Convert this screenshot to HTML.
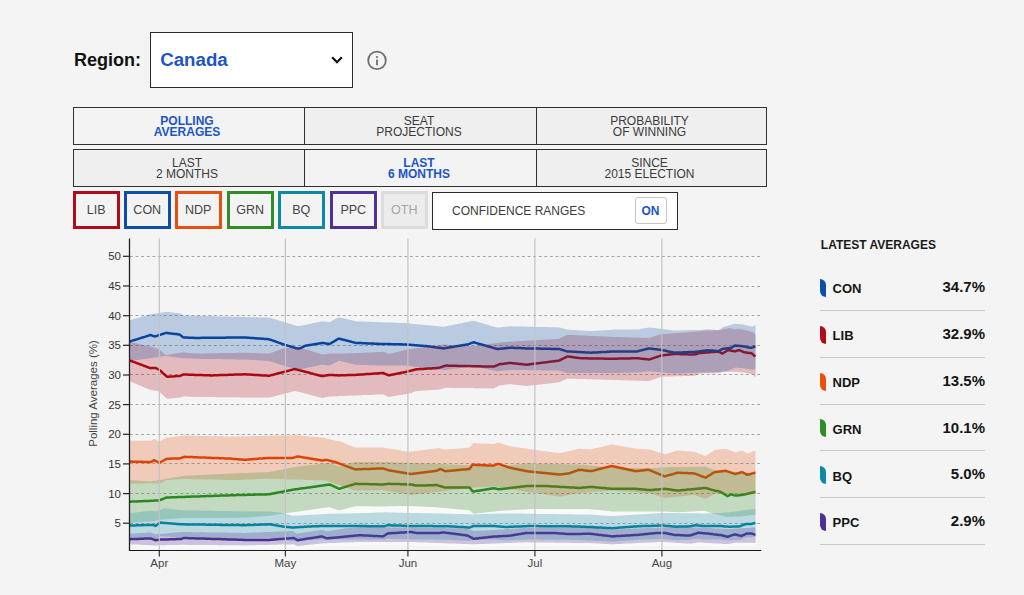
<!DOCTYPE html>
<html><head><meta charset="utf-8"><style>
html,body{margin:0;padding:0;}
body{width:1024px;height:595px;background:#f4f4f4;position:relative;overflow:hidden;font-family:"Liberation Sans",sans-serif;}
.a{position:absolute;white-space:nowrap;}
.row{position:absolute;left:73px;width:692px;height:36px;border:1px solid #303030;background:#efefef;}
.cell{position:absolute;top:0;height:36px;box-sizing:border-box;padding-right:5px;padding-top:2px;display:flex;align-items:center;justify-content:center;text-align:center;font-size:12px;line-height:11.3px;color:#3a3a3a;}
.cell.on{color:#1d55c8;font-weight:bold;background:#f3f3f3;}
.sep{position:absolute;top:0;width:1px;height:36px;background:#303030;}
.pb{position:absolute;top:191px;width:40.5px;height:31.5px;border:3px solid;box-sizing:content-box;display:flex;align-items:center;justify-content:center;font-size:12.5px;color:#444;background:#f3f3f3;}
.mk{position:absolute;left:820.3px;width:6px;height:18px;border-radius:0 6px 0 6px / 0 6px 0 6px;}
.ln{position:absolute;left:832.6px;font-size:13px;font-weight:bold;color:#151515;line-height:15px;}
.vl{position:absolute;right:39px;font-size:15px;font-weight:bold;color:#151515;line-height:17px;text-align:right;}
.dv{position:absolute;left:820px;width:165px;height:1px;background:#c9c9c9;}
</style></head><body>
<div class="a" style="left:74px;top:48px;font-size:18px;font-weight:bold;color:#111;line-height:24px">Region:</div>
<div class="a" style="left:150px;top:32px;width:201px;height:54px;border:1px solid #2a2a2a;background:#fff"></div>
<div class="a" style="left:160.2px;top:48px;font-size:18.7px;font-weight:bold;color:#1d55c4;line-height:24px">Canada</div>
<div class="row" style="top:107px">
 <div class="cell on" style="left:0;width:231px">POLLING<br>AVERAGES</div>
 <div class="sep" style="left:230px"></div>
 <div class="cell" style="left:232px;width:231px">SEAT<br>PROJECTIONS</div>
 <div class="sep" style="left:462px"></div>
 <div class="cell" style="left:464px;width:228px">PROBABILITY<br>OF WINNING</div>
</div>
<div class="row" style="top:149px">
 <div class="cell" style="left:0;width:231px">LAST<br>2 MONTHS</div>
 <div class="sep" style="left:230px"></div>
 <div class="cell on" style="left:232px;width:231px">LAST<br>6 MONTHS</div>
 <div class="sep" style="left:462px"></div>
 <div class="cell" style="left:464px;width:228px">SINCE<br>2015 ELECTION</div>
</div>
<div class="pb" style="left:73px;border-color:rgb(175,12,25)">LIB</div><div class="pb" style="left:124px;border-color:rgb(13,78,168)">CON</div><div class="pb" style="left:175px;border-color:rgb(232,78,12)">NDP</div><div class="pb" style="left:227px;border-color:rgb(48,140,38)">GRN</div><div class="pb" style="left:278px;border-color:rgb(14,137,164)">BQ</div><div class="pb" style="left:330px;border-color:rgb(78,48,150)">PPC</div><div class="pb" style="left:381px;border-color:#dcdcdc;color:#a5a5a5;background:#ececec">OTH</div>
<div class="a" style="left:432px;top:191.6px;width:244px;height:36px;border:1px solid #2a2a2a;background:#fff"></div>
<div class="a" style="left:452px;top:204px;font-size:12px;color:#3a3a3a;line-height:14px">CONFIDENCE RANGES</div>
<div class="a" style="left:634.5px;top:196.5px;width:30px;height:25px;border:1px solid #c4c4c4;border-radius:3px;background:#fff;display:flex;align-items:center;justify-content:center;box-sizing:border-box;padding-top:2px;width:32px;height:27px;font-size:12px;font-weight:bold;color:#1d55c8">ON</div>
<div class="a" style="left:820.8px;top:238px;font-size:12px;font-weight:bold;color:#1a1a1a;line-height:14px">LATEST AVERAGES</div>
<div class="mk" style="top:279.0px;background:rgb(13,78,168)"></div><div class="ln" style="top:281.3px">CON</div><div class="vl" style="top:278.2px">34.7%</div><div class="dv" style="top:310.0px"></div><div class="mk" style="top:325.8px;background:rgb(175,12,25)"></div><div class="ln" style="top:328.1px">LIB</div><div class="vl" style="top:325.0px">32.9%</div><div class="dv" style="top:356.8px"></div><div class="mk" style="top:372.6px;background:rgb(232,78,12)"></div><div class="ln" style="top:374.9px">NDP</div><div class="vl" style="top:371.8px">13.5%</div><div class="dv" style="top:403.6px"></div><div class="mk" style="top:419.4px;background:rgb(48,140,38)"></div><div class="ln" style="top:421.7px">GRN</div><div class="vl" style="top:418.6px">10.1%</div><div class="dv" style="top:450.4px"></div><div class="mk" style="top:466.2px;background:rgb(14,137,164)"></div><div class="ln" style="top:468.5px">BQ</div><div class="vl" style="top:465.4px">5.0%</div><div class="dv" style="top:497.2px"></div><div class="mk" style="top:513.0px;background:rgb(78,48,150)"></div><div class="ln" style="top:515.3px">PPC</div><div class="vl" style="top:512.2px">2.9%</div><div class="dv" style="top:544.0px"></div>
<svg width="1024" height="595" viewBox="0 0 1024 595" style="position:absolute;left:0;top:0">
<line x1="130.0" y1="523.5" x2="760.5" y2="523.5" stroke="#a3a3a3" stroke-width="1" stroke-dasharray="2.8 2.8"/>
<line x1="130.0" y1="493.5" x2="760.5" y2="493.5" stroke="#a3a3a3" stroke-width="1" stroke-dasharray="2.8 2.8"/>
<line x1="130.0" y1="463.5" x2="760.5" y2="463.5" stroke="#a3a3a3" stroke-width="1" stroke-dasharray="2.8 2.8"/>
<line x1="130.0" y1="434.5" x2="760.5" y2="434.5" stroke="#a3a3a3" stroke-width="1" stroke-dasharray="2.8 2.8"/>
<line x1="130.0" y1="404.5" x2="760.5" y2="404.5" stroke="#a3a3a3" stroke-width="1" stroke-dasharray="2.8 2.8"/>
<line x1="130.0" y1="374.5" x2="760.5" y2="374.5" stroke="#a3a3a3" stroke-width="1" stroke-dasharray="2.8 2.8"/>
<line x1="130.0" y1="345.5" x2="760.5" y2="345.5" stroke="#a3a3a3" stroke-width="1" stroke-dasharray="2.8 2.8"/>
<line x1="130.0" y1="315.5" x2="760.5" y2="315.5" stroke="#a3a3a3" stroke-width="1" stroke-dasharray="2.8 2.8"/>
<line x1="130.0" y1="286.5" x2="760.5" y2="286.5" stroke="#a3a3a3" stroke-width="1" stroke-dasharray="2.8 2.8"/>
<line x1="130.0" y1="256.5" x2="760.5" y2="256.5" stroke="#a3a3a3" stroke-width="1" stroke-dasharray="2.8 2.8"/>
<path d="M129.5,522.6 L130.5,522.6 L131.5,522.5 L132.5,522.5 L133.5,522.4 L134.5,522.4 L135.5,522.3 L136.5,522.3 L137.5,522.2 L138.5,522.1 L139.5,522.1 L140.5,522 L141.5,522 L142.5,521.9 L143.5,521.9 L144.5,521.8 L145.5,521.8 L146.5,521.7 L147.5,521.7 L148.5,521.6 L149.5,521.6 L150.5,521.5 L151.5,521.5 L152.5,521.4 L153.5,521.3 L154.5,521 L155.5,520.8 L156.5,520.5 L157.5,520.3 L158.5,520 L159.5,519.8 L160.5,519.6 L161.5,519.5 L162.5,519.4 L163.5,519.4 L164.5,519.3 L165.5,519.2 L166.5,519.2 L167.5,519.1 L168.5,519 L169.5,518.9 L170.5,518.9 L171.5,518.8 L172.5,518.7 L173.5,518.7 L174.5,518.6 L175.5,518.5 L176.5,518.4 L177.5,518.4 L178.5,518.3 L179.5,518.2 L180.5,518.2 L181.5,518.1 L182.5,518.1 L183.5,518.1 L184.5,518.1 L185.5,518.1 L186.5,518.1 L187.5,518.1 L188.5,518.1 L189.5,518 L190.5,518 L191.5,518 L192.5,518 L193.5,518 L194.5,518 L195.5,518 L196.5,518 L197.5,518 L198.5,518 L199.5,518 L200.5,518 L201.5,518 L202.5,518 L203.5,518 L204.5,518 L205.5,517.9 L206.5,517.9 L207.5,517.9 L208.5,517.9 L209.5,517.9 L210.5,517.9 L211.5,517.9 L212.5,517.9 L213.5,517.9 L214.5,517.9 L215.5,517.9 L216.5,517.9 L217.5,517.9 L218.5,517.9 L219.5,517.9 L220.5,517.9 L221.5,517.8 L222.5,517.8 L223.5,517.8 L224.5,517.8 L225.5,517.8 L226.5,517.8 L227.5,517.8 L228.5,517.8 L229.5,517.8 L230.5,517.8 L231.5,517.8 L232.5,517.8 L233.5,517.8 L234.5,517.8 L235.5,517.8 L236.5,517.8 L237.5,517.7 L238.5,517.7 L239.5,517.7 L240.5,517.7 L241.5,517.7 L242.5,517.7 L243.5,517.7 L244.5,517.7 L245.5,517.7 L246.5,517.6 L247.5,517.5 L248.5,517.4 L249.5,517.3 L250.5,517.3 L251.5,517.2 L252.5,517.1 L253.5,517 L254.5,517 L255.5,516.9 L256.5,516.8 L257.5,516.7 L258.5,516.6 L259.5,516.6 L260.5,516.5 L261.5,516.4 L262.5,516.3 L263.5,516.3 L264.5,516.2 L265.5,516.1 L266.5,516 L267.5,515.9 L268.5,515.9 L269.5,515.8 L270.5,515.6 L271.5,515.4 L272.5,515.3 L273.5,515.1 L274.5,514.9 L275.5,514.7 L276.5,514.6 L277.5,514.4 L278.5,514.2 L279.5,514.1 L280.5,513.9 L281.5,513.7 L282.5,513.5 L283.5,513.4 L284.5,513.2 L285.5,513.1 L286.5,513 L287.5,512.9 L288.5,512.8 L289.5,512.7 L290.5,512.5 L291.5,512.4 L292.5,512.3 L293.5,512.2 L294.5,512 L295.5,511.9 L296.5,511.8 L297.5,511.6 L298.5,511.5 L299.5,511.3 L300.5,511.2 L301.5,511 L302.5,510.9 L303.5,510.8 L304.5,510.6 L305.5,510.5 L306.5,510.3 L307.5,510.2 L308.5,510 L309.5,509.9 L310.5,509.8 L311.5,509.6 L312.5,509.5 L313.5,509.3 L314.5,509.2 L315.5,509 L316.5,508.9 L317.5,508.8 L318.5,508.6 L319.5,508.5 L320.5,508.3 L321.5,508.2 L322.5,508 L323.5,507.9 L324.5,507.8 L325.5,507.6 L326.5,507.5 L327.5,507.3 L328.5,507.2 L329.5,507.2 L330.5,507.6 L331.5,507.9 L332.5,508.3 L333.5,508.6 L334.5,509 L335.5,509.3 L336.5,509.6 L337.5,510 L338.5,510.3 L339.5,510.2 L340.5,510 L341.5,509.7 L342.5,509.5 L343.5,509.2 L344.5,509 L345.5,508.7 L346.5,508.5 L347.5,508.2 L348.5,508 L349.5,507.7 L350.5,507.5 L351.5,507.2 L352.5,507 L353.5,506.7 L354.5,506.5 L355.5,506.3 L356.5,506.3 L357.5,506.3 L358.5,506.3 L359.5,506.3 L360.5,506.3 L361.5,506.3 L362.5,506.3 L363.5,506.3 L364.5,506.3 L365.5,506.3 L366.5,506.3 L367.5,506.3 L368.5,506.3 L369.5,506.3 L370.5,506.4 L371.5,506.4 L372.5,506.4 L373.5,506.4 L374.5,506.4 L375.5,506.4 L376.5,506.4 L377.5,506.4 L378.5,506.4 L379.5,506.4 L380.5,506.4 L381.5,506.4 L382.5,506.4 L383.5,506.4 L384.5,506.4 L385.5,506.4 L386.5,506.4 L387.5,506.3 L388.5,506.3 L389.5,506.3 L390.5,506.3 L391.5,506.2 L392.5,506.2 L393.5,506.2 L394.5,506.2 L395.5,506.2 L396.5,506.1 L397.5,506.1 L398.5,506.1 L399.5,506.1 L400.5,506.1 L401.5,506 L402.5,506 L403.5,506 L404.5,506 L405.5,505.9 L406.5,505.9 L407.5,505.9 L408.5,505.9 L409.5,506 L410.5,506 L411.5,506.1 L412.5,506.1 L413.5,506.2 L414.5,506.2 L415.5,506.3 L416.5,506.3 L417.5,506.4 L418.5,506.4 L419.5,506.5 L420.5,506.5 L421.5,506.6 L422.5,506.6 L423.5,506.7 L424.5,506.7 L425.5,506.8 L426.5,506.8 L427.5,506.8 L428.5,506.9 L429.5,506.9 L430.5,507 L431.5,507 L432.5,507.1 L433.5,507.1 L434.5,507.2 L435.5,507.2 L436.5,507.3 L437.5,507.3 L438.5,507.4 L439.5,507.5 L440.5,507.6 L441.5,507.7 L442.5,507.8 L443.5,507.9 L444.5,508 L445.5,508.1 L446.5,508.2 L447.5,508.3 L448.5,508.4 L449.5,508.4 L450.5,508.5 L451.5,508.6 L452.5,508.7 L453.5,508.8 L454.5,508.9 L455.5,509 L456.5,509.1 L457.5,509.2 L458.5,509.3 L459.5,509.4 L460.5,509.4 L461.5,509.5 L462.5,509.6 L463.5,509.7 L464.5,509.8 L465.5,509.9 L466.5,510 L467.5,510.1 L468.5,510.2 L469.5,510.3 L470.5,511 L471.5,512 L472.5,512.9 L473.5,513.8 L474.5,513.7 L475.5,513.6 L476.5,513.5 L477.5,513.3 L478.5,513.2 L479.5,513.1 L480.5,513 L481.5,512.9 L482.5,512.8 L483.5,512.7 L484.5,512.6 L485.5,512.4 L486.5,512.3 L487.5,512.2 L488.5,512.1 L489.5,512 L490.5,511.9 L491.5,511.8 L492.5,511.7 L493.5,511.5 L494.5,511.4 L495.5,511.3 L496.5,511.2 L497.5,511.1 L498.5,511 L499.5,510.9 L500.5,510.8 L501.5,510.8 L502.5,510.7 L503.5,510.6 L504.5,510.6 L505.5,510.5 L506.5,510.5 L507.5,510.4 L508.5,510.3 L509.5,510.3 L510.5,510.2 L511.5,510.2 L512.5,510.1 L513.5,510 L514.5,510 L515.5,509.9 L516.5,509.8 L517.5,509.8 L518.5,509.7 L519.5,509.7 L520.5,509.6 L521.5,509.5 L522.5,509.5 L523.5,509.4 L524.5,509.4 L525.5,509.3 L526.5,509.2 L527.5,509.2 L528.5,509.1 L529.5,509.1 L530.5,509.1 L531.5,509.1 L532.5,509.1 L533.5,509.1 L534.5,509.1 L535.5,509.1 L536.5,509.1 L537.5,509.1 L538.5,509.1 L539.5,509.1 L540.5,509.1 L541.5,509.1 L542.5,509.1 L543.5,509.1 L544.5,509.1 L545.5,509.1 L546.5,509.1 L547.5,509.1 L548.5,509.1 L549.5,509.1 L550.5,509.1 L551.5,509.1 L552.5,509.1 L553.5,509.1 L554.5,509.1 L555.5,509.1 L556.5,509.1 L557.5,509.1 L558.5,509.1 L559.5,509.1 L560.5,509.1 L561.5,509.1 L562.5,509.1 L563.5,509.1 L564.5,509.1 L565.5,509.1 L566.5,509.1 L567.5,509.1 L568.5,509.1 L569.5,509.1 L570.5,509.1 L571.5,509.1 L572.5,509.1 L573.5,509.1 L574.5,509.1 L575.5,509.1 L576.5,509.1 L577.5,509.1 L578.5,509.1 L579.5,509.1 L580.5,509.1 L581.5,509.1 L582.5,509.1 L583.5,509.1 L584.5,509.1 L585.5,509.1 L586.5,509.1 L587.5,509.1 L588.5,509.1 L589.5,509.1 L590.5,509.2 L591.5,509.3 L592.5,509.4 L593.5,509.5 L594.5,509.6 L595.5,509.7 L596.5,509.8 L597.5,509.9 L598.5,510 L599.5,510.1 L600.5,510.2 L601.5,510.3 L602.5,510.4 L603.5,510.5 L604.5,510.6 L605.5,510.7 L606.5,510.8 L607.5,510.9 L608.5,511 L609.5,511.1 L610.5,511.2 L611.5,511.3 L612.5,511.4 L613.5,511.4 L614.5,511.4 L615.5,511.4 L616.5,511.4 L617.5,511.4 L618.5,511.4 L619.5,511.4 L620.5,511.4 L621.5,511.4 L622.5,511.4 L623.5,511.4 L624.5,511.4 L625.5,511.4 L626.5,511.4 L627.5,511.4 L628.5,511.4 L629.5,511.4 L630.5,511.4 L631.5,511.4 L632.5,511.4 L633.5,511.4 L634.5,511.4 L635.5,511.4 L636.5,511.4 L637.5,511.4 L638.5,511.4 L639.5,511.4 L640.5,511.4 L641.5,511.4 L642.5,511.4 L643.5,511.4 L644.5,511.4 L645.5,511.4 L646.5,511.4 L647.5,511.4 L648.5,511.4 L649.5,511.4 L650.5,511.4 L651.5,511.4 L652.5,511.4 L653.5,511.4 L654.5,511.4 L655.5,511.4 L656.5,511.4 L657.5,511.4 L658.5,511.4 L659.5,511.4 L660.5,511.4 L661.5,511.4 L662.5,511.4 L663.5,511.5 L664.5,511.5 L665.5,511.6 L666.5,511.6 L667.5,511.7 L668.5,511.7 L669.5,511.8 L670.5,511.8 L671.5,511.9 L672.5,512 L673.5,512 L674.5,512.1 L675.5,512.1 L676.5,512.2 L677.5,512.2 L678.5,512.3 L679.5,512.3 L680.5,512.2 L681.5,512.1 L682.5,512.1 L683.5,512 L684.5,511.9 L685.5,511.9 L686.5,511.8 L687.5,511.8 L688.5,511.7 L689.5,511.6 L690.5,511.6 L691.5,511.5 L692.5,511.5 L693.5,511.4 L694.5,511.3 L695.5,511.3 L696.5,511.2 L697.5,511.1 L698.5,511.1 L699.5,511 L700.5,511 L701.5,510.9 L702.5,510.8 L703.5,510.8 L704.5,510.7 L705.5,511 L706.5,511.4 L707.5,511.7 L708.5,512.1 L709.5,512.4 L710.5,512.8 L711.5,513.1 L712.5,513.3 L713.5,513.5 L714.5,513.8 L715.5,514 L716.5,514.3 L717.5,514.5 L718.5,514.7 L719.5,515 L720.5,515.2 L721.5,515.5 L722.5,515.7 L723.5,515.9 L724.5,516.2 L725.5,516.4 L726.5,516.7 L727.5,516.9 L728.5,516.9 L729.5,516.8 L730.5,516.8 L731.5,516.8 L732.5,516.7 L733.5,516.7 L734.5,516.6 L735.5,516.6 L736.5,516.6 L737.5,516.5 L738.5,516.5 L739.5,516.5 L740.5,516.4 L741.5,516.4 L742.5,516.3 L743.5,516.1 L744.5,516 L745.5,515.9 L746.5,515.8 L747.5,515.6 L748.5,515.5 L749.5,515.4 L750.5,515.3 L751.5,515.1 L752.5,515 L753.5,514.9 L754.5,514.8 L755.5,514.7 L755.5,514.7 L754.5,514.8 L753.5,514.9 L752.5,515 L751.5,515.1 L750.5,515.3 L749.5,515.4 L748.5,515.5 L747.5,515.6 L746.5,515.8 L745.5,515.9 L744.5,516 L743.5,516.1 L742.5,516.3 L741.5,516.4 L740.5,516.4 L739.5,516.5 L738.5,516.5 L737.5,516.5 L736.5,516.6 L735.5,516.6 L734.5,516.6 L733.5,516.7 L732.5,516.7 L731.5,516.8 L730.5,516.8 L729.5,516.8 L728.5,516.9 L727.5,516.9 L726.5,516.7 L725.5,516.4 L724.5,516.2 L723.5,515.9 L722.5,515.7 L721.5,515.5 L720.5,515.2 L719.5,515 L718.5,514.7 L717.5,514.5 L716.5,514.3 L715.5,514 L714.5,513.8 L713.5,513.5 L712.5,513.3 L711.5,513.2 L710.5,513.2 L709.5,513.2 L708.5,513.3 L707.5,513.3 L706.5,513.3 L705.5,513.4 L704.5,513.4 L703.5,513.4 L702.5,513.4 L701.5,513.4 L700.5,513.4 L699.5,513.3 L698.5,513.3 L697.5,513.3 L696.5,513.3 L695.5,513.3 L694.5,513.3 L693.5,513.3 L692.5,513.3 L691.5,513.3 L690.5,513.3 L689.5,513.3 L688.5,513.2 L687.5,513.2 L686.5,513.2 L685.5,513.2 L684.5,513.2 L683.5,513.2 L682.5,513.2 L681.5,513.2 L680.5,513.2 L679.5,513.2 L678.5,513.2 L677.5,513.1 L676.5,513.1 L675.5,513.1 L674.5,513.1 L673.5,513.1 L672.5,513.1 L671.5,513.1 L670.5,513.1 L669.5,513.1 L668.5,513.1 L667.5,513 L666.5,513 L665.5,513 L664.5,513 L663.5,513 L662.5,513 L661.5,513 L660.5,513.1 L659.5,513.2 L658.5,513.2 L657.5,513.3 L656.5,513.4 L655.5,513.4 L654.5,513.5 L653.5,513.5 L652.5,513.6 L651.5,513.7 L650.5,513.7 L649.5,513.8 L648.5,513.9 L647.5,513.9 L646.5,514 L645.5,514 L644.5,514.1 L643.5,514.2 L642.5,514.2 L641.5,514.3 L640.5,514.3 L639.5,514.4 L638.5,514.5 L637.5,514.5 L636.5,514.6 L635.5,514.7 L634.5,514.7 L633.5,514.8 L632.5,514.8 L631.5,514.9 L630.5,515 L629.5,515 L628.5,515.1 L627.5,515.1 L626.5,515.2 L625.5,515.3 L624.5,515.3 L623.5,515.4 L622.5,515.5 L621.5,515.5 L620.5,515.6 L619.5,515.6 L618.5,515.7 L617.5,515.8 L616.5,515.8 L615.5,515.9 L614.5,515.9 L613.5,516 L612.5,516.1 L611.5,516.1 L610.5,516 L609.5,515.9 L608.5,515.9 L607.5,515.8 L606.5,515.7 L605.5,515.7 L604.5,515.6 L603.5,515.5 L602.5,515.5 L601.5,515.4 L600.5,515.3 L599.5,515.2 L598.5,515.2 L597.5,515.1 L596.5,515 L595.5,515 L594.5,514.9 L593.5,514.8 L592.5,514.8 L591.5,514.7 L590.5,514.6 L589.5,514.6 L588.5,514.6 L587.5,514.6 L586.5,514.6 L585.5,514.5 L584.5,514.5 L583.5,514.5 L582.5,514.5 L581.5,514.5 L580.5,514.5 L579.5,514.5 L578.5,514.4 L577.5,514.4 L576.5,514.4 L575.5,514.4 L574.5,514.4 L573.5,514.4 L572.5,514.4 L571.5,514.3 L570.5,514.3 L569.5,514.3 L568.5,514.3 L567.5,514.3 L566.5,514.3 L565.5,514.3 L564.5,514.2 L563.5,514.2 L562.5,514.2 L561.5,514.2 L560.5,514.2 L559.5,514.2 L558.5,514.2 L557.5,514.1 L556.5,514.1 L555.5,514.1 L554.5,514.1 L553.5,514.1 L552.5,514.1 L551.5,514.1 L550.5,514 L549.5,514 L548.5,514 L547.5,514 L546.5,514 L545.5,514 L544.5,514 L543.5,513.9 L542.5,513.9 L541.5,513.9 L540.5,513.9 L539.5,513.9 L538.5,513.9 L537.5,513.9 L536.5,513.8 L535.5,513.8 L534.5,513.8 L533.5,513.8 L532.5,513.8 L531.5,513.8 L530.5,513.8 L529.5,513.7 L528.5,513.7 L527.5,513.7 L526.5,513.7 L525.5,513.7 L524.5,513.7 L523.5,513.7 L522.5,513.6 L521.5,513.6 L520.5,513.6 L519.5,513.6 L518.5,513.6 L517.5,513.6 L516.5,513.6 L515.5,513.5 L514.5,513.5 L513.5,513.5 L512.5,513.5 L511.5,513.5 L510.5,513.5 L509.5,513.5 L508.5,513.4 L507.5,513.4 L506.5,513.4 L505.5,513.4 L504.5,513.4 L503.5,513.5 L502.5,513.5 L501.5,513.5 L500.5,513.5 L499.5,513.6 L498.5,513.6 L497.5,513.6 L496.5,513.7 L495.5,513.7 L494.5,513.7 L493.5,513.8 L492.5,513.8 L491.5,513.8 L490.5,513.8 L489.5,513.9 L488.5,513.9 L487.5,513.9 L486.5,514 L485.5,514 L484.5,514 L483.5,514.1 L482.5,514.1 L481.5,514.1 L480.5,514.1 L479.5,514.2 L478.5,514.2 L477.5,514.2 L476.5,514.3 L475.5,514.3 L474.5,514.3 L473.5,514.4 L472.5,514.4 L471.5,514.4 L470.5,514.4 L469.5,514.3 L468.5,514.3 L467.5,514.3 L466.5,514.2 L465.5,514.2 L464.5,514.2 L463.5,514.2 L462.5,514.1 L461.5,514.1 L460.5,514.1 L459.5,514 L458.5,514 L457.5,514 L456.5,514 L455.5,513.9 L454.5,513.9 L453.5,513.9 L452.5,513.8 L451.5,513.8 L450.5,513.8 L449.5,513.8 L448.5,513.7 L447.5,513.7 L446.5,513.7 L445.5,513.6 L444.5,513.6 L443.5,513.6 L442.5,513.6 L441.5,513.5 L440.5,513.5 L439.5,513.5 L438.5,513.4 L437.5,513.4 L436.5,513.4 L435.5,513.4 L434.5,513.4 L433.5,513.4 L432.5,513.3 L431.5,513.3 L430.5,513.3 L429.5,513.3 L428.5,513.3 L427.5,513.3 L426.5,513.3 L425.5,513.2 L424.5,513.2 L423.5,513.2 L422.5,513.2 L421.5,513.2 L420.5,513.2 L419.5,513.2 L418.5,513.1 L417.5,513.1 L416.5,513.1 L415.5,513.1 L414.5,513.1 L413.5,513.1 L412.5,513.1 L411.5,513.1 L410.5,513 L409.5,513 L408.5,513 L407.5,513 L406.5,513 L405.5,512.9 L404.5,512.9 L403.5,512.9 L402.5,512.8 L401.5,512.8 L400.5,512.8 L399.5,512.7 L398.5,512.7 L397.5,512.7 L396.5,512.6 L395.5,512.6 L394.5,512.6 L393.5,512.6 L392.5,512.5 L391.5,512.5 L390.5,512.5 L389.5,512.4 L388.5,512.4 L387.5,512.4 L386.5,512.3 L385.5,512.3 L384.5,512.3 L383.5,512.4 L382.5,512.4 L381.5,512.4 L380.5,512.5 L379.5,512.5 L378.5,512.5 L377.5,512.6 L376.5,512.6 L375.5,512.7 L374.5,512.7 L373.5,512.7 L372.5,512.8 L371.5,512.8 L370.5,512.8 L369.5,512.9 L368.5,512.9 L367.5,512.9 L366.5,513 L365.5,513 L364.5,513 L363.5,513.1 L362.5,513.1 L361.5,513.1 L360.5,513.2 L359.5,513.2 L358.5,513.2 L357.5,513.2 L356.5,513.3 L355.5,513.3 L354.5,513.3 L353.5,513.3 L352.5,513.3 L351.5,513.4 L350.5,513.4 L349.5,513.4 L348.5,513.4 L347.5,513.4 L346.5,513.5 L345.5,513.5 L344.5,513.5 L343.5,513.5 L342.5,513.5 L341.5,513.6 L340.5,513.6 L339.5,513.6 L338.5,513.6 L337.5,513.6 L336.5,513.7 L335.5,513.7 L334.5,513.7 L333.5,513.7 L332.5,513.7 L331.5,513.8 L330.5,513.8 L329.5,513.8 L328.5,513.8 L327.5,513.9 L326.5,513.9 L325.5,514 L324.5,514.1 L323.5,514.1 L322.5,514.2 L321.5,514.2 L320.5,514.3 L319.5,514.3 L318.5,514.4 L317.5,514.4 L316.5,514.5 L315.5,514.5 L314.5,514.6 L313.5,514.7 L312.5,514.7 L311.5,514.8 L310.5,514.8 L309.5,514.9 L308.5,514.9 L307.5,515 L306.5,515 L305.5,515.1 L304.5,515.2 L303.5,515.2 L302.5,515.3 L301.5,515.3 L300.5,515.4 L299.5,515.4 L298.5,515.5 L297.5,515.5 L296.5,515.6 L295.5,515.6 L294.5,515.7 L293.5,515.8 L292.5,515.7 L291.5,515.4 L290.5,515.1 L289.5,514.8 L288.5,514.5 L287.5,514.2 L286.5,513.8 L285.5,513.5 L284.5,513.2 L283.5,513.4 L282.5,513.5 L281.5,513.7 L280.5,513.9 L279.5,514.1 L278.5,514.2 L277.5,514.4 L276.5,514.6 L275.5,514.7 L274.5,514.9 L273.5,515.1 L272.5,515.3 L271.5,515.4 L270.5,515.6 L269.5,515.8 L268.5,515.9 L267.5,515.9 L266.5,516 L265.5,516.1 L264.5,516.2 L263.5,516.3 L262.5,516.3 L261.5,516.4 L260.5,516.5 L259.5,516.6 L258.5,516.6 L257.5,516.7 L256.5,516.8 L255.5,516.9 L254.5,517 L253.5,517 L252.5,517.1 L251.5,517.2 L250.5,517.3 L249.5,517.3 L248.5,517.4 L247.5,517.5 L246.5,517.6 L245.5,517.7 L244.5,517.7 L243.5,517.7 L242.5,517.7 L241.5,517.7 L240.5,517.7 L239.5,517.7 L238.5,517.7 L237.5,517.7 L236.5,517.8 L235.5,517.8 L234.5,517.8 L233.5,517.8 L232.5,517.8 L231.5,517.8 L230.5,517.8 L229.5,517.8 L228.5,517.8 L227.5,517.8 L226.5,517.8 L225.5,517.8 L224.5,517.8 L223.5,517.8 L222.5,517.8 L221.5,517.8 L220.5,517.9 L219.5,517.9 L218.5,517.9 L217.5,517.9 L216.5,517.9 L215.5,517.9 L214.5,517.9 L213.5,517.9 L212.5,517.9 L211.5,517.9 L210.5,517.9 L209.5,517.9 L208.5,517.9 L207.5,517.9 L206.5,517.9 L205.5,517.9 L204.5,518 L203.5,518 L202.5,518 L201.5,518 L200.5,518 L199.5,518 L198.5,518 L197.5,518 L196.5,518 L195.5,518 L194.5,518 L193.5,518 L192.5,518 L191.5,518 L190.5,518 L189.5,518 L188.5,518.1 L187.5,518.1 L186.5,518.1 L185.5,518.1 L184.5,518.1 L183.5,518.1 L182.5,518.1 L181.5,518.1 L180.5,518.2 L179.5,518.2 L178.5,518.3 L177.5,518.4 L176.5,518.4 L175.5,518.5 L174.5,518.6 L173.5,518.7 L172.5,518.7 L171.5,518.8 L170.5,518.9 L169.5,518.9 L168.5,519 L167.5,519.1 L166.5,519.2 L165.5,519.2 L164.5,519.3 L163.5,519.4 L162.5,519.4 L161.5,519.5 L160.5,519.6 L159.5,519.8 L158.5,520 L157.5,520.3 L156.5,520.5 L155.5,520.8 L154.5,521 L153.5,521.3 L152.5,521.4 L151.5,521.5 L150.5,521.5 L149.5,521.6 L148.5,521.6 L147.5,521.7 L146.5,521.7 L145.5,521.8 L144.5,521.8 L143.5,521.9 L142.5,521.9 L141.5,522 L140.5,522 L139.5,522.1 L138.5,522.1 L137.5,522.2 L136.5,522.3 L135.5,522.3 L134.5,522.4 L133.5,522.4 L132.5,522.5 L131.5,522.5 L130.5,522.6 L129.5,522.6Z" fill="#f9f9f9"/>
<path d="M129.5,544.3 L130.5,544.3 L131.5,544.4 L132.5,544.4 L133.5,544.5 L134.5,544.5 L135.5,544.6 L136.5,544.6 L137.5,544.6 L138.5,544.7 L139.5,544.7 L140.5,544.8 L141.5,544.8 L142.5,544.9 L143.5,544.9 L144.5,545 L145.5,545 L146.5,545.1 L147.5,545.1 L148.5,545.1 L149.5,545.2 L150.5,545.2 L151.5,545.3 L152.5,545.3 L153.5,545.4 L154.5,545.4 L155.5,545.4 L156.5,545.4 L157.5,545.3 L158.5,545.3 L159.5,545.3 L160.5,545.3 L161.5,545.2 L162.5,545.2 L163.5,545.2 L164.5,545.2 L165.5,545.2 L166.5,545.1 L167.5,545.1 L168.5,545.1 L169.5,545.1 L170.5,545 L171.5,545 L172.5,545 L173.5,545 L174.5,545 L175.5,544.9 L176.5,544.9 L177.5,544.9 L178.5,544.9 L179.5,544.8 L180.5,544.8 L181.5,544.8 L182.5,544.8 L183.5,544.8 L184.5,544.8 L185.5,544.8 L186.5,544.8 L187.5,544.9 L188.5,544.9 L189.5,544.9 L190.5,544.9 L191.5,544.9 L192.5,544.9 L193.5,544.9 L194.5,544.9 L195.5,544.9 L196.5,544.9 L197.5,545 L198.5,545 L199.5,545 L200.5,545 L201.5,545 L202.5,545 L203.5,545 L204.5,545 L205.5,545 L206.5,545 L207.5,545 L208.5,545.1 L209.5,545.1 L210.5,545.1 L211.5,545.1 L212.5,545.1 L213.5,545.1 L214.5,545.1 L215.5,545.1 L216.5,545.1 L217.5,545.1 L218.5,545.2 L219.5,545.2 L220.5,545.2 L221.5,545.2 L222.5,545.2 L223.5,545.2 L224.5,545.2 L225.5,545.2 L226.5,545.2 L227.5,545.2 L228.5,545.2 L229.5,545.3 L230.5,545.3 L231.5,545.3 L232.5,545.3 L233.5,545.3 L234.5,545.3 L235.5,545.3 L236.5,545.3 L237.5,545.3 L238.5,545.3 L239.5,545.3 L240.5,545.4 L241.5,545.4 L242.5,545.4 L243.5,545.4 L244.5,545.4 L245.5,545.4 L246.5,545.4 L247.5,545.3 L248.5,545.3 L249.5,545.3 L250.5,545.3 L251.5,545.3 L252.5,545.2 L253.5,545.2 L254.5,545.2 L255.5,545.2 L256.5,545.1 L257.5,545.1 L258.5,545.1 L259.5,545.1 L260.5,545.1 L261.5,545 L262.5,545 L263.5,545 L264.5,545 L265.5,544.9 L266.5,544.9 L267.5,544.9 L268.5,544.9 L269.5,544.8 L270.5,544.8 L271.5,544.8 L272.5,544.8 L273.5,544.8 L274.5,544.7 L275.5,544.7 L276.5,544.7 L277.5,544.7 L278.5,544.6 L279.5,544.6 L280.5,544.6 L281.5,544.6 L282.5,544.6 L283.5,544.5 L284.5,544.5 L285.5,544.5 L286.5,544.5 L287.5,544.4 L288.5,544.4 L289.5,544.4 L290.5,544.4 L291.5,544.4 L292.5,544.3 L293.5,544.3 L294.5,544.6 L295.5,545.1 L296.5,545.6 L297.5,546 L298.5,545.9 L299.5,545.8 L300.5,545.7 L301.5,545.6 L302.5,545.5 L303.5,545.4 L304.5,545.2 L305.5,545.1 L306.5,545 L307.5,544.9 L308.5,544.8 L309.5,544.7 L310.5,544.6 L311.5,544.5 L312.5,544.4 L313.5,544.3 L314.5,544.2 L315.5,544.1 L316.5,544 L317.5,543.9 L318.5,543.8 L319.5,543.7 L320.5,543.6 L321.5,543.5 L322.5,543.4 L323.5,543.3 L324.5,543.3 L325.5,543.3 L326.5,543.2 L327.5,543.2 L328.5,543.1 L329.5,543.1 L330.5,543.1 L331.5,543 L332.5,543 L333.5,542.9 L334.5,542.9 L335.5,542.9 L336.5,542.8 L337.5,542.8 L338.5,542.7 L339.5,542.7 L340.5,542.7 L341.5,542.6 L342.5,542.6 L343.5,542.6 L344.5,542.5 L345.5,542.5 L346.5,542.4 L347.5,542.4 L348.5,542.4 L349.5,542.3 L350.5,542.3 L351.5,542.2 L352.5,542.2 L353.5,542.2 L354.5,542.1 L355.5,542.1 L356.5,542 L357.5,542 L358.5,542 L359.5,541.9 L360.5,541.9 L361.5,541.9 L362.5,541.9 L363.5,541.9 L364.5,541.9 L365.5,541.9 L366.5,541.9 L367.5,541.9 L368.5,541.9 L369.5,541.9 L370.5,541.9 L371.5,541.9 L372.5,541.9 L373.5,541.9 L374.5,541.9 L375.5,541.9 L376.5,541.9 L377.5,541.9 L378.5,541.9 L379.5,541.9 L380.5,541.9 L381.5,541.9 L382.5,541.9 L383.5,541.9 L384.5,541.9 L385.5,541.9 L386.5,541.9 L387.5,541.9 L388.5,541.9 L389.5,541.9 L390.5,541.9 L391.5,541.9 L392.5,541.9 L393.5,541.9 L394.5,541.9 L395.5,541.9 L396.5,541.9 L397.5,541.9 L398.5,541.9 L399.5,541.9 L400.5,541.9 L401.5,541.9 L402.5,541.9 L403.5,541.9 L404.5,541.9 L405.5,541.9 L406.5,541.9 L407.5,541.9 L408.5,541.9 L409.5,542 L410.5,542 L411.5,542 L412.5,542.1 L413.5,542.1 L414.5,542.1 L415.5,542.2 L416.5,542.2 L417.5,542.3 L418.5,542.3 L419.5,542.3 L420.5,542.4 L421.5,542.4 L422.5,542.4 L423.5,542.5 L424.5,542.5 L425.5,542.5 L426.5,542.6 L427.5,542.6 L428.5,542.7 L429.5,542.7 L430.5,542.7 L431.5,542.8 L432.5,542.8 L433.5,542.8 L434.5,542.9 L435.5,542.9 L436.5,543 L437.5,543 L438.5,543 L439.5,543.1 L440.5,543.1 L441.5,543.1 L442.5,543.2 L443.5,543.2 L444.5,543.2 L445.5,543.3 L446.5,543.3 L447.5,543.4 L448.5,543.4 L449.5,543.4 L450.5,543.5 L451.5,543.5 L452.5,543.5 L453.5,543.6 L454.5,543.6 L455.5,543.6 L456.5,543.7 L457.5,543.7 L458.5,543.8 L459.5,543.8 L460.5,543.8 L461.5,543.9 L462.5,543.9 L463.5,543.9 L464.5,544 L465.5,544 L466.5,544 L467.5,544.1 L468.5,544.1 L469.5,544.2 L470.5,544.2 L471.5,544.2 L472.5,544.3 L473.5,544.3 L474.5,544.3 L475.5,544.2 L476.5,544.2 L477.5,544.1 L478.5,544.1 L479.5,544.1 L480.5,544 L481.5,544 L482.5,544 L483.5,543.9 L484.5,543.9 L485.5,543.8 L486.5,543.8 L487.5,543.8 L488.5,543.7 L489.5,543.7 L490.5,543.7 L491.5,543.6 L492.5,543.6 L493.5,543.5 L494.5,543.5 L495.5,543.5 L496.5,543.4 L497.5,543.4 L498.5,543.4 L499.5,543.3 L500.5,543.3 L501.5,543.2 L502.5,543.2 L503.5,543.2 L504.5,543.1 L505.5,543.1 L506.5,543 L507.5,543 L508.5,543 L509.5,542.9 L510.5,542.9 L511.5,542.9 L512.5,542.8 L513.5,542.8 L514.5,542.7 L515.5,542.7 L516.5,542.7 L517.5,542.6 L518.5,542.6 L519.5,542.6 L520.5,542.5 L521.5,542.5 L522.5,542.4 L523.5,542.4 L524.5,542.4 L525.5,542.3 L526.5,542.3 L527.5,542.3 L528.5,542.3 L529.5,542.3 L530.5,542.4 L531.5,542.4 L532.5,542.4 L533.5,542.4 L534.5,542.4 L535.5,542.4 L536.5,542.4 L537.5,542.4 L538.5,542.5 L539.5,542.5 L540.5,542.5 L541.5,542.5 L542.5,542.5 L543.5,542.5 L544.5,542.5 L545.5,542.5 L546.5,542.6 L547.5,542.6 L548.5,542.6 L549.5,542.6 L550.5,542.6 L551.5,542.6 L552.5,542.6 L553.5,542.6 L554.5,542.7 L555.5,542.7 L556.5,542.7 L557.5,542.7 L558.5,542.7 L559.5,542.7 L560.5,542.7 L561.5,542.7 L562.5,542.8 L563.5,542.8 L564.5,542.8 L565.5,542.8 L566.5,542.8 L567.5,542.8 L568.5,542.8 L569.5,542.8 L570.5,542.9 L571.5,542.9 L572.5,542.9 L573.5,542.9 L574.5,542.9 L575.5,542.9 L576.5,542.9 L577.5,542.9 L578.5,543 L579.5,543 L580.5,543 L581.5,543 L582.5,543 L583.5,543 L584.5,543 L585.5,543 L586.5,543.1 L587.5,543.1 L588.5,543.1 L589.5,543.1 L590.5,543.1 L591.5,543.2 L592.5,543.2 L593.5,543.3 L594.5,543.3 L595.5,543.4 L596.5,543.5 L597.5,543.5 L598.5,543.6 L599.5,543.6 L600.5,543.7 L601.5,543.7 L602.5,543.8 L603.5,543.8 L604.5,543.9 L605.5,543.9 L606.5,544 L607.5,544.1 L608.5,544.1 L609.5,544.2 L610.5,544.2 L611.5,544.3 L612.5,544.3 L613.5,544.2 L614.5,544.2 L615.5,544.1 L616.5,544.1 L617.5,544 L618.5,544 L619.5,543.9 L620.5,543.9 L621.5,543.8 L622.5,543.8 L623.5,543.8 L624.5,543.7 L625.5,543.7 L626.5,543.6 L627.5,543.6 L628.5,543.5 L629.5,543.5 L630.5,543.4 L631.5,543.4 L632.5,543.3 L633.5,543.3 L634.5,543.2 L635.5,543.2 L636.5,543.1 L637.5,543.1 L638.5,543 L639.5,543 L640.5,542.9 L641.5,542.9 L642.5,542.8 L643.5,542.8 L644.5,542.7 L645.5,542.7 L646.5,542.7 L647.5,542.6 L648.5,542.6 L649.5,542.5 L650.5,542.5 L651.5,542.4 L652.5,542.4 L653.5,542.3 L654.5,542.3 L655.5,542.2 L656.5,542.2 L657.5,542.1 L658.5,542.1 L659.5,542 L660.5,542 L661.5,541.9 L662.5,541.9 L663.5,542 L664.5,542 L665.5,542.1 L666.5,542.2 L667.5,542.2 L668.5,542.3 L669.5,542.4 L670.5,542.4 L671.5,542.5 L672.5,542.6 L673.5,542.6 L674.5,542.7 L675.5,542.7 L676.5,542.8 L677.5,542.9 L678.5,542.9 L679.5,543 L680.5,543.1 L681.5,543.1 L682.5,543.2 L683.5,543.3 L684.5,543.3 L685.5,543.4 L686.5,543.4 L687.5,543.5 L688.5,543.6 L689.5,543.6 L690.5,543.7 L691.5,543.5 L692.5,543.4 L693.5,543.2 L694.5,543 L695.5,542.9 L696.5,542.7 L697.5,542.6 L698.5,542.4 L699.5,542.5 L700.5,542.5 L701.5,542.6 L702.5,542.6 L703.5,542.7 L704.5,542.8 L705.5,542.8 L706.5,542.9 L707.5,542.9 L708.5,543 L709.5,543 L710.5,543.1 L711.5,543.2 L712.5,543.2 L713.5,543.3 L714.5,543.3 L715.5,543.4 L716.5,543.5 L717.5,543.5 L718.5,543.6 L719.5,543.6 L720.5,543.7 L721.5,543.7 L722.5,543.8 L723.5,543.9 L724.5,543.9 L725.5,544 L726.5,544 L727.5,544.1 L728.5,543.9 L729.5,543.7 L730.5,543.5 L731.5,543.4 L732.5,543.2 L733.5,543 L734.5,542.8 L735.5,542.8 L736.5,542.8 L737.5,542.8 L738.5,542.8 L739.5,542.8 L740.5,542.8 L741.5,542.8 L742.5,542.8 L743.5,542.8 L744.5,542.8 L745.5,542.8 L746.5,542.8 L747.5,542.8 L748.5,542.8 L749.5,542.8 L750.5,542.8 L751.5,542.8 L752.5,542.8 L753.5,542.8 L754.5,542.8 L755.5,542.8 L755.5,546.3 L754.5,546.3 L753.5,546.3 L752.5,546.3 L751.5,546.3 L750.5,546.3 L749.5,546.3 L748.5,546.3 L747.5,546.3 L746.5,546.3 L745.5,546.3 L744.5,546.3 L743.5,546.3 L742.5,546.3 L741.5,546.3 L740.5,546.3 L739.5,546.3 L738.5,546.3 L737.5,546.3 L736.5,546.3 L735.5,546.3 L734.5,546.3 L733.5,546.5 L732.5,546.7 L731.5,546.9 L730.5,547 L729.5,547.2 L728.5,547.4 L727.5,547.6 L726.5,547.5 L725.5,547.5 L724.5,547.4 L723.5,547.4 L722.5,547.3 L721.5,547.2 L720.5,547.2 L719.5,547.1 L718.5,547.1 L717.5,547 L716.5,547 L715.5,546.9 L714.5,546.8 L713.5,546.8 L712.5,546.7 L711.5,546.7 L710.5,546.6 L709.5,546.5 L708.5,546.5 L707.5,546.4 L706.5,546.4 L705.5,546.3 L704.5,546.3 L703.5,546.2 L702.5,546.1 L701.5,546.1 L700.5,546 L699.5,546 L698.5,545.9 L697.5,546.1 L696.5,546.2 L695.5,546.4 L694.5,546.5 L693.5,546.7 L692.5,546.9 L691.5,547 L690.5,547.2 L689.5,547.1 L688.5,547.1 L687.5,547 L686.5,546.9 L685.5,546.9 L684.5,546.8 L683.5,546.8 L682.5,546.7 L681.5,546.6 L680.5,546.6 L679.5,546.5 L678.5,546.4 L677.5,546.4 L676.5,546.3 L675.5,546.2 L674.5,546.2 L673.5,546.1 L672.5,546.1 L671.5,546 L670.5,545.9 L669.5,545.9 L668.5,545.8 L667.5,545.7 L666.5,545.7 L665.5,545.6 L664.5,545.5 L663.5,545.5 L662.5,545.4 L661.5,545.4 L660.5,545.5 L659.5,545.5 L658.5,545.6 L657.5,545.6 L656.5,545.7 L655.5,545.7 L654.5,545.8 L653.5,545.8 L652.5,545.9 L651.5,545.9 L650.5,546 L649.5,546 L648.5,546.1 L647.5,546.1 L646.5,546.2 L645.5,546.2 L644.5,546.2 L643.5,546.3 L642.5,546.3 L641.5,546.4 L640.5,546.4 L639.5,546.5 L638.5,546.5 L637.5,546.6 L636.5,546.6 L635.5,546.7 L634.5,546.7 L633.5,546.8 L632.5,546.8 L631.5,546.9 L630.5,546.9 L629.5,547 L628.5,547 L627.5,547.1 L626.5,547.1 L625.5,547.2 L624.5,547.2 L623.5,547.3 L622.5,547.3 L621.5,547.3 L620.5,547.4 L619.5,547.4 L618.5,547.5 L617.5,547.5 L616.5,547.6 L615.5,547.6 L614.5,547.7 L613.5,547.7 L612.5,547.8 L611.5,547.8 L610.5,547.7 L609.5,547.7 L608.5,547.6 L607.5,547.6 L606.5,547.5 L605.5,547.4 L604.5,547.4 L603.5,547.3 L602.5,547.3 L601.5,547.2 L600.5,547.2 L599.5,547.1 L598.5,547.1 L597.5,547 L596.5,547 L595.5,546.9 L594.5,546.8 L593.5,546.8 L592.5,546.7 L591.5,546.7 L590.5,546.6 L589.5,546.6 L588.5,546.6 L587.5,546.6 L586.5,546.6 L585.5,546.5 L584.5,546.5 L583.5,546.5 L582.5,546.5 L581.5,546.5 L580.5,546.5 L579.5,546.5 L578.5,546.5 L577.5,546.4 L576.5,546.4 L575.5,546.4 L574.5,546.4 L573.5,546.4 L572.5,546.4 L571.5,546.4 L570.5,546.4 L569.5,546.3 L568.5,546.3 L567.5,546.3 L566.5,546.3 L565.5,546.3 L564.5,546.3 L563.5,546.3 L562.5,546.3 L561.5,546.2 L560.5,546.2 L559.5,546.2 L558.5,546.2 L557.5,546.2 L556.5,546.2 L555.5,546.2 L554.5,546.2 L553.5,546.1 L552.5,546.1 L551.5,546.1 L550.5,546.1 L549.5,546.1 L548.5,546.1 L547.5,546.1 L546.5,546.1 L545.5,546 L544.5,546 L543.5,546 L542.5,546 L541.5,546 L540.5,546 L539.5,546 L538.5,546 L537.5,545.9 L536.5,545.9 L535.5,545.9 L534.5,545.9 L533.5,545.9 L532.5,545.9 L531.5,545.9 L530.5,545.9 L529.5,545.8 L528.5,545.8 L527.5,545.8 L526.5,545.8 L525.5,545.8 L524.5,545.9 L523.5,545.9 L522.5,545.9 L521.5,546 L520.5,546 L519.5,546.1 L518.5,546.1 L517.5,546.1 L516.5,546.2 L515.5,546.2 L514.5,546.2 L513.5,546.3 L512.5,546.3 L511.5,546.4 L510.5,546.4 L509.5,546.4 L508.5,546.5 L507.5,546.5 L506.5,546.5 L505.5,546.6 L504.5,546.6 L503.5,546.7 L502.5,546.7 L501.5,546.7 L500.5,546.8 L499.5,546.8 L498.5,546.9 L497.5,546.9 L496.5,546.9 L495.5,547 L494.5,547 L493.5,547 L492.5,547.1 L491.5,547.1 L490.5,547.2 L489.5,547.2 L488.5,547.2 L487.5,547.3 L486.5,547.3 L485.5,547.3 L484.5,547.4 L483.5,547.4 L482.5,547.5 L481.5,547.5 L480.5,547.5 L479.5,547.6 L478.5,547.6 L477.5,547.6 L476.5,547.7 L475.5,547.7 L474.5,547.8 L473.5,547.8 L472.5,547.8 L471.5,547.7 L470.5,547.7 L469.5,547.7 L468.5,547.6 L467.5,547.6 L466.5,547.5 L465.5,547.5 L464.5,547.5 L463.5,547.4 L462.5,547.4 L461.5,547.4 L460.5,547.3 L459.5,547.3 L458.5,547.3 L457.5,547.2 L456.5,547.2 L455.5,547.1 L454.5,547.1 L453.5,547.1 L452.5,547 L451.5,547 L450.5,547 L449.5,546.9 L448.5,546.9 L447.5,546.9 L446.5,546.8 L445.5,546.8 L444.5,546.7 L443.5,546.7 L442.5,546.7 L441.5,546.6 L440.5,546.6 L439.5,546.6 L438.5,546.5 L437.5,546.5 L436.5,546.5 L435.5,546.4 L434.5,546.4 L433.5,546.3 L432.5,546.3 L431.5,546.3 L430.5,546.2 L429.5,546.2 L428.5,546.2 L427.5,546.1 L426.5,546.1 L425.5,546 L424.5,546 L423.5,546 L422.5,545.9 L421.5,545.9 L420.5,545.9 L419.5,545.8 L418.5,545.8 L417.5,545.8 L416.5,545.7 L415.5,545.7 L414.5,545.6 L413.5,545.6 L412.5,545.6 L411.5,545.5 L410.5,545.5 L409.5,545.5 L408.5,545.4 L407.5,545.4 L406.5,545.4 L405.5,545.4 L404.5,545.4 L403.5,545.4 L402.5,545.4 L401.5,545.4 L400.5,545.4 L399.5,545.4 L398.5,545.4 L397.5,545.4 L396.5,545.4 L395.5,545.4 L394.5,545.4 L393.5,545.4 L392.5,545.4 L391.5,545.4 L390.5,545.4 L389.5,545.4 L388.5,545.4 L387.5,545.4 L386.5,545.4 L385.5,545.4 L384.5,545.4 L383.5,545.4 L382.5,545.4 L381.5,545.4 L380.5,545.4 L379.5,545.4 L378.5,545.4 L377.5,545.4 L376.5,545.4 L375.5,545.4 L374.5,545.4 L373.5,545.4 L372.5,545.4 L371.5,545.4 L370.5,545.4 L369.5,545.4 L368.5,545.4 L367.5,545.4 L366.5,545.4 L365.5,545.4 L364.5,545.4 L363.5,545.4 L362.5,545.4 L361.5,545.4 L360.5,545.4 L359.5,545.4 L358.5,545.5 L357.5,545.5 L356.5,545.5 L355.5,545.6 L354.5,545.6 L353.5,545.7 L352.5,545.7 L351.5,545.7 L350.5,545.8 L349.5,545.8 L348.5,545.9 L347.5,545.9 L346.5,545.9 L345.5,546 L344.5,546 L343.5,546.1 L342.5,546.1 L341.5,546.1 L340.5,546.2 L339.5,546.2 L338.5,546.2 L337.5,546.3 L336.5,546.3 L335.5,546.4 L334.5,546.4 L333.5,546.4 L332.5,546.5 L331.5,546.5 L330.5,546.6 L329.5,546.6 L328.5,546.6 L327.5,546.7 L326.5,546.7 L325.5,546.8 L324.5,546.8 L323.5,546.8 L322.5,546.9 L321.5,547 L320.5,547.1 L319.5,547.2 L318.5,547.3 L317.5,547.4 L316.5,547.5 L315.5,547.6 L314.5,547.7 L313.5,547.8 L312.5,547.9 L311.5,548 L310.5,548.1 L309.5,548.2 L308.5,548.3 L307.5,548.4 L306.5,548.5 L305.5,548.6 L304.5,548.7 L303.5,548.9 L302.5,549 L301.5,549.1 L300.5,549.2 L299.5,549.3 L298.5,549.4 L297.5,549.5 L296.5,549.1 L295.5,548.6 L294.5,548.1 L293.5,547.8 L292.5,547.8 L291.5,547.9 L290.5,547.9 L289.5,547.9 L288.5,547.9 L287.5,547.9 L286.5,548 L285.5,548 L284.5,548 L283.5,548 L282.5,548.1 L281.5,548.1 L280.5,548.1 L279.5,548.1 L278.5,548.1 L277.5,548.2 L276.5,548.2 L275.5,548.2 L274.5,548.2 L273.5,548.3 L272.5,548.3 L271.5,548.3 L270.5,548.3 L269.5,548.3 L268.5,548.4 L267.5,548.4 L266.5,548.4 L265.5,548.4 L264.5,548.5 L263.5,548.5 L262.5,548.5 L261.5,548.5 L260.5,548.6 L259.5,548.6 L258.5,548.6 L257.5,548.6 L256.5,548.6 L255.5,548.7 L254.5,548.7 L253.5,548.7 L252.5,548.7 L251.5,548.8 L250.5,548.8 L249.5,548.8 L248.5,548.8 L247.5,548.8 L246.5,548.9 L245.5,548.9 L244.5,548.9 L243.5,548.9 L242.5,548.9 L241.5,548.9 L240.5,548.9 L239.5,548.8 L238.5,548.8 L237.5,548.8 L236.5,548.8 L235.5,548.8 L234.5,548.8 L233.5,548.8 L232.5,548.8 L231.5,548.8 L230.5,548.8 L229.5,548.8 L228.5,548.7 L227.5,548.7 L226.5,548.7 L225.5,548.7 L224.5,548.7 L223.5,548.7 L222.5,548.7 L221.5,548.7 L220.5,548.7 L219.5,548.7 L218.5,548.7 L217.5,548.6 L216.5,548.6 L215.5,548.6 L214.5,548.6 L213.5,548.6 L212.5,548.6 L211.5,548.6 L210.5,548.6 L209.5,548.6 L208.5,548.6 L207.5,548.5 L206.5,548.5 L205.5,548.5 L204.5,548.5 L203.5,548.5 L202.5,548.5 L201.5,548.5 L200.5,548.5 L199.5,548.5 L198.5,548.5 L197.5,548.5 L196.5,548.4 L195.5,548.4 L194.5,548.4 L193.5,548.4 L192.5,548.4 L191.5,548.4 L190.5,548.4 L189.5,548.4 L188.5,548.4 L187.5,548.4 L186.5,548.3 L185.5,548.3 L184.5,548.3 L183.5,548.3 L182.5,548.3 L181.5,548.3 L180.5,548.3 L179.5,548.3 L178.5,548.4 L177.5,548.4 L176.5,548.4 L175.5,548.4 L174.5,548.5 L173.5,548.5 L172.5,548.5 L171.5,548.5 L170.5,548.5 L169.5,548.6 L168.5,548.6 L167.5,548.6 L166.5,548.6 L165.5,548.7 L164.5,548.7 L163.5,548.7 L162.5,548.7 L161.5,548.7 L160.5,548.8 L159.5,548.8 L158.5,548.8 L157.5,548.8 L156.5,548.9 L155.5,548.9 L154.5,548.9 L153.5,548.9 L152.5,548.8 L151.5,548.8 L150.5,548.7 L149.5,548.7 L148.5,548.6 L147.5,548.6 L146.5,548.6 L145.5,548.5 L144.5,548.5 L143.5,548.4 L142.5,548.4 L141.5,548.3 L140.5,548.3 L139.5,548.2 L138.5,548.2 L137.5,548.1 L136.5,548.1 L135.5,548.1 L134.5,548 L133.5,548 L132.5,547.9 L131.5,547.9 L130.5,547.8 L129.5,547.8Z" fill="#f9f9f9"/>
<polyline points="129.5,360.4 130.5,360.7 131.5,361.1 132.5,361.5 133.5,361.9 134.5,362.2 135.5,362.6 136.5,363 137.5,363.3 138.5,363.7 139.5,364.1 140.5,364.5 141.5,364.8 142.5,365.2 143.5,365.6 144.5,366 145.5,366.3 146.5,366.7 147.5,367.1 148.5,367.5 149.5,367.8 150.5,368.2 151.5,368.1 152.5,368.1 153.5,368 154.5,367.9 155.5,368 156.5,368.4 157.5,368.9 158.5,369.3 159.5,370 160.5,370.9 161.5,371.8 162.5,372.7 163.5,373.6 164.5,374.5 165.5,375.4 166.5,376.3 167.5,376.8 168.5,376.7 169.5,376.6 170.5,376.6 171.5,376.5 172.5,376.4 173.5,376.4 174.5,376.3 175.5,376.2 176.5,376.1 177.5,376.1 178.5,376 179.5,375.9 180.5,375.7 181.5,375.3 182.5,374.9 183.5,374.5 184.5,374.5 185.5,374.6 186.5,374.6 187.5,374.6 188.5,374.7 189.5,374.7 190.5,374.7 191.5,374.8 192.5,374.8 193.5,374.8 194.5,374.9 195.5,374.9 196.5,374.9 197.5,375 198.5,375 199.5,375 200.5,375.1 201.5,375.1 202.5,375.1 203.5,375.2 204.5,375.2 205.5,375.2 206.5,375.2 207.5,375.3 208.5,375.3 209.5,375.3 210.5,375.4 211.5,375.4 212.5,375.4 213.5,375.3 214.5,375.3 215.5,375.3 216.5,375.2 217.5,375.2 218.5,375.2 219.5,375.1 220.5,375.1 221.5,375.1 222.5,375 223.5,375 224.5,375 225.5,374.9 226.5,374.9 227.5,374.9 228.5,374.8 229.5,374.8 230.5,374.8 231.5,374.7 232.5,374.7 233.5,374.7 234.5,374.6 235.5,374.6 236.5,374.6 237.5,374.5 238.5,374.5 239.5,374.5 240.5,374.4 241.5,374.4 242.5,374.4 243.5,374.3 244.5,374.3 245.5,374.3 246.5,374.4 247.5,374.5 248.5,374.5 249.5,374.6 250.5,374.6 251.5,374.7 252.5,374.8 253.5,374.8 254.5,374.9 255.5,375 256.5,375 257.5,375.1 258.5,375.1 259.5,375.2 260.5,375.3 261.5,375.3 262.5,375.4 263.5,375.5 264.5,375.5 265.5,375.6 266.5,375.6 267.5,375.7 268.5,375.8 269.5,375.7 270.5,375.4 271.5,375.1 272.5,374.9 273.5,374.6 274.5,374.4 275.5,374.1 276.5,373.8 277.5,373.6 278.5,373.3 279.5,373 280.5,372.8 281.5,372.5 282.5,372.2 283.5,372 284.5,371.7 285.5,371.5 286.5,371.2 287.5,370.9 288.5,370.7 289.5,370.4 290.5,370.1 291.5,369.9 292.5,369.6 293.5,369.3 294.5,369.1 295.5,369.2 296.5,369.4 297.5,369.7 298.5,369.9 299.5,370.2 300.5,370.4 301.5,370.7 302.5,371 303.5,371.2 304.5,371.5 305.5,371.8 306.5,372 307.5,372.3 308.5,372.6 309.5,372.8 310.5,373.1 311.5,373.4 312.5,373.6 313.5,373.9 314.5,374.2 315.5,374.4 316.5,374.7 317.5,375 318.5,375.2 319.5,375.5 320.5,375.7 321.5,376 322.5,376.1 323.5,376 324.5,375.8 325.5,375.6 326.5,375.4 327.5,375.3 328.5,375.1 329.5,374.9 330.5,374.9 331.5,375 332.5,375.1 333.5,375.1 334.5,375.2 335.5,375.2 336.5,375.3 337.5,375.3 338.5,375.4 339.5,375.4 340.5,375.3 341.5,375.3 342.5,375.3 343.5,375.3 344.5,375.2 345.5,375.2 346.5,375.2 347.5,375.1 348.5,375.1 349.5,375.1 350.5,375 351.5,375 352.5,375 353.5,375 354.5,374.9 355.5,374.9 356.5,374.8 357.5,374.8 358.5,374.7 359.5,374.6 360.5,374.6 361.5,374.5 362.5,374.4 363.5,374.4 364.5,374.3 365.5,374.2 366.5,374.1 367.5,374.1 368.5,374 369.5,373.9 370.5,373.9 371.5,373.8 372.5,373.7 373.5,373.7 374.5,373.6 375.5,373.5 376.5,373.5 377.5,373.4 378.5,373.3 379.5,373.3 380.5,373.2 381.5,373.1 382.5,373 383.5,373.1 384.5,373.6 385.5,374 386.5,374.4 387.5,374.9 388.5,375.3 389.5,375.2 390.5,375 391.5,374.8 392.5,374.6 393.5,374.4 394.5,374.2 395.5,374 396.5,373.8 397.5,373.6 398.5,373.4 399.5,373.2 400.5,373 401.5,372.8 402.5,372.6 403.5,372.4 404.5,372.2 405.5,372 406.5,371.7 407.5,371.5 408.5,371.2 409.5,371 410.5,370.7 411.5,370.5 412.5,370.2 413.5,370 414.5,369.7 415.5,369.5 416.5,369.3 417.5,369.2 418.5,369.2 419.5,369.1 420.5,369 421.5,369 422.5,368.9 423.5,368.9 424.5,368.8 425.5,368.7 426.5,368.7 427.5,368.6 428.5,368.6 429.5,368.5 430.5,368.5 431.5,368.4 432.5,368.3 433.5,368.3 434.5,368.2 435.5,368.2 436.5,368.1 437.5,368 438.5,367.9 439.5,367.6 440.5,367.3 441.5,367 442.5,366.6 443.5,366.3 444.5,366 445.5,365.7 446.5,365.6 447.5,365.6 448.5,365.7 449.5,365.7 450.5,365.7 451.5,365.7 452.5,365.7 453.5,365.8 454.5,365.8 455.5,365.8 456.5,365.8 457.5,365.9 458.5,365.9 459.5,365.9 460.5,365.9 461.5,365.9 462.5,366 463.5,366 464.5,366 465.5,366 466.5,366.1 467.5,366.1 468.5,366.1 469.5,366.1 470.5,366.1 471.5,366.2 472.5,366.2 473.5,366.2 474.5,366.2 475.5,366.2 476.5,366.3 477.5,366.3 478.5,366.3 479.5,366.3 480.5,366.3 481.5,366.4 482.5,366.4 483.5,366.4 484.5,366.4 485.5,366.4 486.5,366.5 487.5,366.5 488.5,366.5 489.5,366.5 490.5,366.5 491.5,366.6 492.5,366.6 493.5,366.6 494.5,366.3 495.5,365.9 496.5,365.5 497.5,365 498.5,364.6 499.5,364.3 500.5,364.1 501.5,364 502.5,363.9 503.5,363.8 504.5,363.6 505.5,363.5 506.5,363.4 507.5,363.2 508.5,363.1 509.5,363 510.5,363 511.5,363.1 512.5,363.2 513.5,363.3 514.5,363.4 515.5,363.5 516.5,363.6 517.5,363.7 518.5,363.8 519.5,363.9 520.5,364 521.5,364.1 522.5,364.3 523.5,364.4 524.5,364.5 525.5,364.6 526.5,364.7 527.5,364.6 528.5,364.5 529.5,364.3 530.5,364.2 531.5,364.1 532.5,364 533.5,363.8 534.5,363.7 535.5,363.6 536.5,363.4 537.5,363.3 538.5,363.2 539.5,363.1 540.5,362.9 541.5,362.8 542.5,362.7 543.5,362.6 544.5,362.4 545.5,362.3 546.5,362.2 547.5,362.1 548.5,361.9 549.5,361.8 550.5,361.7 551.5,361.5 552.5,361.4 553.5,361.3 554.5,361.2 555.5,361 556.5,360.9 557.5,360.8 558.5,360.7 559.5,360.3 560.5,359.8 561.5,359.3 562.5,358.8 563.5,358.3 564.5,357.8 565.5,357.3 566.5,356.8 567.5,356.4 568.5,356.6 569.5,356.7 570.5,356.8 571.5,357 572.5,357.1 573.5,357.3 574.5,357.4 575.5,357.5 576.5,357.7 577.5,357.8 578.5,358 579.5,358.1 580.5,358.2 581.5,358.2 582.5,358.2 583.5,358.3 584.5,358.3 585.5,358.3 586.5,358.3 587.5,358.3 588.5,358.4 589.5,358.4 590.5,358.4 591.5,358.4 592.5,358.4 593.5,358.5 594.5,358.5 595.5,358.5 596.5,358.5 597.5,358.5 598.5,358.5 599.5,358.6 600.5,358.6 601.5,358.6 602.5,358.6 603.5,358.6 604.5,358.7 605.5,358.7 606.5,358.7 607.5,358.7 608.5,358.7 609.5,358.8 610.5,358.8 611.5,358.8 612.5,358.8 613.5,358.8 614.5,358.7 615.5,358.7 616.5,358.7 617.5,358.7 618.5,358.6 619.5,358.6 620.5,358.6 621.5,358.6 622.5,358.5 623.5,358.5 624.5,358.5 625.5,358.5 626.5,358.5 627.5,358.4 628.5,358.4 629.5,358.4 630.5,358.4 631.5,358.3 632.5,358.3 633.5,358.3 634.5,358.3 635.5,358.2 636.5,358.2 637.5,358.2 638.5,358.3 639.5,358.4 640.5,358.6 641.5,358.7 642.5,358.8 643.5,358.9 644.5,359 645.5,359.1 646.5,359.2 647.5,359.3 648.5,359.4 649.5,359.4 650.5,359.1 651.5,358.7 652.5,358.4 653.5,358.1 654.5,357.7 655.5,357.4 656.5,357.1 657.5,356.7 658.5,356.4 659.5,356.1 660.5,355.7 661.5,355.5 662.5,355.4 663.5,355.2 664.5,355.1 665.5,355 666.5,354.9 667.5,354.8 668.5,354.7 669.5,354.5 670.5,354.4 671.5,354.3 672.5,354.2 673.5,354.1 674.5,354 675.5,354 676.5,354.1 677.5,354.1 678.5,354.1 679.5,354.1 680.5,354.2 681.5,354.2 682.5,354.2 683.5,354.2 684.5,354.3 685.5,354.3 686.5,354.3 687.5,354.3 688.5,354.4 689.5,354.4 690.5,354.4 691.5,354.4 692.5,354.5 693.5,354.5 694.5,354.5 695.5,354.2 696.5,354 697.5,353.7 698.5,353.4 699.5,353.1 700.5,353 701.5,352.9 702.5,352.8 703.5,352.7 704.5,352.7 705.5,352.6 706.5,352.5 707.5,352.4 708.5,352.4 709.5,352.3 710.5,352.2 711.5,352.1 712.5,352.1 713.5,352 714.5,351.9 715.5,351.8 716.5,351.8 717.5,351.7 718.5,351.6 719.5,352 720.5,352.6 721.5,353.3 722.5,353.5 723.5,352.9 724.5,352.3 725.5,351.7 726.5,351 727.5,350.4 728.5,350.1 729.5,350.3 730.5,350.5 731.5,350.7 732.5,350.9 733.5,351.1 734.5,351.3 735.5,351.2 736.5,350.9 737.5,350.5 738.5,350.2 739.5,350.2 740.5,350.7 741.5,351.1 742.5,351.5 743.5,352 744.5,352.3 745.5,352.5 746.5,352.6 747.5,352.7 748.5,352.9 749.5,353 750.5,353.1 751.5,353.3 752.5,354 753.5,354.9 754.5,355.9 755.5,356.4" fill="none" stroke="rgb(168,8,14)" stroke-width="2.5" stroke-linejoin="round"/>
<polyline points="129.5,341.5 130.5,341.2 131.5,340.9 132.5,340.6 133.5,340.3 134.5,340 135.5,339.7 136.5,339.4 137.5,339.1 138.5,338.8 139.5,338.4 140.5,338.1 141.5,337.8 142.5,337.5 143.5,337.2 144.5,336.9 145.5,336.6 146.5,336.2 147.5,335.9 148.5,335.6 149.5,335.3 150.5,335 151.5,335.3 152.5,335.7 153.5,336 154.5,336.4 155.5,336.3 156.5,336 157.5,335.6 158.5,335.3 159.5,335 160.5,334.7 161.5,334.3 162.5,334 163.5,333.7 164.5,333.4 165.5,333.1 166.5,333 167.5,333.1 168.5,333.2 169.5,333.3 170.5,333.4 171.5,333.6 172.5,333.7 173.5,333.8 174.5,333.9 175.5,334 176.5,334.1 177.5,334.3 178.5,334.4 179.5,334.5 180.5,335.2 181.5,336 182.5,336.8 183.5,337.5 184.5,337.5 185.5,337.6 186.5,337.6 187.5,337.6 188.5,337.7 189.5,337.7 190.5,337.7 191.5,337.8 192.5,337.8 193.5,337.8 194.5,337.9 195.5,337.9 196.5,337.9 197.5,337.9 198.5,337.9 199.5,337.9 200.5,337.9 201.5,337.8 202.5,337.8 203.5,337.8 204.5,337.8 205.5,337.8 206.5,337.8 207.5,337.8 208.5,337.8 209.5,337.8 210.5,337.8 211.5,337.8 212.5,337.8 213.5,337.8 214.5,337.7 215.5,337.7 216.5,337.7 217.5,337.7 218.5,337.7 219.5,337.7 220.5,337.7 221.5,337.7 222.5,337.7 223.5,337.7 224.5,337.7 225.5,337.7 226.5,337.6 227.5,337.6 228.5,337.6 229.5,337.6 230.5,337.6 231.5,337.6 232.5,337.6 233.5,337.6 234.5,337.6 235.5,337.6 236.5,337.6 237.5,337.6 238.5,337.6 239.5,337.5 240.5,337.5 241.5,337.5 242.5,337.5 243.5,337.5 244.5,337.5 245.5,337.5 246.5,337.6 247.5,337.7 248.5,337.8 249.5,337.8 250.5,337.9 251.5,338 252.5,338 253.5,338.1 254.5,338.2 255.5,338.2 256.5,338.3 257.5,338.4 258.5,338.5 259.5,338.5 260.5,338.6 261.5,338.7 262.5,338.7 263.5,338.8 264.5,338.9 265.5,339 266.5,339 267.5,339.1 268.5,339.2 269.5,339.4 270.5,339.7 271.5,340.1 272.5,340.4 273.5,340.8 274.5,341.1 275.5,341.5 276.5,341.9 277.5,342.2 278.5,342.6 279.5,342.9 280.5,343.3 281.5,343.6 282.5,344 283.5,344.3 284.5,344.6 285.5,345 286.5,345.3 287.5,345.6 288.5,345.9 289.5,346.2 290.5,346.5 291.5,346.8 292.5,347.1 293.5,347.4 294.5,347.7 295.5,348 296.5,348.3 297.5,348.4 298.5,348.4 299.5,348.4 300.5,348.1 301.5,347.6 302.5,347.1 303.5,346.6 304.5,346.1 305.5,345.7 306.5,345.5 307.5,345.4 308.5,345.2 309.5,345 310.5,344.9 311.5,344.7 312.5,344.5 313.5,344.4 314.5,344.2 315.5,344 316.5,343.9 317.5,343.7 318.5,343.5 319.5,343.4 320.5,343.2 321.5,343 322.5,342.9 323.5,343.1 324.5,343.2 325.5,343.4 326.5,343.5 327.5,343.7 328.5,343.8 329.5,344 330.5,343.5 331.5,342.9 332.5,342.3 333.5,341.7 334.5,341.1 335.5,340.5 336.5,339.9 337.5,339.3 338.5,338.7 339.5,338.7 340.5,338.9 341.5,339.2 342.5,339.5 343.5,339.7 344.5,340 345.5,340.3 346.5,340.5 347.5,340.8 348.5,341.1 349.5,341.3 350.5,341.6 351.5,341.8 352.5,342.1 353.5,342.4 354.5,342.6 355.5,342.9 356.5,342.9 357.5,343 358.5,343 359.5,343.1 360.5,343.1 361.5,343.1 362.5,343.2 363.5,343.2 364.5,343.3 365.5,343.3 366.5,343.3 367.5,343.4 368.5,343.4 369.5,343.5 370.5,343.5 371.5,343.5 372.5,343.6 373.5,343.6 374.5,343.7 375.5,343.7 376.5,343.7 377.5,343.8 378.5,343.8 379.5,343.9 380.5,343.9 381.5,343.9 382.5,344 383.5,344 384.5,344 385.5,344 386.5,344.1 387.5,344.1 388.5,344.1 389.5,344.1 390.5,344.1 391.5,344.2 392.5,344.2 393.5,344.2 394.5,344.2 395.5,344.2 396.5,344.2 397.5,344.3 398.5,344.3 399.5,344.3 400.5,344.3 401.5,344.3 402.5,344.4 403.5,344.4 404.5,344.4 405.5,344.4 406.5,344.5 407.5,344.6 408.5,344.7 409.5,344.8 410.5,344.8 411.5,344.9 412.5,345 413.5,345.1 414.5,345.2 415.5,345.3 416.5,345.3 417.5,345.4 418.5,345.5 419.5,345.6 420.5,345.7 421.5,345.7 422.5,345.8 423.5,345.9 424.5,346 425.5,346.1 426.5,346.1 427.5,346.2 428.5,346.4 429.5,346.5 430.5,346.6 431.5,346.8 432.5,346.9 433.5,347 434.5,347.2 435.5,347.3 436.5,347.4 437.5,347.6 438.5,347.7 439.5,347.8 440.5,348 441.5,348.1 442.5,348.2 443.5,348.4 444.5,348.3 445.5,348.1 446.5,348 447.5,347.8 448.5,347.6 449.5,347.5 450.5,347.3 451.5,347.1 452.5,347 453.5,346.8 454.5,346.6 455.5,346.5 456.5,346.3 457.5,346.1 458.5,346 459.5,345.8 460.5,345.6 461.5,345.5 462.5,345.3 463.5,345.1 464.5,345 465.5,344.8 466.5,344.6 467.5,344.5 468.5,344.2 469.5,343.8 470.5,343.4 471.5,343 472.5,342.6 473.5,342.2 474.5,342.5 475.5,342.8 476.5,343.1 477.5,343.4 478.5,343.6 479.5,343.9 480.5,344.2 481.5,344.5 482.5,344.8 483.5,345.1 484.5,345.3 485.5,345.6 486.5,345.9 487.5,346.2 488.5,346.5 489.5,346.8 490.5,347 491.5,347.3 492.5,347.6 493.5,347.9 494.5,348.2 495.5,348.5 496.5,348.7 497.5,349 498.5,348.9 499.5,348.8 500.5,348.7 501.5,348.6 502.5,348.5 503.5,348.4 504.5,348.3 505.5,348.2 506.5,348.1 507.5,348 508.5,347.9 509.5,347.8 510.5,347.7 511.5,347.8 512.5,347.8 513.5,347.8 514.5,347.9 515.5,347.9 516.5,348 517.5,348 518.5,348.1 519.5,348.1 520.5,348.1 521.5,348.2 522.5,348.2 523.5,348.3 524.5,348.3 525.5,348.4 526.5,348.4 527.5,348.4 528.5,348.4 529.5,348.5 530.5,348.5 531.5,348.5 532.5,348.5 533.5,348.5 534.5,348.5 535.5,348.6 536.5,348.6 537.5,348.6 538.5,348.6 539.5,348.6 540.5,348.7 541.5,348.7 542.5,348.7 543.5,348.7 544.5,348.7 545.5,348.8 546.5,348.8 547.5,348.8 548.5,348.8 549.5,348.8 550.5,348.8 551.5,348.9 552.5,348.9 553.5,348.9 554.5,348.9 555.5,348.9 556.5,349 557.5,349 558.5,349 559.5,349.1 560.5,349.4 561.5,349.7 562.5,350 563.5,350.3 564.5,350.6 565.5,350.9 566.5,351.2 567.5,351.4 568.5,351.5 569.5,351.5 570.5,351.6 571.5,351.6 572.5,351.7 573.5,351.7 574.5,351.8 575.5,351.8 576.5,351.9 577.5,352 578.5,352 579.5,352.1 580.5,352.1 581.5,352.2 582.5,352.2 583.5,352.3 584.5,352.3 585.5,352.4 586.5,352.4 587.5,352.5 588.5,352.5 589.5,352.6 590.5,352.7 591.5,352.7 592.5,352.6 593.5,352.6 594.5,352.5 595.5,352.5 596.5,352.4 597.5,352.4 598.5,352.3 599.5,352.3 600.5,352.2 601.5,352.1 602.5,352.1 603.5,352 604.5,352 605.5,351.9 606.5,351.9 607.5,351.8 608.5,351.8 609.5,351.7 610.5,351.6 611.5,351.6 612.5,351.5 613.5,351.5 614.5,351.4 615.5,351.4 616.5,351.4 617.5,351.4 618.5,351.4 619.5,351.4 620.5,351.4 621.5,351.4 622.5,351.4 623.5,351.4 624.5,351.4 625.5,351.4 626.5,351.4 627.5,351.4 628.5,351.4 629.5,351.4 630.5,351.4 631.5,351.4 632.5,351.4 633.5,351.4 634.5,351.4 635.5,351.4 636.5,351.4 637.5,351.3 638.5,351.1 639.5,350.8 640.5,350.6 641.5,350.3 642.5,350.1 643.5,349.8 644.5,349.6 645.5,349.3 646.5,349.1 647.5,348.8 648.5,348.6 649.5,348.4 650.5,348.6 651.5,348.7 652.5,348.8 653.5,348.9 654.5,349.1 655.5,349.2 656.5,349.3 657.5,349.4 658.5,349.6 659.5,349.7 660.5,349.8 661.5,350 662.5,350.2 663.5,350.4 664.5,350.6 665.5,350.8 666.5,351 667.5,351.3 668.5,351.5 669.5,351.7 670.5,351.9 671.5,352.1 672.5,352.3 673.5,352.5 674.5,352.7 675.5,352.6 676.5,352.6 677.5,352.6 678.5,352.5 679.5,352.5 680.5,352.4 681.5,352.4 682.5,352.4 683.5,352.3 684.5,352.3 685.5,352.2 686.5,352.2 687.5,352.2 688.5,352.1 689.5,352.1 690.5,352 691.5,352 692.5,352 693.5,351.9 694.5,351.9 695.5,351.8 696.5,351.8 697.5,351.6 698.5,351.5 699.5,351.4 700.5,351.2 701.5,351.1 702.5,351 703.5,350.8 704.5,350.7 705.5,350.6 706.5,350.4 707.5,350.3 708.5,350.4 709.5,350.4 710.5,350.5 711.5,350.6 712.5,350.6 713.5,350.7 714.5,350.7 715.5,350.8 716.5,350.9 717.5,350.9 718.5,351 719.5,350.6 720.5,350 721.5,349.4 722.5,349 723.5,348.8 724.5,348.7 725.5,348.6 726.5,348.5 727.5,348.3 728.5,348.2 729.5,348.1 730.5,348 731.5,347.6 732.5,347 733.5,346.4 734.5,345.8 735.5,345.6 736.5,345.7 737.5,345.8 738.5,345.8 739.5,345.9 740.5,345.9 741.5,346 742.5,346.2 743.5,346.4 744.5,346.6 745.5,346.8 746.5,347 747.5,347.2 748.5,347.4 749.5,347.6 750.5,347.8 751.5,347.8 752.5,347.4 753.5,347.1 754.5,346.7 755.5,346.5" fill="none" stroke="rgb(6,64,154)" stroke-width="2.5" stroke-linejoin="round"/>
<polyline points="129.5,461.6 130.5,461.6 131.5,461.6 132.5,461.7 133.5,461.7 134.5,461.7 135.5,461.7 136.5,461.7 137.5,461.7 138.5,461.8 139.5,461.8 140.5,461.8 141.5,461.8 142.5,461.8 143.5,461.9 144.5,461.9 145.5,461.9 146.5,461.9 147.5,461.9 148.5,462 149.5,462 150.5,462 151.5,461.7 152.5,461.1 153.5,460.5 154.5,460.3 155.5,460.8 156.5,461.4 157.5,461.9 158.5,462.5 159.5,462.7 160.5,462.2 161.5,461.6 162.5,461.1 163.5,460.5 164.5,460 165.5,459.4 166.5,458.9 167.5,458.8 168.5,458.7 169.5,458.7 170.5,458.7 171.5,458.6 172.5,458.6 173.5,458.6 174.5,458.5 175.5,458.5 176.5,458.4 177.5,458.4 178.5,458.4 179.5,458.3 180.5,458.3 181.5,457.9 182.5,457.5 183.5,457.1 184.5,456.8 185.5,456.9 186.5,456.9 187.5,456.9 188.5,457 189.5,457 190.5,457 191.5,457.1 192.5,457.1 193.5,457.2 194.5,457.2 195.5,457.2 196.5,457.3 197.5,457.3 198.5,457.4 199.5,457.4 200.5,457.4 201.5,457.5 202.5,457.5 203.5,457.6 204.5,457.6 205.5,457.6 206.5,457.7 207.5,457.7 208.5,457.8 209.5,457.8 210.5,457.8 211.5,457.9 212.5,457.9 213.5,458 214.5,458 215.5,458 216.5,458.1 217.5,458.1 218.5,458.1 219.5,458.2 220.5,458.2 221.5,458.3 222.5,458.3 223.5,458.3 224.5,458.4 225.5,458.4 226.5,458.5 227.5,458.5 228.5,458.5 229.5,458.6 230.5,458.6 231.5,458.7 232.5,458.8 233.5,458.9 234.5,459 235.5,459 236.5,459.1 237.5,459.2 238.5,459.3 239.5,459.4 240.5,459.5 241.5,459.5 242.5,459.6 243.5,459.7 244.5,459.8 245.5,459.7 246.5,459.7 247.5,459.6 248.5,459.5 249.5,459.4 250.5,459.3 251.5,459.3 252.5,459.2 253.5,459.1 254.5,459 255.5,459 256.5,458.9 257.5,458.8 258.5,458.7 259.5,458.6 260.5,458.6 261.5,458.5 262.5,458.4 263.5,458.3 264.5,458.2 265.5,458.2 266.5,458.1 267.5,458 268.5,457.9 269.5,457.9 270.5,457.9 271.5,457.9 272.5,457.9 273.5,457.9 274.5,457.9 275.5,457.9 276.5,457.9 277.5,457.9 278.5,457.9 279.5,457.9 280.5,457.9 281.5,457.9 282.5,457.9 283.5,457.9 284.5,457.9 285.5,457.9 286.5,457.9 287.5,457.9 288.5,457.9 289.5,457.9 290.5,457.9 291.5,457.9 292.5,457.9 293.5,457.7 294.5,457.4 295.5,457.1 296.5,456.7 297.5,456.4 298.5,456.6 299.5,456.7 300.5,456.9 301.5,457.1 302.5,457.2 303.5,457.4 304.5,457.6 305.5,457.7 306.5,457.9 307.5,458 308.5,458.2 309.5,458.4 310.5,458.5 311.5,458.7 312.5,458.9 313.5,459 314.5,459.2 315.5,459.4 316.5,459.5 317.5,459.7 318.5,459.9 319.5,460 320.5,460.2 321.5,460.4 322.5,460.5 323.5,460.3 324.5,460.1 325.5,459.9 326.5,459.9 327.5,460.1 328.5,460.4 329.5,460.6 330.5,460.9 331.5,461.1 332.5,461.4 333.5,461.6 334.5,461.9 335.5,462.2 336.5,462.5 337.5,462.9 338.5,463.3 339.5,463.6 340.5,464 341.5,464.3 342.5,464.7 343.5,465.1 344.5,465.4 345.5,465.8 346.5,466.2 347.5,466.5 348.5,466.9 349.5,467.3 350.5,467.6 351.5,468 352.5,468.4 353.5,468.7 354.5,469.1 355.5,469.4 356.5,469.4 357.5,469.3 358.5,469.3 359.5,469.2 360.5,469.2 361.5,469.2 362.5,469.1 363.5,469.1 364.5,469.1 365.5,469 366.5,469 367.5,469 368.5,468.9 369.5,468.9 370.5,468.9 371.5,468.8 372.5,468.8 373.5,468.7 374.5,468.7 375.5,468.7 376.5,468.6 377.5,468.6 378.5,468.6 379.5,468.5 380.5,468.5 381.5,468.5 382.5,468.4 383.5,468.5 384.5,468.9 385.5,469.2 386.5,469.6 387.5,469.9 388.5,470.3 389.5,470.4 390.5,470.6 391.5,470.8 392.5,470.9 393.5,471.1 394.5,471.3 395.5,471.4 396.5,471.6 397.5,471.8 398.5,471.9 399.5,472.1 400.5,472.3 401.5,472.4 402.5,472.6 403.5,472.8 404.5,472.9 405.5,473.1 406.5,473.3 407.5,473.4 408.5,473.6 409.5,473.8 410.5,473.9 411.5,473.9 412.5,473.8 413.5,473.7 414.5,473.5 415.5,473.4 416.5,473.3 417.5,473.2 418.5,473 419.5,472.9 420.5,472.8 421.5,472.7 422.5,472.6 423.5,472.4 424.5,472.3 425.5,472.2 426.5,472.1 427.5,471.9 428.5,471.8 429.5,471.7 430.5,471.6 431.5,471.4 432.5,471.3 433.5,471.2 434.5,471.1 435.5,470.9 436.5,470.8 437.5,470.4 438.5,469.9 439.5,469.4 440.5,469 441.5,469.5 442.5,469.9 443.5,470.3 444.5,470.8 445.5,471.2 446.5,471.1 447.5,471 448.5,470.9 449.5,470.8 450.5,470.7 451.5,470.7 452.5,470.6 453.5,470.5 454.5,470.4 455.5,470.3 456.5,470.2 457.5,470.1 458.5,470 459.5,469.9 460.5,469.8 461.5,469.7 462.5,469.6 463.5,469.6 464.5,469.5 465.5,469.4 466.5,469.3 467.5,469.2 468.5,469.1 469.5,469 470.5,467.6 471.5,466.1 472.5,464.7 473.5,464.8 474.5,464.8 475.5,464.8 476.5,464.9 477.5,464.9 478.5,465 479.5,465 480.5,465.1 481.5,465.1 482.5,465.2 483.5,465.2 484.5,465.3 485.5,465.3 486.5,465.4 487.5,465.4 488.5,465.5 489.5,465.5 490.5,465.6 491.5,465.6 492.5,465.6 493.5,465.7 494.5,465.3 495.5,464.9 496.5,464.5 497.5,464.1 498.5,463.9 499.5,464.2 500.5,464.6 501.5,464.9 502.5,465.3 503.5,465.6 504.5,465.9 505.5,466.3 506.5,466.6 507.5,467 508.5,467.3 509.5,467.6 510.5,467.9 511.5,468.1 512.5,468.3 513.5,468.5 514.5,468.7 515.5,468.9 516.5,469.1 517.5,469.3 518.5,469.5 519.5,469.7 520.5,469.9 521.5,470.1 522.5,470.3 523.5,470.5 524.5,470.7 525.5,470.9 526.5,471.1 527.5,471.3 528.5,471.4 529.5,471.5 530.5,471.6 531.5,471.7 532.5,471.8 533.5,471.9 534.5,472 535.5,472.1 536.5,472.2 537.5,472.3 538.5,472.4 539.5,472.5 540.5,472.6 541.5,472.7 542.5,472.8 543.5,472.9 544.5,473 545.5,473.1 546.5,473.2 547.5,473.3 548.5,473.4 549.5,473.5 550.5,473.6 551.5,473.7 552.5,473.8 553.5,473.9 554.5,474 555.5,474.1 556.5,474.2 557.5,474.3 558.5,474.4 559.5,474.5 560.5,474.4 561.5,474.3 562.5,474.2 563.5,474.1 564.5,473.9 565.5,473.8 566.5,473.7 567.5,473.6 568.5,473.5 569.5,473.2 570.5,472.9 571.5,472.5 572.5,472.1 573.5,471.8 574.5,471.4 575.5,471 576.5,470.7 577.5,470.3 578.5,470 579.5,469.7 580.5,469.9 581.5,470 582.5,470.1 583.5,470.2 584.5,470.4 585.5,470.5 586.5,470.6 587.5,470.7 588.5,470.9 589.5,471 590.5,471.1 591.5,471.1 592.5,470.9 593.5,470.6 594.5,470.4 595.5,470.1 596.5,469.8 597.5,469.6 598.5,469.3 599.5,469.1 600.5,468.8 601.5,468.6 602.5,468.3 603.5,468.1 604.5,467.8 605.5,467.6 606.5,467.3 607.5,467 608.5,466.8 609.5,466.5 610.5,466.3 611.5,466 612.5,466.2 613.5,466.4 614.5,466.6 615.5,466.8 616.5,467.1 617.5,467.3 618.5,467.5 619.5,467.7 620.5,467.9 621.5,468.1 622.5,468.4 623.5,468.6 624.5,468.8 625.5,469 626.5,469.2 627.5,469.4 628.5,469.7 629.5,469.9 630.5,470.1 631.5,470.3 632.5,470.5 633.5,470.7 634.5,471 635.5,471.2 636.5,471.1 637.5,471 638.5,470.9 639.5,470.7 640.5,470.6 641.5,470.5 642.5,470.4 643.5,470.3 644.5,470.2 645.5,470 646.5,469.9 647.5,469.8 648.5,469.7 649.5,470.1 650.5,470.5 651.5,470.9 652.5,471.3 653.5,471.8 654.5,472.2 655.5,472.6 656.5,473 657.5,473.4 658.5,473.8 659.5,474.2 660.5,474.6 661.5,475 662.5,475.5 663.5,475.9 664.5,476.3 665.5,476.2 666.5,475.9 667.5,475.6 668.5,475.3 669.5,475.1 670.5,474.8 671.5,474.5 672.5,474.2 673.5,473.9 674.5,473.6 675.5,473.3 676.5,473 677.5,472.8 678.5,472.7 679.5,472.8 680.5,472.8 681.5,472.9 682.5,472.9 683.5,472.9 684.5,473 685.5,473 686.5,473.1 687.5,473.1 688.5,473.2 689.5,473.2 690.5,473.2 691.5,473.3 692.5,473.3 693.5,473.4 694.5,473.4 695.5,473.8 696.5,474.2 697.5,474.6 698.5,475 699.5,475.4 700.5,475.8 701.5,476.2 702.5,476.5 703.5,476.9 704.5,477.3 705.5,477.7 706.5,477.1 707.5,476.5 708.5,475.9 709.5,475.3 710.5,474.7 711.5,474 712.5,473.4 713.5,472.8 714.5,472.2 715.5,472 716.5,471.9 717.5,471.8 718.5,471.7 719.5,471.5 720.5,471.4 721.5,471.3 722.5,471.2 723.5,471.1 724.5,471 725.5,470.8 726.5,471 727.5,471.4 728.5,471.7 729.5,472.1 730.5,472.4 731.5,472.8 732.5,473.1 733.5,473.5 734.5,473.8 735.5,473.9 736.5,473.6 737.5,473.4 738.5,473.1 739.5,472.8 740.5,472.6 741.5,472.3 742.5,472.2 743.5,472.8 744.5,473.4 745.5,473.9 746.5,474.5 747.5,474.8 748.5,474.5 749.5,474.2 750.5,474 751.5,473.7 752.5,473.4 753.5,473.1 754.5,472.8 755.5,472.7" fill="none" stroke="rgb(222,62,2)" stroke-width="2.5" stroke-linejoin="round"/>
<polyline points="129.5,501.7 130.5,501.7 131.5,501.6 132.5,501.6 133.5,501.5 134.5,501.5 135.5,501.5 136.5,501.4 137.5,501.4 138.5,501.3 139.5,501.3 140.5,501.2 141.5,501.2 142.5,501.2 143.5,501.1 144.5,501.1 145.5,501 146.5,501 147.5,500.9 148.5,500.9 149.5,500.9 150.5,500.8 151.5,500.8 152.5,500.7 153.5,500.7 154.5,500.6 155.5,500.6 156.5,500.5 157.5,500.5 158.5,500.4 159.5,500.3 160.5,499.9 161.5,499.5 162.5,499.1 163.5,498.7 164.5,498.3 165.5,497.9 166.5,497.5 167.5,497.5 168.5,497.4 169.5,497.4 170.5,497.4 171.5,497.3 172.5,497.3 173.5,497.3 174.5,497.2 175.5,497.2 176.5,497.2 177.5,497.1 178.5,497.1 179.5,497.1 180.5,497 181.5,497 182.5,496.9 183.5,496.9 184.5,496.9 185.5,496.8 186.5,496.8 187.5,496.8 188.5,496.7 189.5,496.7 190.5,496.7 191.5,496.6 192.5,496.6 193.5,496.6 194.5,496.5 195.5,496.5 196.5,496.5 197.5,496.4 198.5,496.4 199.5,496.4 200.5,496.3 201.5,496.3 202.5,496.3 203.5,496.2 204.5,496.2 205.5,496.2 206.5,496.1 207.5,496.1 208.5,496 209.5,496 210.5,496 211.5,495.9 212.5,495.9 213.5,495.9 214.5,495.8 215.5,495.8 216.5,495.8 217.5,495.7 218.5,495.7 219.5,495.7 220.5,495.6 221.5,495.6 222.5,495.6 223.5,495.5 224.5,495.5 225.5,495.5 226.5,495.4 227.5,495.4 228.5,495.4 229.5,495.3 230.5,495.3 231.5,495.3 232.5,495.2 233.5,495.2 234.5,495.2 235.5,495.2 236.5,495.1 237.5,495.1 238.5,495.1 239.5,495.1 240.5,495 241.5,495 242.5,495 243.5,495 244.5,494.9 245.5,494.9 246.5,494.9 247.5,494.8 248.5,494.8 249.5,494.8 250.5,494.8 251.5,494.7 252.5,494.7 253.5,494.7 254.5,494.7 255.5,494.6 256.5,494.6 257.5,494.6 258.5,494.6 259.5,494.5 260.5,494.5 261.5,494.5 262.5,494.5 263.5,494.4 264.5,494.4 265.5,494.4 266.5,494.4 267.5,494.3 268.5,494.3 269.5,494.2 270.5,494 271.5,493.8 272.5,493.6 273.5,493.4 274.5,493.2 275.5,493 276.5,492.8 277.5,492.6 278.5,492.4 279.5,492.3 280.5,492.1 281.5,491.9 282.5,491.7 283.5,491.5 284.5,491.3 285.5,491.1 286.5,490.9 287.5,490.7 288.5,490.5 289.5,490.3 290.5,490.2 291.5,490 292.5,489.8 293.5,489.6 294.5,489.5 295.5,489.3 296.5,489.2 297.5,489.1 298.5,488.9 299.5,488.8 300.5,488.6 301.5,488.5 302.5,488.3 303.5,488.2 304.5,488.1 305.5,487.9 306.5,487.8 307.5,487.6 308.5,487.5 309.5,487.4 310.5,487.2 311.5,487.1 312.5,486.9 313.5,486.8 314.5,486.7 315.5,486.5 316.5,486.4 317.5,486.2 318.5,486.1 319.5,486 320.5,485.8 321.5,485.7 322.5,485.5 323.5,485.4 324.5,485.2 325.5,485.1 326.5,485 327.5,484.8 328.5,484.7 329.5,484.5 330.5,484.8 331.5,485.3 332.5,485.7 333.5,486.2 334.5,486.7 335.5,487.1 336.5,487.6 337.5,488.1 338.5,488.5 339.5,488.7 340.5,488.4 341.5,488.1 342.5,487.8 343.5,487.4 344.5,487.1 345.5,486.8 346.5,486.5 347.5,486.2 348.5,485.9 349.5,485.6 350.5,485.3 351.5,485 352.5,484.7 353.5,484.4 354.5,484 355.5,483.8 356.5,483.8 357.5,483.9 358.5,483.9 359.5,483.9 360.5,483.9 361.5,484 362.5,484 363.5,484 364.5,484 365.5,484.1 366.5,484.1 367.5,484.1 368.5,484.1 369.5,484.2 370.5,484.2 371.5,484.2 372.5,484.2 373.5,484.3 374.5,484.3 375.5,484.3 376.5,484.3 377.5,484.4 378.5,484.4 379.5,484.4 380.5,484.4 381.5,484.5 382.5,484.5 383.5,484.4 384.5,484.3 385.5,484.2 386.5,484.1 387.5,483.9 388.5,483.8 389.5,483.8 390.5,483.9 391.5,483.9 392.5,483.9 393.5,484 394.5,484 395.5,484 396.5,484 397.5,484.1 398.5,484.1 399.5,484.1 400.5,484.2 401.5,484.2 402.5,484.2 403.5,484.3 404.5,484.3 405.5,484.3 406.5,484.4 407.5,484.4 408.5,484.4 409.5,484.5 410.5,484.5 411.5,484.6 412.5,484.8 413.5,485 414.5,485.2 415.5,485.4 416.5,485.6 417.5,485.6 418.5,485.5 419.5,485.5 420.5,485.5 421.5,485.5 422.5,485.4 423.5,485.4 424.5,485.4 425.5,485.4 426.5,485.4 427.5,485.3 428.5,485.3 429.5,485.3 430.5,485.3 431.5,485.2 432.5,485.2 433.5,485.2 434.5,485.2 435.5,485.1 436.5,485.1 437.5,485.3 438.5,485.6 439.5,485.9 440.5,486.2 441.5,486.5 442.5,486.8 443.5,487.1 444.5,487.4 445.5,487.5 446.5,487.5 447.5,487.5 448.5,487.5 449.5,487.5 450.5,487.5 451.5,487.5 452.5,487.5 453.5,487.5 454.5,487.5 455.5,487.5 456.5,487.5 457.5,487.5 458.5,487.5 459.5,487.5 460.5,487.5 461.5,487.5 462.5,487.5 463.5,487.5 464.5,487.5 465.5,487.5 466.5,487.5 467.5,487.5 468.5,487.5 469.5,487.5 470.5,488.6 471.5,489.9 472.5,491.1 473.5,491.5 474.5,491.3 475.5,491.2 476.5,491 477.5,490.8 478.5,490.7 479.5,490.5 480.5,490.4 481.5,490.2 482.5,490 483.5,489.9 484.5,489.7 485.5,489.5 486.5,489.4 487.5,489.2 488.5,489 489.5,488.9 490.5,488.7 491.5,488.5 492.5,488.4 493.5,488.2 494.5,488.4 495.5,488.6 496.5,488.8 497.5,489 498.5,489.2 499.5,489.3 500.5,489.1 501.5,489 502.5,488.9 503.5,488.8 504.5,488.7 505.5,488.5 506.5,488.4 507.5,488.3 508.5,488.2 509.5,488.1 510.5,488 511.5,487.8 512.5,487.7 513.5,487.6 514.5,487.5 515.5,487.4 516.5,487.2 517.5,487.1 518.5,487 519.5,486.9 520.5,486.8 521.5,486.6 522.5,486.5 523.5,486.4 524.5,486.3 525.5,486.2 526.5,486 527.5,486 528.5,486 529.5,486 530.5,486 531.5,486 532.5,486 533.5,486 534.5,486 535.5,486 536.5,486 537.5,486 538.5,486 539.5,486 540.5,486 541.5,486 542.5,486 543.5,486 544.5,486 545.5,486 546.5,486.1 547.5,486.1 548.5,486.2 549.5,486.2 550.5,486.3 551.5,486.4 552.5,486.4 553.5,486.5 554.5,486.5 555.5,486.6 556.5,486.6 557.5,486.7 558.5,486.8 559.5,486.8 560.5,486.9 561.5,486.9 562.5,487 563.5,487 564.5,487.1 565.5,487.1 566.5,487.2 567.5,487.2 568.5,487.3 569.5,487.4 570.5,487.4 571.5,487.5 572.5,487.5 573.5,487.6 574.5,487.6 575.5,487.7 576.5,487.8 577.5,487.8 578.5,487.9 579.5,487.9 580.5,487.8 581.5,487.7 582.5,487.6 583.5,487.5 584.5,487.5 585.5,487.4 586.5,487.3 587.5,487.2 588.5,487.1 589.5,487 590.5,487 591.5,486.9 592.5,487 593.5,487.1 594.5,487.2 595.5,487.3 596.5,487.4 597.5,487.5 598.5,487.6 599.5,487.7 600.5,487.8 601.5,487.9 602.5,488 603.5,488 604.5,488.1 605.5,488.2 606.5,488.3 607.5,488.4 608.5,488.5 609.5,488.6 610.5,488.7 611.5,488.8 612.5,488.8 613.5,488.8 614.5,488.8 615.5,488.8 616.5,488.8 617.5,488.8 618.5,488.8 619.5,488.8 620.5,488.8 621.5,488.8 622.5,488.8 623.5,488.8 624.5,488.8 625.5,488.8 626.5,488.8 627.5,488.8 628.5,488.8 629.5,488.8 630.5,488.8 631.5,488.8 632.5,488.8 633.5,488.8 634.5,488.8 635.5,488.8 636.5,488.9 637.5,489 638.5,489.1 639.5,489.2 640.5,489.2 641.5,489.3 642.5,489.4 643.5,489.5 644.5,489.6 645.5,489.7 646.5,489.8 647.5,489.9 648.5,490 649.5,490.1 650.5,490.1 651.5,490 652.5,489.9 653.5,489.8 654.5,489.7 655.5,489.6 656.5,489.5 657.5,489.4 658.5,489.4 659.5,489.3 660.5,489.2 661.5,489.1 662.5,489 663.5,488.9 664.5,488.8 665.5,488.9 666.5,489 667.5,489.2 668.5,489.3 669.5,489.5 670.5,489.6 671.5,489.7 672.5,489.9 673.5,490 674.5,490.2 675.5,490.3 676.5,490.4 677.5,490.6 678.5,490.5 679.5,490.4 680.5,490.3 681.5,490.2 682.5,490.1 683.5,490 684.5,489.9 685.5,489.8 686.5,489.7 687.5,489.6 688.5,489.6 689.5,489.5 690.5,489.4 691.5,489.3 692.5,489.2 693.5,489.1 694.5,489 695.5,488.9 696.5,488.8 697.5,488.7 698.5,488.6 699.5,488.5 700.5,488.4 701.5,488.3 702.5,488.2 703.5,488.1 704.5,488 705.5,487.9 706.5,488.2 707.5,488.5 708.5,488.8 709.5,489.1 710.5,489.4 711.5,489.7 712.5,490 713.5,490.2 714.5,490.5 715.5,490.7 716.5,490.9 717.5,491.1 718.5,491.3 719.5,491.5 720.5,491.7 721.5,492.4 722.5,493 723.5,493.6 724.5,494.2 725.5,494.9 726.5,495.5 727.5,496.1 728.5,495.7 729.5,495.2 730.5,494.7 731.5,494.4 732.5,494.7 733.5,495.1 734.5,495.4 735.5,495.6 736.5,495.5 737.5,495.4 738.5,495.3 739.5,495.2 740.5,495.1 741.5,495 742.5,494.9 743.5,494.6 744.5,494.4 745.5,494.2 746.5,493.9 747.5,493.7 748.5,493.4 749.5,493.2 750.5,493 751.5,492.7 752.5,492.5 753.5,492.3 754.5,492 755.5,491.9" fill="none" stroke="rgb(42,134,32)" stroke-width="2.5" stroke-linejoin="round"/>
<polyline points="129.5,525.5 130.5,525.5 131.5,525.5 132.5,525.4 133.5,525.4 134.5,525.4 135.5,525.4 136.5,525.3 137.5,525.3 138.5,525.3 139.5,525.2 140.5,525.2 141.5,525.2 142.5,525.2 143.5,525.1 144.5,525.1 145.5,525.1 146.5,525.1 147.5,525 148.5,525 149.5,525 150.5,525 151.5,524.9 152.5,524.9 153.5,525.1 154.5,525.5 155.5,525.9 156.5,525.2 157.5,524.5 158.5,523.8 159.5,523.1 160.5,522.6 161.5,522.7 162.5,522.8 163.5,522.9 164.5,522.9 165.5,523 166.5,523.1 167.5,523.2 168.5,523.3 169.5,523.3 170.5,523.4 171.5,523.5 172.5,523.6 173.5,523.7 174.5,523.8 175.5,523.8 176.5,523.9 177.5,524 178.5,524.1 179.5,524.2 180.5,524.2 181.5,524.3 182.5,524.3 183.5,524.3 184.5,524.3 185.5,524.4 186.5,524.4 187.5,524.4 188.5,524.4 189.5,524.4 190.5,524.4 191.5,524.4 192.5,524.5 193.5,524.5 194.5,524.5 195.5,524.5 196.5,524.5 197.5,524.5 198.5,524.5 199.5,524.6 200.5,524.6 201.5,524.6 202.5,524.6 203.5,524.6 204.5,524.6 205.5,524.6 206.5,524.7 207.5,524.7 208.5,524.7 209.5,524.7 210.5,524.7 211.5,524.7 212.5,524.7 213.5,524.8 214.5,524.8 215.5,524.8 216.5,524.8 217.5,524.8 218.5,524.8 219.5,524.8 220.5,524.9 221.5,524.9 222.5,524.9 223.5,524.9 224.5,524.9 225.5,524.9 226.5,524.9 227.5,525 228.5,525 229.5,525 230.5,525 231.5,525 232.5,525 233.5,525 234.5,525.1 235.5,525.1 236.5,525.1 237.5,525.1 238.5,525.1 239.5,525.1 240.5,525.1 241.5,525.2 242.5,525.2 243.5,525.2 244.5,525.2 245.5,525.2 246.5,525.1 247.5,525.1 248.5,525.1 249.5,525 250.5,525 251.5,525 252.5,524.9 253.5,524.9 254.5,524.8 255.5,524.8 256.5,524.8 257.5,524.7 258.5,524.7 259.5,524.7 260.5,524.6 261.5,524.6 262.5,524.6 263.5,524.5 264.5,524.5 265.5,524.4 266.5,524.4 267.5,524.4 268.5,524.3 269.5,524.3 270.5,524.5 271.5,524.6 272.5,524.8 273.5,525 274.5,525.1 275.5,525.3 276.5,525.4 277.5,525.6 278.5,525.8 279.5,525.9 280.5,526.1 281.5,526.2 282.5,526.4 283.5,526.5 284.5,526.7 285.5,526.8 286.5,526.9 287.5,527 288.5,527.1 289.5,527.2 290.5,527.3 291.5,527.4 292.5,527.5 293.5,527.5 294.5,527.4 295.5,527.3 296.5,527.3 297.5,527.2 298.5,527.2 299.5,527.1 300.5,527 301.5,527 302.5,526.9 303.5,526.9 304.5,526.8 305.5,526.8 306.5,526.7 307.5,526.6 308.5,526.6 309.5,526.5 310.5,526.5 311.5,526.4 312.5,526.3 313.5,526.3 314.5,526.3 315.5,526.2 316.5,526.2 317.5,526.2 318.5,526.2 319.5,526.1 320.5,526.1 321.5,526.1 322.5,526.1 323.5,526 324.5,526 325.5,526 326.5,526 327.5,525.9 328.5,525.9 329.5,525.9 330.5,525.9 331.5,525.9 332.5,525.9 333.5,525.9 334.5,525.9 335.5,525.9 336.5,525.9 337.5,526 338.5,526 339.5,526 340.5,526 341.5,526 342.5,526 343.5,526 344.5,526 345.5,526 346.5,526 347.5,526 348.5,526 349.5,526 350.5,526 351.5,526 352.5,526.1 353.5,526.1 354.5,526.1 355.5,526.1 356.5,526.1 357.5,526.1 358.5,526.1 359.5,526.1 360.5,526.1 361.5,526.1 362.5,526.1 363.5,526.1 364.5,526.1 365.5,526.1 366.5,526.2 367.5,526.2 368.5,526.2 369.5,526.2 370.5,526.2 371.5,526.2 372.5,526.2 373.5,526.2 374.5,526.2 375.5,526.2 376.5,526.2 377.5,526.2 378.5,526.3 379.5,526.3 380.5,526.3 381.5,526.3 382.5,526.3 383.5,526.3 384.5,526.2 385.5,525.9 386.5,525.6 387.5,525.3 388.5,525.2 389.5,525.3 390.5,525.3 391.5,525.3 392.5,525.4 393.5,525.4 394.5,525.4 395.5,525.5 396.5,525.5 397.5,525.5 398.5,525.6 399.5,525.6 400.5,525.6 401.5,525.7 402.5,525.7 403.5,525.8 404.5,525.8 405.5,525.8 406.5,525.9 407.5,525.9 408.5,525.9 409.5,525.9 410.5,525.9 411.5,525.9 412.5,525.9 413.5,526 414.5,526 415.5,526 416.5,526 417.5,526 418.5,526 419.5,526 420.5,526 421.5,526 422.5,526 423.5,526.1 424.5,526.1 425.5,526.1 426.5,526.1 427.5,526.1 428.5,526.1 429.5,526.1 430.5,526.1 431.5,526.1 432.5,526.1 433.5,526.2 434.5,526.2 435.5,526.2 436.5,526.2 437.5,526.2 438.5,526.2 439.5,526.2 440.5,526.2 441.5,526.2 442.5,526.2 443.5,526.2 444.5,526.3 445.5,526.3 446.5,526.3 447.5,526.3 448.5,526.3 449.5,526.3 450.5,526.4 451.5,526.5 452.5,526.5 453.5,526.6 454.5,526.6 455.5,526.7 456.5,526.7 457.5,526.8 458.5,526.9 459.5,526.9 460.5,527 461.5,527 462.5,527.1 463.5,527.1 464.5,527.2 465.5,527.3 466.5,527.3 467.5,527.4 468.5,527.4 469.5,527.5 470.5,527.2 471.5,526.8 472.5,526.3 473.5,525.9 474.5,525.9 475.5,525.9 476.5,525.9 477.5,525.9 478.5,525.9 479.5,525.9 480.5,525.9 481.5,525.9 482.5,525.9 483.5,525.9 484.5,525.9 485.5,525.9 486.5,525.9 487.5,525.9 488.5,525.9 489.5,525.9 490.5,525.9 491.5,525.9 492.5,525.9 493.5,525.9 494.5,526 495.5,526.1 496.5,526.2 497.5,526.3 498.5,526.4 499.5,526.5 500.5,526.6 501.5,526.7 502.5,526.7 503.5,526.8 504.5,526.9 505.5,527 506.5,527 507.5,526.9 508.5,526.9 509.5,526.8 510.5,526.8 511.5,526.8 512.5,526.7 513.5,526.7 514.5,526.6 515.5,526.6 516.5,526.6 517.5,526.5 518.5,526.5 519.5,526.5 520.5,526.4 521.5,526.4 522.5,526.3 523.5,526.3 524.5,526.3 525.5,526.2 526.5,526.2 527.5,526.1 528.5,526.1 529.5,526.1 530.5,526.1 531.5,526.1 532.5,526.1 533.5,526.1 534.5,526.1 535.5,526.1 536.5,526.1 537.5,526.1 538.5,526.1 539.5,526.2 540.5,526.2 541.5,526.2 542.5,526.2 543.5,526.2 544.5,526.2 545.5,526.2 546.5,526.2 547.5,526.2 548.5,526.2 549.5,526.2 550.5,526.2 551.5,526.2 552.5,526.2 553.5,526.2 554.5,526.2 555.5,526.2 556.5,526.2 557.5,526.2 558.5,526.2 559.5,526.3 560.5,526.3 561.5,526.3 562.5,526.3 563.5,526.3 564.5,526.3 565.5,526.3 566.5,526.3 567.5,526.3 568.5,526.3 569.5,526.3 570.5,526.3 571.5,526.4 572.5,526.4 573.5,526.4 574.5,526.5 575.5,526.5 576.5,526.5 577.5,526.6 578.5,526.6 579.5,526.6 580.5,526.7 581.5,526.7 582.5,526.7 583.5,526.8 584.5,526.8 585.5,526.8 586.5,526.9 587.5,526.9 588.5,526.9 589.5,527 590.5,527 591.5,527.1 592.5,527.1 593.5,527.2 594.5,527.2 595.5,527.3 596.5,527.4 597.5,527.4 598.5,527.5 599.5,527.5 600.5,527.6 601.5,527.6 602.5,527.7 603.5,527.7 604.5,527.8 605.5,527.8 606.5,527.9 607.5,528 608.5,528 609.5,528.1 610.5,528.1 611.5,528.2 612.5,528.2 613.5,528.1 614.5,528 615.5,527.9 616.5,527.9 617.5,527.8 618.5,527.7 619.5,527.6 620.5,527.6 621.5,527.5 622.5,527.4 623.5,527.3 624.5,527.3 625.5,527.2 626.5,527.1 627.5,527.1 628.5,527 629.5,526.9 630.5,526.8 631.5,526.8 632.5,526.7 633.5,526.6 634.5,526.5 635.5,526.5 636.5,526.4 637.5,526.3 638.5,526.3 639.5,526.2 640.5,526.2 641.5,526.2 642.5,526.1 643.5,526.1 644.5,526.1 645.5,526 646.5,526 647.5,526 648.5,525.9 649.5,525.9 650.5,525.9 651.5,525.9 652.5,525.8 653.5,525.8 654.5,525.8 655.5,525.7 656.5,525.7 657.5,525.7 658.5,525.6 659.5,525.6 660.5,525.6 661.5,525.5 662.5,525.5 663.5,525.6 664.5,525.7 665.5,525.8 666.5,525.9 667.5,525.9 668.5,526 669.5,526.1 670.5,526.2 671.5,526.3 672.5,526.4 673.5,526.5 674.5,526.5 675.5,526.6 676.5,526.7 677.5,526.7 678.5,526.6 679.5,526.6 680.5,526.6 681.5,526.6 682.5,526.5 683.5,526.5 684.5,526.5 685.5,526.4 686.5,526.4 687.5,526.4 688.5,526.4 689.5,526.3 690.5,526.3 691.5,526.1 692.5,525.8 693.5,525.6 694.5,525.4 695.5,525.2 696.5,525.3 697.5,525.4 698.5,525.5 699.5,525.6 700.5,525.7 701.5,525.8 702.5,525.9 703.5,526 704.5,526.1 705.5,526.1 706.5,526.1 707.5,526.1 708.5,526.1 709.5,526 710.5,526 711.5,526 712.5,526 713.5,526 714.5,526 715.5,526 716.5,525.9 717.5,525.9 718.5,525.9 719.5,525.9 720.5,526 721.5,526.1 722.5,526.2 723.5,526.3 724.5,526.4 725.5,526.5 726.5,526.5 727.5,526.6 728.5,526.7 729.5,526.8 730.5,526.7 731.5,526.7 732.5,526.6 733.5,526.6 734.5,526.5 735.5,526.5 736.5,526.5 737.5,526.4 738.5,526.4 739.5,526.3 740.5,526 741.5,525.6 742.5,525.2 743.5,524.8 744.5,524.5 745.5,524.1 746.5,523.9 747.5,524 748.5,524.1 749.5,524.1 750.5,524.1 751.5,523.9 752.5,523.6 753.5,523.4 754.5,523.1 755.5,523" fill="none" stroke="rgb(4,128,156)" stroke-width="2.5" stroke-linejoin="round"/>
<polyline points="129.5,539.2 130.5,539.2 131.5,539.1 132.5,539.1 133.5,539.1 134.5,539 135.5,539 136.5,538.9 137.5,538.9 138.5,538.9 139.5,538.8 140.5,538.8 141.5,538.8 142.5,538.7 143.5,538.7 144.5,538.6 145.5,538.6 146.5,538.6 147.5,538.5 148.5,538.5 149.5,538.4 150.5,538.4 151.5,538.7 152.5,539.1 153.5,539.4 154.5,539.8 155.5,540.2 156.5,540.1 157.5,539.9 158.5,539.8 159.5,539.7 160.5,539.6 161.5,539.6 162.5,539.5 163.5,539.5 164.5,539.5 165.5,539.4 166.5,539.4 167.5,539.4 168.5,539.4 169.5,539.3 170.5,539.3 171.5,539.3 172.5,539.3 173.5,539.2 174.5,539.2 175.5,539.2 176.5,539.1 177.5,539.1 178.5,539.1 179.5,539.1 180.5,539 181.5,538.9 182.5,538.5 183.5,538 184.5,538 185.5,538.1 186.5,538.1 187.5,538.1 188.5,538.2 189.5,538.2 190.5,538.2 191.5,538.2 192.5,538.3 193.5,538.3 194.5,538.3 195.5,538.4 196.5,538.4 197.5,538.4 198.5,538.5 199.5,538.5 200.5,538.5 201.5,538.6 202.5,538.6 203.5,538.6 204.5,538.6 205.5,538.7 206.5,538.7 207.5,538.7 208.5,538.8 209.5,538.8 210.5,538.8 211.5,538.9 212.5,538.9 213.5,538.9 214.5,539 215.5,539 216.5,539 217.5,539 218.5,539.1 219.5,539.1 220.5,539.1 221.5,539.2 222.5,539.2 223.5,539.2 224.5,539.3 225.5,539.3 226.5,539.3 227.5,539.4 228.5,539.4 229.5,539.4 230.5,539.5 231.5,539.5 232.5,539.5 233.5,539.5 234.5,539.6 235.5,539.6 236.5,539.6 237.5,539.7 238.5,539.7 239.5,539.7 240.5,539.8 241.5,539.8 242.5,539.8 243.5,539.9 244.5,539.9 245.5,539.9 246.5,539.9 247.5,539.9 248.5,539.9 249.5,539.9 250.5,539.9 251.5,539.9 252.5,539.9 253.5,539.9 254.5,539.9 255.5,539.9 256.5,539.9 257.5,539.9 258.5,539.9 259.5,539.9 260.5,539.9 261.5,539.9 262.5,539.9 263.5,539.9 264.5,539.9 265.5,539.9 266.5,539.9 267.5,539.9 268.5,539.9 269.5,539.9 270.5,539.8 271.5,539.7 272.5,539.7 273.5,539.6 274.5,539.5 275.5,539.4 276.5,539.3 277.5,539.3 278.5,539.2 279.5,539.1 280.5,539 281.5,539 282.5,538.9 283.5,538.8 284.5,538.7 285.5,538.6 286.5,538.6 287.5,538.5 288.5,538.4 289.5,538.3 290.5,538.3 291.5,538.2 292.5,538.1 293.5,538 294.5,538.4 295.5,539 296.5,539.6 297.5,540.2 298.5,540 299.5,539.9 300.5,539.7 301.5,539.6 302.5,539.4 303.5,539.3 304.5,539.1 305.5,538.9 306.5,538.8 307.5,538.6 308.5,538.5 309.5,538.3 310.5,538.2 311.5,538 312.5,537.9 313.5,537.7 314.5,537.6 315.5,537.4 316.5,537.2 317.5,537.1 318.5,536.9 319.5,536.8 320.5,536.6 321.5,536.5 322.5,536.6 323.5,537 324.5,537.5 325.5,537.9 326.5,538.3 327.5,538.3 328.5,538.2 329.5,538.1 330.5,538 331.5,537.9 332.5,537.8 333.5,537.7 334.5,537.7 335.5,537.6 336.5,537.5 337.5,537.4 338.5,537.3 339.5,537.2 340.5,537.1 341.5,537 342.5,536.9 343.5,536.8 344.5,536.7 345.5,536.6 346.5,536.5 347.5,536.4 348.5,536.3 349.5,536.2 350.5,536.1 351.5,536 352.5,535.9 353.5,535.8 354.5,535.7 355.5,535.6 356.5,535.5 357.5,535.4 358.5,535.3 359.5,535.2 360.5,535.2 361.5,535.3 362.5,535.3 363.5,535.4 364.5,535.4 365.5,535.5 366.5,535.5 367.5,535.6 368.5,535.6 369.5,535.7 370.5,535.7 371.5,535.8 372.5,535.8 373.5,535.9 374.5,536 375.5,536 376.5,536.1 377.5,536.1 378.5,536.2 379.5,536.2 380.5,536.3 381.5,536.3 382.5,536.4 383.5,536.1 384.5,535.5 385.5,534.9 386.5,534.2 387.5,533.6 388.5,533.4 389.5,533.3 390.5,533.2 391.5,533.2 392.5,533.1 393.5,533.1 394.5,533 395.5,532.9 396.5,532.9 397.5,532.8 398.5,532.8 399.5,532.7 400.5,532.6 401.5,532.6 402.5,532.5 403.5,532.5 404.5,532.4 405.5,532.3 406.5,532.3 407.5,532.2 408.5,532.2 409.5,532.1 410.5,532 411.5,532 412.5,532.2 413.5,532.4 414.5,532.6 415.5,532.8 416.5,532.9 417.5,532.9 418.5,532.9 419.5,532.9 420.5,532.9 421.5,532.9 422.5,532.9 423.5,532.9 424.5,532.9 425.5,532.9 426.5,532.9 427.5,532.9 428.5,532.9 429.5,532.9 430.5,532.9 431.5,532.9 432.5,532.9 433.5,532.9 434.5,532.9 435.5,532.9 436.5,532.9 437.5,532.9 438.5,532.9 439.5,532.9 440.5,532.8 441.5,532.7 442.5,532.6 443.5,532.6 444.5,532.6 445.5,532.7 446.5,532.8 447.5,532.9 448.5,533.1 449.5,533.2 450.5,533.3 451.5,533.4 452.5,533.6 453.5,533.7 454.5,533.8 455.5,534 456.5,534.1 457.5,534.2 458.5,534.3 459.5,534.5 460.5,534.6 461.5,534.7 462.5,534.9 463.5,535 464.5,535.1 465.5,535.2 466.5,535.4 467.5,535.5 468.5,536 469.5,536.6 470.5,537.1 471.5,537.7 472.5,538.2 473.5,538.8 474.5,538.7 475.5,538.6 476.5,538.5 477.5,538.4 478.5,538.2 479.5,538.1 480.5,538 481.5,537.9 482.5,537.8 483.5,537.7 484.5,537.6 485.5,537.5 486.5,537.4 487.5,537.3 488.5,537.1 489.5,537 490.5,536.9 491.5,536.8 492.5,536.7 493.5,536.6 494.5,536.5 495.5,536.5 496.5,536.4 497.5,536.4 498.5,536.3 499.5,536.3 500.5,536.2 501.5,536.2 502.5,536.1 503.5,536 504.5,536 505.5,535.9 506.5,535.9 507.5,535.8 508.5,535.8 509.5,535.7 510.5,535.6 511.5,535.4 512.5,535.2 513.5,535.1 514.5,534.9 515.5,534.7 516.5,534.6 517.5,534.4 518.5,534.2 519.5,534.1 520.5,533.9 521.5,533.7 522.5,533.5 523.5,533.4 524.5,533.2 525.5,533 526.5,532.9 527.5,532.9 528.5,532.9 529.5,532.9 530.5,532.9 531.5,532.9 532.5,532.9 533.5,532.9 534.5,532.9 535.5,532.9 536.5,532.9 537.5,532.9 538.5,532.9 539.5,532.9 540.5,532.9 541.5,532.9 542.5,532.9 543.5,532.9 544.5,532.9 545.5,532.9 546.5,532.9 547.5,532.9 548.5,532.9 549.5,532.9 550.5,532.9 551.5,532.9 552.5,532.9 553.5,533 554.5,533.1 555.5,533.1 556.5,533.2 557.5,533.3 558.5,533.3 559.5,533.4 560.5,533.5 561.5,533.5 562.5,533.6 563.5,533.7 564.5,533.8 565.5,533.8 566.5,533.9 567.5,534 568.5,534 569.5,534.1 570.5,534.1 571.5,534.1 572.5,534 573.5,534 574.5,534 575.5,534 576.5,534 577.5,533.9 578.5,533.9 579.5,533.9 580.5,533.9 581.5,533.9 582.5,533.8 583.5,533.8 584.5,533.8 585.5,533.8 586.5,533.8 587.5,533.7 588.5,533.7 589.5,533.7 590.5,533.8 591.5,533.9 592.5,534 593.5,534.1 594.5,534.3 595.5,534.4 596.5,534.5 597.5,534.6 598.5,534.7 599.5,534.9 600.5,535 601.5,535.1 602.5,535.2 603.5,535.4 604.5,535.5 605.5,535.6 606.5,535.7 607.5,535.8 608.5,536 609.5,536.1 610.5,536.2 611.5,536.3 612.5,536.4 613.5,536.3 614.5,536.3 615.5,536.2 616.5,536.1 617.5,536.1 618.5,536 619.5,536 620.5,535.9 621.5,535.8 622.5,535.8 623.5,535.7 624.5,535.7 625.5,535.6 626.5,535.6 627.5,535.5 628.5,535.4 629.5,535.4 630.5,535.3 631.5,535.3 632.5,535.2 633.5,535.1 634.5,535.1 635.5,535 636.5,535 637.5,534.9 638.5,534.8 639.5,534.7 640.5,534.6 641.5,534.5 642.5,534.4 643.5,534.3 644.5,534.2 645.5,534.1 646.5,534 647.5,533.9 648.5,533.8 649.5,533.7 650.5,533.6 651.5,533.5 652.5,533.4 653.5,533.3 654.5,533.2 655.5,533.1 656.5,533.1 657.5,533.1 658.5,533 659.5,533 660.5,533 661.5,533 662.5,532.9 663.5,532.9 664.5,532.9 665.5,533.1 666.5,533.3 667.5,533.5 668.5,533.7 669.5,533.9 670.5,534.1 671.5,534.3 672.5,534.6 673.5,534.8 674.5,534.9 675.5,535 676.5,535 677.5,535.1 678.5,535.1 679.5,535.1 680.5,535.2 681.5,535.2 682.5,535.3 683.5,535.3 684.5,535.4 685.5,535.4 686.5,535.5 687.5,535.5 688.5,535.5 689.5,535.6 690.5,535.3 691.5,535 692.5,534.7 693.5,534.3 694.5,534 695.5,533.7 696.5,533.4 697.5,533 698.5,532.7 699.5,532.8 700.5,532.9 701.5,533 702.5,533.1 703.5,533.2 704.5,533.3 705.5,533.4 706.5,533.5 707.5,533.5 708.5,533.6 709.5,533.8 710.5,533.9 711.5,534 712.5,534.1 713.5,534.3 714.5,534.4 715.5,534.5 716.5,534.6 717.5,534.7 718.5,534.9 719.5,535 720.5,535.1 721.5,535.2 722.5,535.4 723.5,535.7 724.5,536 725.5,536.2 726.5,536.5 727.5,536.8 728.5,536.5 729.5,536.1 730.5,535.8 731.5,535.4 732.5,535.1 733.5,534.7 734.5,534.4 735.5,534.6 736.5,534.8 737.5,535 738.5,535.3 739.5,535.5 740.5,535.7 741.5,535.9 742.5,535.5 743.5,535 744.5,534.6 745.5,534.2 746.5,533.7 747.5,533.6 748.5,533.6 749.5,533.6 750.5,533.6 751.5,533.6 752.5,533.8 753.5,534.2 754.5,534.6 755.5,534.9" fill="none" stroke="rgb(78,42,142)" stroke-width="2.5" stroke-linejoin="round"/>
<path d="M129.5,341.8 L130.5,342 L131.5,342.2 L132.5,342.5 L133.5,342.7 L134.5,342.9 L135.5,343.1 L136.5,343.4 L137.5,343.6 L138.5,343.8 L139.5,344 L140.5,344.3 L141.5,344.5 L142.5,344.7 L143.5,344.9 L144.5,345.2 L145.5,345.4 L146.5,345.6 L147.5,345.8 L148.5,346.1 L149.5,346.3 L150.5,346.5 L151.5,346.8 L152.5,347.1 L153.5,347.3 L154.5,347.6 L155.5,347.9 L156.5,348.2 L157.5,348.4 L158.5,348.7 L159.5,349.4 L160.5,350.4 L161.5,351.3 L162.5,352.2 L163.5,353.2 L164.5,354.1 L165.5,355 L166.5,355.2 L167.5,355 L168.5,354.8 L169.5,354.6 L170.5,354.5 L171.5,354.3 L172.5,354.1 L173.5,353.9 L174.5,353.8 L175.5,353.6 L176.5,353.4 L177.5,353.2 L178.5,353.1 L179.5,352.9 L180.5,352.7 L181.5,352.5 L182.5,352.4 L183.5,352.5 L184.5,352.6 L185.5,352.6 L186.5,352.7 L187.5,352.8 L188.5,352.9 L189.5,352.9 L190.5,353 L191.5,353.1 L192.5,353.2 L193.5,353.2 L194.5,353.3 L195.5,353.4 L196.5,353.5 L197.5,353.5 L198.5,353.5 L199.5,353.5 L200.5,353.4 L201.5,353.4 L202.5,353.4 L203.5,353.4 L204.5,353.4 L205.5,353.4 L206.5,353.3 L207.5,353.3 L208.5,353.3 L209.5,353.3 L210.5,353.3 L211.5,353.3 L212.5,353.2 L213.5,353.2 L214.5,353.2 L215.5,353.2 L216.5,353.2 L217.5,353.2 L218.5,353.1 L219.5,353.1 L220.5,353.1 L221.5,353.1 L222.5,353.1 L223.5,353.1 L224.5,353 L225.5,353 L226.5,353 L227.5,353 L228.5,353 L229.5,353 L230.5,352.9 L231.5,352.9 L232.5,352.9 L233.5,352.9 L234.5,352.9 L235.5,352.9 L236.5,352.8 L237.5,352.8 L238.5,352.8 L239.5,352.8 L240.5,352.8 L241.5,352.8 L242.5,352.7 L243.5,352.7 L244.5,352.7 L245.5,352.7 L246.5,352.8 L247.5,352.8 L248.5,352.8 L249.5,352.9 L250.5,352.9 L251.5,352.9 L252.5,353 L253.5,353 L254.5,353.1 L255.5,353.1 L256.5,353.1 L257.5,353.2 L258.5,353.2 L259.5,353.2 L260.5,353.3 L261.5,353.3 L262.5,353.4 L263.5,353.4 L264.5,353.4 L265.5,353.5 L266.5,353.5 L267.5,353.5 L268.5,353.6 L269.5,353.4 L270.5,353.1 L271.5,352.7 L272.5,352.4 L273.5,352 L274.5,351.7 L275.5,351.3 L276.5,350.9 L277.5,350.6 L278.5,350.2 L279.5,349.9 L280.5,349.5 L281.5,349.2 L282.5,348.8 L283.5,348.5 L284.5,348.3 L285.5,348.2 L286.5,348.1 L287.5,348 L288.5,347.9 L289.5,347.8 L290.5,347.7 L291.5,347.6 L292.5,347.5 L293.5,347.4 L294.5,347.3 L295.5,347.2 L296.5,347.1 L297.5,347.3 L298.5,347.5 L299.5,347.7 L300.5,348 L301.5,348.2 L302.5,348.4 L303.5,348.7 L304.5,348.9 L305.5,349.2 L306.5,349.5 L307.5,349.8 L308.5,350.1 L309.5,350.4 L310.5,350.8 L311.5,351.1 L312.5,351.4 L313.5,351.7 L314.5,352 L315.5,352.4 L316.5,352.7 L317.5,353 L318.5,353.3 L319.5,353.6 L320.5,354 L321.5,354.3 L322.5,354.5 L323.5,354.3 L324.5,354.2 L325.5,354.1 L326.5,354 L327.5,353.9 L328.5,353.7 L329.5,353.6 L330.5,353.6 L331.5,353.6 L332.5,353.6 L333.5,353.5 L334.5,353.5 L335.5,353.5 L336.5,353.5 L337.5,353.5 L338.5,353.5 L339.5,353.4 L340.5,353.4 L341.5,353.4 L342.5,353.4 L343.5,353.4 L344.5,353.4 L345.5,353.4 L346.5,353.3 L347.5,353.3 L348.5,353.3 L349.5,353.3 L350.5,353.3 L351.5,353.3 L352.5,353.2 L353.5,353.2 L354.5,353.2 L355.5,353.2 L356.5,353.1 L357.5,353.1 L358.5,353 L359.5,353 L360.5,352.9 L361.5,352.9 L362.5,352.8 L363.5,352.8 L364.5,352.7 L365.5,352.7 L366.5,352.6 L367.5,352.6 L368.5,352.5 L369.5,352.5 L370.5,352.4 L371.5,352.4 L372.5,352.3 L373.5,352.3 L374.5,352.2 L375.5,352.2 L376.5,352.1 L377.5,352.1 L378.5,352 L379.5,352 L380.5,351.9 L381.5,351.9 L382.5,351.8 L383.5,351.9 L384.5,352.3 L385.5,352.7 L386.5,353.1 L387.5,353.5 L388.5,353.9 L389.5,353.8 L390.5,353.6 L391.5,353.3 L392.5,353.1 L393.5,352.9 L394.5,352.6 L395.5,352.4 L396.5,352.2 L397.5,351.9 L398.5,351.7 L399.5,351.5 L400.5,351.2 L401.5,351 L402.5,350.8 L403.5,350.5 L404.5,350.3 L405.5,350.1 L406.5,349.8 L407.5,349.6 L408.5,349.4 L409.5,349.1 L410.5,348.9 L411.5,348.8 L412.5,348.7 L413.5,348.5 L414.5,348.4 L415.5,348.3 L416.5,348.2 L417.5,348 L418.5,347.9 L419.5,347.8 L420.5,347.6 L421.5,347.5 L422.5,347.4 L423.5,347.2 L424.5,347.1 L425.5,347 L426.5,346.9 L427.5,346.7 L428.5,346.6 L429.5,346.5 L430.5,346.3 L431.5,346.2 L432.5,346.1 L433.5,345.9 L434.5,345.8 L435.5,345.7 L436.5,345.6 L437.5,345.4 L438.5,345.3 L439.5,345.2 L440.5,345 L441.5,344.9 L442.5,344.8 L443.5,344.6 L444.5,344.6 L445.5,344.7 L446.5,344.7 L447.5,344.8 L448.5,344.9 L449.5,344.9 L450.5,345 L451.5,345 L452.5,345.1 L453.5,345.1 L454.5,345.2 L455.5,345.2 L456.5,345.3 L457.5,345.3 L458.5,345.4 L459.5,345.4 L460.5,345.5 L461.5,345.6 L462.5,345.6 L463.5,345.7 L464.5,345.7 L465.5,345.8 L466.5,345.8 L467.5,345.9 L468.5,345.9 L469.5,346 L470.5,346 L471.5,346.1 L472.5,346.2 L473.5,346.2 L474.5,346 L475.5,345.9 L476.5,345.8 L477.5,345.6 L478.5,345.5 L479.5,345.4 L480.5,345.2 L481.5,345.1 L482.5,344.9 L483.5,344.8 L484.5,344.7 L485.5,344.5 L486.5,344.4 L487.5,344.3 L488.5,344.1 L489.5,344 L490.5,343.8 L491.5,343.7 L492.5,343.6 L493.5,343.4 L494.5,343.3 L495.5,343.2 L496.5,343 L497.5,342.9 L498.5,342.8 L499.5,342.7 L500.5,342.6 L501.5,342.5 L502.5,342.4 L503.5,342.3 L504.5,342.2 L505.5,342.1 L506.5,342 L507.5,341.9 L508.5,341.8 L509.5,341.7 L510.5,341.6 L511.5,341.5 L512.5,341.5 L513.5,341.4 L514.5,341.4 L515.5,341.3 L516.5,341.2 L517.5,341.2 L518.5,341.1 L519.5,341.1 L520.5,341 L521.5,341 L522.5,340.9 L523.5,340.9 L524.5,340.8 L525.5,340.8 L526.5,340.7 L527.5,340.6 L528.5,340.6 L529.5,340.5 L530.5,340.5 L531.5,340.4 L532.5,340.4 L533.5,340.3 L534.5,340.2 L535.5,340.2 L536.5,340.1 L537.5,340.1 L538.5,340 L539.5,339.9 L540.5,339.9 L541.5,339.8 L542.5,339.8 L543.5,339.7 L544.5,339.7 L545.5,339.6 L546.5,339.5 L547.5,339.5 L548.5,339.4 L549.5,339.4 L550.5,339.3 L551.5,339.2 L552.5,339.2 L553.5,339.1 L554.5,339.1 L555.5,339 L556.5,338.9 L557.5,338.9 L558.5,338.8 L559.5,338.6 L560.5,338.1 L561.5,337.6 L562.5,337.1 L563.5,336.6 L564.5,336.1 L565.5,335.7 L566.5,335.2 L567.5,334.8 L568.5,334.9 L569.5,334.9 L570.5,334.9 L571.5,335 L572.5,335 L573.5,335.1 L574.5,335.1 L575.5,335.2 L576.5,335.2 L577.5,335.3 L578.5,335.3 L579.5,335.4 L580.5,335.4 L581.5,335.5 L582.5,335.5 L583.5,335.5 L584.5,335.6 L585.5,335.6 L586.5,335.7 L587.5,335.7 L588.5,335.8 L589.5,335.8 L590.5,335.9 L591.5,335.9 L592.5,336 L593.5,336 L594.5,336.1 L595.5,336.1 L596.5,336.1 L597.5,336.2 L598.5,336.2 L599.5,336.3 L600.5,336.3 L601.5,336.4 L602.5,336.4 L603.5,336.5 L604.5,336.5 L605.5,336.6 L606.5,336.6 L607.5,336.7 L608.5,336.7 L609.5,336.7 L610.5,336.8 L611.5,336.8 L612.5,336.9 L613.5,336.9 L614.5,337 L615.5,337 L616.5,337 L617.5,337.1 L618.5,337.1 L619.5,337.1 L620.5,337.1 L621.5,337.2 L622.5,337.2 L623.5,337.2 L624.5,337.2 L625.5,337.3 L626.5,337.3 L627.5,337.3 L628.5,337.4 L629.5,337.4 L630.5,337.4 L631.5,337.4 L632.5,337.5 L633.5,337.5 L634.5,337.5 L635.5,337.5 L636.5,337.6 L637.5,337.6 L638.5,337.6 L639.5,337.6 L640.5,337.7 L641.5,337.7 L642.5,337.7 L643.5,337.8 L644.5,337.8 L645.5,337.8 L646.5,337.8 L647.5,337.9 L648.5,337.9 L649.5,337.8 L650.5,337.5 L651.5,337.2 L652.5,336.9 L653.5,336.6 L654.5,336.3 L655.5,336 L656.5,335.6 L657.5,335.3 L658.5,335 L659.5,334.7 L660.5,334.4 L661.5,334.2 L662.5,334.1 L663.5,334 L664.5,334 L665.5,333.9 L666.5,333.8 L667.5,333.7 L668.5,333.7 L669.5,333.6 L670.5,333.5 L671.5,333.5 L672.5,333.4 L673.5,333.3 L674.5,333.2 L675.5,333.2 L676.5,333.1 L677.5,333 L678.5,333 L679.5,332.9 L680.5,332.8 L681.5,332.7 L682.5,332.7 L683.5,332.6 L684.5,332.5 L685.5,332.4 L686.5,332.4 L687.5,332.3 L688.5,332.2 L689.5,332.2 L690.5,332.1 L691.5,332 L692.5,331.9 L693.5,331.9 L694.5,331.8 L695.5,331.7 L696.5,331.6 L697.5,331.5 L698.5,331.4 L699.5,331.3 L700.5,331.2 L701.5,331.1 L702.5,331 L703.5,330.9 L704.5,330.8 L705.5,330.7 L706.5,330.6 L707.5,330.5 L708.5,330.5 L709.5,330.4 L710.5,330.4 L711.5,330.4 L712.5,330.4 L713.5,330.3 L714.5,330.3 L715.5,330.3 L716.5,330.3 L717.5,330.2 L718.5,330.2 L719.5,330.1 L720.5,329.9 L721.5,329.7 L722.5,329.5 L723.5,329.3 L724.5,329.1 L725.5,328.9 L726.5,328.7 L727.5,328.5 L728.5,328.3 L729.5,328.1 L730.5,328.3 L731.5,328.6 L732.5,328.9 L733.5,329.1 L734.5,329.4 L735.5,329.4 L736.5,329.2 L737.5,329.1 L738.5,328.9 L739.5,328.9 L740.5,329.1 L741.5,329.4 L742.5,329.6 L743.5,329.8 L744.5,330.1 L745.5,330.3 L746.5,330.5 L747.5,330.8 L748.5,331 L749.5,331.2 L750.5,331.5 L751.5,331.7 L752.5,331.9 L753.5,332.2 L754.5,333.7 L755.5,334.9 L755.5,377.8 L754.5,376.4 L753.5,374.5 L752.5,374.2 L751.5,374 L750.5,373.8 L749.5,373.6 L748.5,373.4 L747.5,373.2 L746.5,373 L745.5,372.8 L744.5,372.5 L743.5,372.4 L742.5,372.4 L741.5,372.3 L740.5,372.2 L739.5,372.1 L738.5,372 L737.5,372 L736.5,371.9 L735.5,371.8 L734.5,371.8 L733.5,371.8 L732.5,371.8 L731.5,371.8 L730.5,371.8 L729.5,371.8 L728.5,371.8 L727.5,371.8 L726.5,371.8 L725.5,371.8 L724.5,371.8 L723.5,371.8 L722.5,371.9 L721.5,372.2 L720.5,372.5 L719.5,372.9 L718.5,373.1 L717.5,373.1 L716.5,373.1 L715.5,373.2 L714.5,373.2 L713.5,373.2 L712.5,373.2 L711.5,373.2 L710.5,373.2 L709.5,373.2 L708.5,373.3 L707.5,373.3 L706.5,373.3 L705.5,373.3 L704.5,373.3 L703.5,373.3 L702.5,373.4 L701.5,373.4 L700.5,373.4 L699.5,373.6 L698.5,374.1 L697.5,374.5 L696.5,374.9 L695.5,375.4 L694.5,375.8 L693.5,375.8 L692.5,375.9 L691.5,375.9 L690.5,375.9 L689.5,375.9 L688.5,376 L687.5,376 L686.5,376 L685.5,376 L684.5,376.1 L683.5,376.1 L682.5,376.1 L681.5,376.2 L680.5,376.2 L679.5,376.2 L678.5,376.2 L677.5,376.3 L676.5,376.3 L675.5,376.3 L674.5,376.3 L673.5,376.4 L672.5,376.4 L671.5,376.4 L670.5,376.4 L669.5,376.5 L668.5,376.5 L667.5,376.5 L666.5,376.6 L665.5,376.6 L664.5,376.6 L663.5,376.6 L662.5,376.7 L661.5,376.7 L660.5,377 L659.5,377.3 L658.5,377.7 L657.5,378 L656.5,378.4 L655.5,378.7 L654.5,379.1 L653.5,379.5 L652.5,379.8 L651.5,380.2 L650.5,380.5 L649.5,380.9 L648.5,381 L647.5,381 L646.5,380.9 L645.5,380.9 L644.5,380.9 L643.5,380.8 L642.5,380.8 L641.5,380.8 L640.5,380.7 L639.5,380.7 L638.5,380.7 L637.5,380.7 L636.5,380.6 L635.5,380.6 L634.5,380.6 L633.5,380.5 L632.5,380.5 L631.5,380.5 L630.5,380.5 L629.5,380.4 L628.5,380.4 L627.5,380.4 L626.5,380.3 L625.5,380.3 L624.5,380.3 L623.5,380.2 L622.5,380.2 L621.5,380.2 L620.5,380.2 L619.5,380.1 L618.5,380.1 L617.5,380.1 L616.5,380 L615.5,380 L614.5,380 L613.5,380 L612.5,379.9 L611.5,379.9 L610.5,379.9 L609.5,379.8 L608.5,379.8 L607.5,379.8 L606.5,379.7 L605.5,379.7 L604.5,379.7 L603.5,379.7 L602.5,379.6 L601.5,379.6 L600.5,379.6 L599.5,379.5 L598.5,379.5 L597.5,379.5 L596.5,379.5 L595.5,379.4 L594.5,379.4 L593.5,379.4 L592.5,379.3 L591.5,379.3 L590.5,379.3 L589.5,379.2 L588.5,379.2 L587.5,379.2 L586.5,379.2 L585.5,379.1 L584.5,379.1 L583.5,379.1 L582.5,379 L581.5,379 L580.5,379 L579.5,379 L578.5,378.9 L577.5,378.9 L576.5,378.9 L575.5,378.8 L574.5,378.8 L573.5,378.8 L572.5,378.8 L571.5,378.7 L570.5,378.7 L569.5,378.7 L568.5,378.6 L567.5,378.6 L566.5,379 L565.5,379.4 L564.5,379.8 L563.5,380.3 L562.5,380.7 L561.5,381.2 L560.5,381.6 L559.5,382.1 L558.5,382.4 L557.5,382.5 L556.5,382.6 L555.5,382.7 L554.5,382.8 L553.5,382.9 L552.5,383 L551.5,383.2 L550.5,383.3 L549.5,383.4 L548.5,383.5 L547.5,383.6 L546.5,383.7 L545.5,383.8 L544.5,384 L543.5,384.1 L542.5,384.2 L541.5,384.3 L540.5,384.4 L539.5,384.5 L538.5,384.6 L537.5,384.8 L536.5,384.9 L535.5,385 L534.5,385.1 L533.5,385.2 L532.5,385.3 L531.5,385.4 L530.5,385.6 L529.5,385.7 L528.5,385.8 L527.5,385.9 L526.5,386 L525.5,385.9 L524.5,385.8 L523.5,385.6 L522.5,385.5 L521.5,385.4 L520.5,385.3 L519.5,385.2 L518.5,385.1 L517.5,385 L516.5,384.8 L515.5,384.7 L514.5,384.6 L513.5,384.5 L512.5,384.4 L511.5,384.3 L510.5,384.2 L509.5,384.2 L508.5,384.3 L507.5,384.4 L506.5,384.5 L505.5,384.6 L504.5,384.8 L503.5,384.9 L502.5,385 L501.5,385.1 L500.5,385.3 L499.5,385.4 L498.5,385.8 L497.5,386.4 L496.5,386.9 L495.5,387.4 L494.5,388 L493.5,388.4 L492.5,388.4 L491.5,388.4 L490.5,388.4 L489.5,388.3 L488.5,388.3 L487.5,388.3 L486.5,388.3 L485.5,388.3 L484.5,388.3 L483.5,388.3 L482.5,388.3 L481.5,388.2 L480.5,388.2 L479.5,388.2 L478.5,388.2 L477.5,388.2 L476.5,388.2 L475.5,388.2 L474.5,388.2 L473.5,388.1 L472.5,388.1 L471.5,388.1 L470.5,388.1 L469.5,388.1 L468.5,388.1 L467.5,388.1 L466.5,388.1 L465.5,388 L464.5,388 L463.5,388 L462.5,388 L461.5,388 L460.5,388 L459.5,388 L458.5,388 L457.5,387.9 L456.5,387.9 L455.5,387.9 L454.5,387.9 L453.5,387.9 L452.5,387.9 L451.5,387.9 L450.5,387.9 L449.5,387.8 L448.5,387.8 L447.5,387.8 L446.5,387.8 L445.5,387.9 L444.5,388.1 L443.5,388.4 L442.5,388.6 L441.5,388.9 L440.5,389.1 L439.5,389.4 L438.5,389.6 L437.5,389.7 L436.5,389.8 L435.5,389.9 L434.5,389.9 L433.5,390 L432.5,390 L431.5,390.1 L430.5,390.2 L429.5,390.2 L428.5,390.3 L427.5,390.3 L426.5,390.4 L425.5,390.4 L424.5,390.5 L423.5,390.6 L422.5,390.6 L421.5,390.7 L420.5,390.7 L419.5,390.8 L418.5,390.9 L417.5,390.9 L416.5,391 L415.5,391.2 L414.5,391.6 L413.5,392 L412.5,392.4 L411.5,392.8 L410.5,393.2 L409.5,393.5 L408.5,393.7 L407.5,393.8 L406.5,394 L405.5,394.2 L404.5,394.3 L403.5,394.5 L402.5,394.7 L401.5,394.8 L400.5,395 L399.5,395.2 L398.5,395.3 L397.5,395.5 L396.5,395.7 L395.5,395.9 L394.5,396 L393.5,396.2 L392.5,396.4 L391.5,396.5 L390.5,396.7 L389.5,396.9 L388.5,396.9 L387.5,396.4 L386.5,395.9 L385.5,395.4 L384.5,394.9 L383.5,394.4 L382.5,394.3 L381.5,394.4 L380.5,394.4 L379.5,394.5 L378.5,394.5 L377.5,394.5 L376.5,394.6 L375.5,394.6 L374.5,394.7 L373.5,394.7 L372.5,394.7 L371.5,394.8 L370.5,394.8 L369.5,394.9 L368.5,394.9 L367.5,394.9 L366.5,395 L365.5,395 L364.5,395.1 L363.5,395.1 L362.5,395.1 L361.5,395.2 L360.5,395.2 L359.5,395.3 L358.5,395.3 L357.5,395.4 L356.5,395.4 L355.5,395.4 L354.5,395.5 L353.5,395.5 L352.5,395.6 L351.5,395.6 L350.5,395.6 L349.5,395.7 L348.5,395.7 L347.5,395.8 L346.5,395.8 L345.5,395.8 L344.5,395.9 L343.5,395.9 L342.5,396 L341.5,396 L340.5,396.1 L339.5,396.1 L338.5,396.1 L337.5,396.2 L336.5,396.2 L335.5,396.3 L334.5,396.3 L333.5,396.3 L332.5,396.4 L331.5,396.4 L330.5,396.5 L329.5,396.5 L328.5,396.7 L327.5,396.9 L326.5,397.1 L325.5,397.3 L324.5,397.5 L323.5,397.7 L322.5,397.9 L321.5,397.8 L320.5,397.5 L319.5,397.3 L318.5,397 L317.5,396.8 L316.5,396.5 L315.5,396.2 L314.5,396 L313.5,395.7 L312.5,395.4 L311.5,395.2 L310.5,394.9 L309.5,394.6 L308.5,394.4 L307.5,394.1 L306.5,393.8 L305.5,393.6 L304.5,393.3 L303.5,393 L302.5,392.8 L301.5,392.5 L300.5,392.2 L299.5,392 L298.5,391.8 L297.5,391.6 L296.5,391.4 L295.5,391.1 L294.5,391.1 L293.5,391.3 L292.5,391.6 L291.5,391.8 L290.5,392.1 L289.5,392.4 L288.5,392.6 L287.5,392.9 L286.5,393.1 L285.5,393.4 L284.5,393.6 L283.5,393.9 L282.5,394.1 L281.5,394.4 L280.5,394.7 L279.5,394.9 L278.5,395.2 L277.5,395.4 L276.5,395.7 L275.5,395.9 L274.5,396.2 L273.5,396.4 L272.5,396.7 L271.5,397 L270.5,397.2 L269.5,397.5 L268.5,397.6 L267.5,397.6 L266.5,397.6 L265.5,397.6 L264.5,397.6 L263.5,397.6 L262.5,397.5 L261.5,397.5 L260.5,397.5 L259.5,397.5 L258.5,397.5 L257.5,397.5 L256.5,397.5 L255.5,397.5 L254.5,397.5 L253.5,397.5 L252.5,397.5 L251.5,397.5 L250.5,397.4 L249.5,397.4 L248.5,397.4 L247.5,397.4 L246.5,397.4 L245.5,397.4 L244.5,397.4 L243.5,397.4 L242.5,397.4 L241.5,397.4 L240.5,397.4 L239.5,397.4 L238.5,397.3 L237.5,397.3 L236.5,397.3 L235.5,397.3 L234.5,397.3 L233.5,397.3 L232.5,397.3 L231.5,397.3 L230.5,397.3 L229.5,397.3 L228.5,397.3 L227.5,397.3 L226.5,397.2 L225.5,397.2 L224.5,397.2 L223.5,397.2 L222.5,397.2 L221.5,397.2 L220.5,397.2 L219.5,397.2 L218.5,397.2 L217.5,397.2 L216.5,397.2 L215.5,397.2 L214.5,397.1 L213.5,397.1 L212.5,397.1 L211.5,397.1 L210.5,397.1 L209.5,397.1 L208.5,397.1 L207.5,397.1 L206.5,397.1 L205.5,397.1 L204.5,397.1 L203.5,397.1 L202.5,397 L201.5,397 L200.5,397 L199.5,397 L198.5,397 L197.5,397 L196.5,397 L195.5,396.9 L194.5,396.9 L193.5,396.9 L192.5,396.8 L191.5,396.8 L190.5,396.8 L189.5,396.7 L188.5,396.7 L187.5,396.6 L186.5,396.6 L185.5,396.6 L184.5,396.5 L183.5,396.5 L182.5,396.8 L181.5,397.1 L180.5,397.4 L179.5,397.6 L178.5,397.7 L177.5,397.8 L176.5,397.9 L175.5,398 L174.5,398.1 L173.5,398.2 L172.5,398.3 L171.5,398.4 L170.5,398.5 L169.5,398.6 L168.5,398.7 L167.5,398.8 L166.5,398.3 L165.5,397.4 L164.5,396.5 L163.5,395.6 L162.5,394.6 L161.5,393.7 L160.5,392.8 L159.5,391.8 L158.5,391.2 L157.5,391 L156.5,390.9 L155.5,390.7 L154.5,390.6 L153.5,390.4 L152.5,390.3 L151.5,390.1 L150.5,390 L149.5,389.6 L148.5,389.2 L147.5,388.7 L146.5,388.3 L145.5,387.9 L144.5,387.5 L143.5,387.1 L142.5,386.6 L141.5,386.2 L140.5,385.8 L139.5,385.4 L138.5,384.9 L137.5,384.5 L136.5,384.1 L135.5,383.7 L134.5,383.3 L133.5,382.8 L132.5,382.4 L131.5,382 L130.5,381.6 L129.5,381.2Z" fill="rgb(175,12,25)" fill-opacity="0.25"/>
<path d="M129.5,320.2 L130.5,320 L131.5,319.7 L132.5,319.4 L133.5,319.1 L134.5,318.8 L135.5,318.5 L136.5,318.2 L137.5,318 L138.5,317.7 L139.5,317.4 L140.5,317.1 L141.5,316.8 L142.5,316.5 L143.5,316.2 L144.5,315.9 L145.5,315.7 L146.5,315.4 L147.5,315.1 L148.5,314.8 L149.5,314.5 L150.5,314.3 L151.5,314.1 L152.5,314 L153.5,313.8 L154.5,313.7 L155.5,313.5 L156.5,313.4 L157.5,313.2 L158.5,313.1 L159.5,312.9 L160.5,312.8 L161.5,312.6 L162.5,312.5 L163.5,312.3 L164.5,312.2 L165.5,312 L166.5,311.9 L167.5,311.9 L168.5,312 L169.5,312.1 L170.5,312.2 L171.5,312.4 L172.5,312.5 L173.5,312.6 L174.5,312.7 L175.5,312.9 L176.5,313 L177.5,313.1 L178.5,313.2 L179.5,313.4 L180.5,313.5 L181.5,314.3 L182.5,315.1 L183.5,315.5 L184.5,315.5 L185.5,315.5 L186.5,315.6 L187.5,315.6 L188.5,315.6 L189.5,315.6 L190.5,315.6 L191.5,315.6 L192.5,315.7 L193.5,315.7 L194.5,315.7 L195.5,315.7 L196.5,315.7 L197.5,315.8 L198.5,315.8 L199.5,315.8 L200.5,315.8 L201.5,315.9 L202.5,315.9 L203.5,315.9 L204.5,315.9 L205.5,316 L206.5,316 L207.5,316 L208.5,316 L209.5,316.1 L210.5,316.1 L211.5,316.1 L212.5,316.1 L213.5,316.2 L214.5,316.2 L215.5,316.2 L216.5,316.3 L217.5,316.3 L218.5,316.3 L219.5,316.3 L220.5,316.4 L221.5,316.4 L222.5,316.4 L223.5,316.4 L224.5,316.5 L225.5,316.5 L226.5,316.5 L227.5,316.5 L228.5,316.6 L229.5,316.6 L230.5,316.6 L231.5,316.6 L232.5,316.7 L233.5,316.7 L234.5,316.7 L235.5,316.7 L236.5,316.8 L237.5,316.8 L238.5,316.8 L239.5,316.8 L240.5,316.9 L241.5,316.9 L242.5,316.9 L243.5,316.9 L244.5,317 L245.5,317 L246.5,317 L247.5,317 L248.5,317.1 L249.5,317.1 L250.5,317.1 L251.5,317.2 L252.5,317.2 L253.5,317.2 L254.5,317.2 L255.5,317.3 L256.5,317.3 L257.5,317.3 L258.5,317.3 L259.5,317.4 L260.5,317.4 L261.5,317.4 L262.5,317.4 L263.5,317.5 L264.5,317.5 L265.5,317.5 L266.5,317.5 L267.5,317.6 L268.5,317.6 L269.5,317.7 L270.5,318 L271.5,318.3 L272.5,318.6 L273.5,318.9 L274.5,319.2 L275.5,319.5 L276.5,319.8 L277.5,320.1 L278.5,320.4 L279.5,320.7 L280.5,321 L281.5,321.3 L282.5,321.6 L283.5,321.9 L284.5,322.2 L285.5,322.5 L286.5,322.8 L287.5,323.1 L288.5,323.4 L289.5,323.7 L290.5,324 L291.5,324.3 L292.5,324.6 L293.5,324.9 L294.5,325.2 L295.5,325.5 L296.5,325.8 L297.5,325.9 L298.5,325.9 L299.5,325.9 L300.5,325.8 L301.5,325.6 L302.5,325.4 L303.5,325.2 L304.5,325 L305.5,324.8 L306.5,324.6 L307.5,324.3 L308.5,324.1 L309.5,323.9 L310.5,323.7 L311.5,323.5 L312.5,323.3 L313.5,323.1 L314.5,322.9 L315.5,322.7 L316.5,322.5 L317.5,322.3 L318.5,322.1 L319.5,321.9 L320.5,321.7 L321.5,321.4 L322.5,321.3 L323.5,321.5 L324.5,321.6 L325.5,321.7 L326.5,321.8 L327.5,321.9 L328.5,322.1 L329.5,322.2 L330.5,321.7 L331.5,321.2 L332.5,320.6 L333.5,320.1 L334.5,319.5 L335.5,319 L336.5,318.4 L337.5,317.9 L338.5,317.4 L339.5,317.4 L340.5,317.6 L341.5,317.9 L342.5,318.1 L343.5,318.4 L344.5,318.6 L345.5,318.8 L346.5,319.1 L347.5,319.3 L348.5,319.6 L349.5,319.8 L350.5,320.1 L351.5,320.3 L352.5,320.6 L353.5,320.8 L354.5,321.1 L355.5,321.3 L356.5,321.3 L357.5,321.4 L358.5,321.4 L359.5,321.4 L360.5,321.5 L361.5,321.5 L362.5,321.6 L363.5,321.6 L364.5,321.6 L365.5,321.7 L366.5,321.7 L367.5,321.7 L368.5,321.8 L369.5,321.8 L370.5,321.8 L371.5,321.9 L372.5,321.9 L373.5,322 L374.5,322 L375.5,322 L376.5,322.1 L377.5,322.1 L378.5,322.1 L379.5,322.2 L380.5,322.2 L381.5,322.2 L382.5,322.3 L383.5,322.3 L384.5,322.4 L385.5,322.4 L386.5,322.4 L387.5,322.5 L388.5,322.5 L389.5,322.5 L390.5,322.6 L391.5,322.6 L392.5,322.6 L393.5,322.7 L394.5,322.7 L395.5,322.8 L396.5,322.8 L397.5,322.8 L398.5,322.9 L399.5,322.9 L400.5,322.9 L401.5,323 L402.5,323 L403.5,323 L404.5,323.1 L405.5,323.1 L406.5,323.2 L407.5,323.3 L408.5,323.4 L409.5,323.5 L410.5,323.6 L411.5,323.7 L412.5,323.8 L413.5,323.9 L414.5,324 L415.5,324.1 L416.5,324.2 L417.5,324.3 L418.5,324.4 L419.5,324.5 L420.5,324.6 L421.5,324.7 L422.5,324.8 L423.5,324.9 L424.5,325 L425.5,325.1 L426.5,325.2 L427.5,325.2 L428.5,325.3 L429.5,325.4 L430.5,325.5 L431.5,325.6 L432.5,325.7 L433.5,325.8 L434.5,325.9 L435.5,326 L436.5,326.1 L437.5,326.2 L438.5,326.3 L439.5,326.4 L440.5,326.5 L441.5,326.6 L442.5,326.7 L443.5,326.8 L444.5,326.7 L445.5,326.4 L446.5,326.2 L447.5,326 L448.5,325.8 L449.5,325.6 L450.5,325.4 L451.5,325.2 L452.5,325 L453.5,324.8 L454.5,324.6 L455.5,324.4 L456.5,324.2 L457.5,324 L458.5,323.8 L459.5,323.6 L460.5,323.4 L461.5,323.2 L462.5,322.9 L463.5,322.7 L464.5,322.5 L465.5,322.3 L466.5,322.1 L467.5,321.9 L468.5,321.7 L469.5,321.5 L470.5,321.3 L471.5,321.1 L472.5,320.9 L473.5,320.7 L474.5,321 L475.5,321.3 L476.5,321.6 L477.5,321.9 L478.5,322.2 L479.5,322.5 L480.5,322.8 L481.5,323.1 L482.5,323.4 L483.5,323.6 L484.5,323.9 L485.5,324.2 L486.5,324.5 L487.5,324.8 L488.5,325.1 L489.5,325.4 L490.5,325.7 L491.5,326 L492.5,326.3 L493.5,326.6 L494.5,326.9 L495.5,327.1 L496.5,327.4 L497.5,327.7 L498.5,327.6 L499.5,327.5 L500.5,327.4 L501.5,327.2 L502.5,327.1 L503.5,327 L504.5,326.9 L505.5,326.8 L506.5,326.7 L507.5,326.6 L508.5,326.5 L509.5,326.4 L510.5,326.3 L511.5,326.3 L512.5,326.4 L513.5,326.4 L514.5,326.4 L515.5,326.4 L516.5,326.4 L517.5,326.5 L518.5,326.5 L519.5,326.5 L520.5,326.5 L521.5,326.6 L522.5,326.6 L523.5,326.6 L524.5,326.6 L525.5,326.6 L526.5,326.7 L527.5,326.7 L528.5,326.7 L529.5,326.7 L530.5,326.8 L531.5,326.8 L532.5,326.8 L533.5,326.8 L534.5,326.9 L535.5,326.9 L536.5,326.9 L537.5,326.9 L538.5,326.9 L539.5,327 L540.5,327 L541.5,327 L542.5,327 L543.5,327.1 L544.5,327.1 L545.5,327.1 L546.5,327.1 L547.5,327.1 L548.5,327.2 L549.5,327.2 L550.5,327.2 L551.5,327.2 L552.5,327.3 L553.5,327.3 L554.5,327.3 L555.5,327.3 L556.5,327.3 L557.5,327.4 L558.5,327.4 L559.5,327.5 L560.5,327.8 L561.5,328.1 L562.5,328.3 L563.5,328.6 L564.5,328.9 L565.5,329.1 L566.5,329.4 L567.5,329.6 L568.5,329.7 L569.5,329.7 L570.5,329.8 L571.5,329.9 L572.5,329.9 L573.5,330 L574.5,330.1 L575.5,330.1 L576.5,330.2 L577.5,330.2 L578.5,330.3 L579.5,330.4 L580.5,330.4 L581.5,330.5 L582.5,330.6 L583.5,330.6 L584.5,330.7 L585.5,330.7 L586.5,330.8 L587.5,330.9 L588.5,330.9 L589.5,331 L590.5,331.1 L591.5,331.1 L592.5,331 L593.5,331 L594.5,330.9 L595.5,330.8 L596.5,330.8 L597.5,330.7 L598.5,330.6 L599.5,330.6 L600.5,330.5 L601.5,330.5 L602.5,330.4 L603.5,330.3 L604.5,330.3 L605.5,330.2 L606.5,330.1 L607.5,330.1 L608.5,330 L609.5,329.9 L610.5,329.9 L611.5,329.8 L612.5,329.8 L613.5,329.7 L614.5,329.6 L615.5,329.6 L616.5,329.6 L617.5,329.6 L618.5,329.6 L619.5,329.6 L620.5,329.6 L621.5,329.6 L622.5,329.6 L623.5,329.6 L624.5,329.6 L625.5,329.6 L626.5,329.6 L627.5,329.6 L628.5,329.6 L629.5,329.6 L630.5,329.6 L631.5,329.6 L632.5,329.6 L633.5,329.6 L634.5,329.6 L635.5,329.6 L636.5,329.6 L637.5,329.5 L638.5,329.4 L639.5,329.2 L640.5,329 L641.5,328.8 L642.5,328.6 L643.5,328.4 L644.5,328.3 L645.5,328.1 L646.5,327.9 L647.5,327.7 L648.5,327.5 L649.5,327.4 L650.5,327.6 L651.5,327.7 L652.5,327.8 L653.5,327.9 L654.5,328.1 L655.5,328.2 L656.5,328.3 L657.5,328.4 L658.5,328.6 L659.5,328.7 L660.5,328.8 L661.5,328.9 L662.5,329 L663.5,329.2 L664.5,329.3 L665.5,329.4 L666.5,329.5 L667.5,329.7 L668.5,329.8 L669.5,329.9 L670.5,330 L671.5,330.2 L672.5,330.3 L673.5,330.4 L674.5,330.5 L675.5,330.5 L676.5,330.4 L677.5,330.4 L678.5,330.4 L679.5,330.4 L680.5,330.4 L681.5,330.3 L682.5,330.3 L683.5,330.3 L684.5,330.3 L685.5,330.2 L686.5,330.2 L687.5,330.2 L688.5,330.2 L689.5,330.1 L690.5,330.1 L691.5,330.1 L692.5,330.1 L693.5,330.1 L694.5,330 L695.5,330 L696.5,330 L697.5,330 L698.5,329.9 L699.5,329.9 L700.5,329.9 L701.5,329.8 L702.5,329.7 L703.5,329.6 L704.5,329.5 L705.5,329.4 L706.5,329.3 L707.5,329.2 L708.5,329.3 L709.5,329.4 L710.5,329.5 L711.5,329.6 L712.5,329.6 L713.5,329.7 L714.5,329.8 L715.5,329.9 L716.5,330 L717.5,330.1 L718.5,330.2 L719.5,329.6 L720.5,328.9 L721.5,328.1 L722.5,327.4 L723.5,327.1 L724.5,326.8 L725.5,326.5 L726.5,326.2 L727.5,325.9 L728.5,325.6 L729.5,325.3 L730.5,325 L731.5,324.7 L732.5,324.4 L733.5,324.1 L734.5,323.8 L735.5,323.8 L736.5,323.9 L737.5,324 L738.5,324.1 L739.5,324.2 L740.5,324.3 L741.5,324.4 L742.5,324.5 L743.5,324.6 L744.5,324.9 L745.5,325.1 L746.5,325.4 L747.5,325.6 L748.5,325.8 L749.5,326.1 L750.5,326.3 L751.5,326.6 L752.5,326.7 L753.5,326.1 L754.5,325.4 L755.5,325 L755.5,369.1 L754.5,369.4 L753.5,369.8 L752.5,369.6 L751.5,369.5 L750.5,369.3 L749.5,369.2 L748.5,369 L747.5,368.9 L746.5,368.7 L745.5,368.6 L744.5,368.4 L743.5,368.3 L742.5,368.2 L741.5,368.1 L740.5,368 L739.5,367.9 L738.5,367.8 L737.5,367.7 L736.5,367.6 L735.5,367.5 L734.5,368 L733.5,368.4 L732.5,368.8 L731.5,369.2 L730.5,369.6 L729.5,370 L728.5,370.4 L727.5,370.9 L726.5,371.1 L725.5,371.3 L724.5,371.4 L723.5,371.5 L722.5,371.6 L721.5,371.8 L720.5,371.9 L719.5,372 L718.5,372.1 L717.5,372.1 L716.5,372.1 L715.5,372.2 L714.5,372.2 L713.5,372.2 L712.5,372.2 L711.5,372.3 L710.5,372.3 L709.5,372.3 L708.5,372.3 L707.5,372.3 L706.5,372.4 L705.5,372.4 L704.5,372.4 L703.5,372.4 L702.5,372.4 L701.5,372.5 L700.5,372.5 L699.5,372.5 L698.5,372.6 L697.5,372.6 L696.5,372.6 L695.5,372.7 L694.5,372.7 L693.5,372.8 L692.5,372.8 L691.5,372.9 L690.5,372.9 L689.5,372.9 L688.5,373 L687.5,373 L686.5,373.1 L685.5,373.1 L684.5,373.2 L683.5,373.2 L682.5,373.2 L681.5,373.3 L680.5,373.3 L679.5,373.4 L678.5,373.4 L677.5,373.5 L676.5,373.5 L675.5,373.5 L674.5,373.6 L673.5,373.5 L672.5,373.4 L671.5,373.3 L670.5,373.2 L669.5,373.1 L668.5,373.1 L667.5,373 L666.5,372.9 L665.5,372.8 L664.5,372.7 L663.5,372.6 L662.5,372.5 L661.5,372.4 L660.5,372.3 L659.5,372.2 L658.5,372.1 L657.5,372 L656.5,371.9 L655.5,371.8 L654.5,371.7 L653.5,371.6 L652.5,371.5 L651.5,371.4 L650.5,371.3 L649.5,371.2 L648.5,371.3 L647.5,371.4 L646.5,371.5 L645.5,371.6 L644.5,371.7 L643.5,371.8 L642.5,371.9 L641.5,372 L640.5,372.1 L639.5,372.3 L638.5,372.4 L637.5,372.5 L636.5,372.5 L635.5,372.5 L634.5,372.6 L633.5,372.6 L632.5,372.6 L631.5,372.6 L630.5,372.7 L629.5,372.7 L628.5,372.7 L627.5,372.7 L626.5,372.7 L625.5,372.8 L624.5,372.8 L623.5,372.8 L622.5,372.8 L621.5,372.9 L620.5,372.9 L619.5,372.9 L618.5,372.9 L617.5,372.9 L616.5,373 L615.5,373 L614.5,373 L613.5,373 L612.5,373 L611.5,373 L610.5,373 L609.5,373 L608.5,373 L607.5,373 L606.5,373 L605.5,373 L604.5,373 L603.5,373 L602.5,373 L601.5,373 L600.5,373 L599.5,373 L598.5,373 L597.5,373 L596.5,373 L595.5,373 L594.5,373 L593.5,373 L592.5,373 L591.5,373 L590.5,373 L589.5,373 L588.5,373 L587.5,373 L586.5,373 L585.5,373 L584.5,373 L583.5,373 L582.5,373 L581.5,373 L580.5,373 L579.5,373 L578.5,373 L577.5,373 L576.5,373 L575.5,373 L574.5,373 L573.5,373 L572.5,373 L571.5,373 L570.5,373 L569.5,373 L568.5,373 L567.5,373 L566.5,372.8 L565.5,372.5 L564.5,372.2 L563.5,371.9 L562.5,371.6 L561.5,371.3 L560.5,371 L559.5,370.7 L558.5,370.6 L557.5,370.6 L556.5,370.6 L555.5,370.6 L554.5,370.5 L553.5,370.5 L552.5,370.5 L551.5,370.5 L550.5,370.5 L549.5,370.5 L548.5,370.4 L547.5,370.4 L546.5,370.4 L545.5,370.4 L544.5,370.4 L543.5,370.4 L542.5,370.4 L541.5,370.4 L540.5,370.3 L539.5,370.3 L538.5,370.3 L537.5,370.3 L536.5,370.3 L535.5,370.3 L534.5,370.2 L533.5,370.2 L532.5,370.2 L531.5,370.2 L530.5,370.2 L529.5,370.2 L528.5,370.2 L527.5,370.1 L526.5,370.1 L525.5,370.1 L524.5,370.1 L523.5,370.1 L522.5,370.1 L521.5,370.1 L520.5,370.1 L519.5,370 L518.5,370 L517.5,370 L516.5,370 L515.5,370 L514.5,370 L513.5,369.9 L512.5,369.9 L511.5,369.9 L510.5,369.9 L509.5,370 L508.5,370.1 L507.5,370.2 L506.5,370.3 L505.5,370.4 L504.5,370.5 L503.5,370.6 L502.5,370.7 L501.5,370.8 L500.5,370.9 L499.5,371 L498.5,371.1 L497.5,371.2 L496.5,371 L495.5,370.8 L494.5,370.6 L493.5,370.5 L492.5,370.3 L491.5,370.1 L490.5,369.9 L489.5,369.7 L488.5,369.5 L487.5,369.3 L486.5,369.1 L485.5,368.9 L484.5,368.7 L483.5,368.5 L482.5,368.3 L481.5,368.2 L480.5,368 L479.5,367.8 L478.5,367.6 L477.5,367.4 L476.5,367.2 L475.5,367 L474.5,366.8 L473.5,366.6 L472.5,366.7 L471.5,366.8 L470.5,366.9 L469.5,367 L468.5,367.1 L467.5,367.3 L466.5,367.4 L465.5,367.5 L464.5,367.6 L463.5,367.7 L462.5,367.8 L461.5,367.9 L460.5,368 L459.5,368.1 L458.5,368.3 L457.5,368.4 L456.5,368.5 L455.5,368.6 L454.5,368.7 L453.5,368.8 L452.5,368.9 L451.5,369 L450.5,369.2 L449.5,369.3 L448.5,369.4 L447.5,369.5 L446.5,369.6 L445.5,369.7 L444.5,369.8 L443.5,369.9 L442.5,369.8 L441.5,369.6 L440.5,369.5 L439.5,369.4 L438.5,369.3 L437.5,369.2 L436.5,369.1 L435.5,369 L434.5,368.9 L433.5,368.8 L432.5,368.6 L431.5,368.5 L430.5,368.4 L429.5,368.3 L428.5,368.2 L427.5,368.1 L426.5,368 L425.5,367.9 L424.5,367.8 L423.5,367.7 L422.5,367.5 L421.5,367.4 L420.5,367.3 L419.5,367.2 L418.5,367.1 L417.5,367 L416.5,366.9 L415.5,366.8 L414.5,366.7 L413.5,366.5 L412.5,366.4 L411.5,366.3 L410.5,366.2 L409.5,366.1 L408.5,366 L407.5,365.9 L406.5,365.8 L405.5,365.7 L404.5,365.6 L403.5,365.6 L402.5,365.6 L401.5,365.6 L400.5,365.6 L399.5,365.6 L398.5,365.6 L397.5,365.6 L396.5,365.6 L395.5,365.6 L394.5,365.6 L393.5,365.6 L392.5,365.6 L391.5,365.6 L390.5,365.6 L389.5,365.6 L388.5,365.6 L387.5,365.6 L386.5,365.6 L385.5,365.6 L384.5,365.6 L383.5,365.6 L382.5,365.6 L381.5,365.5 L380.5,365.5 L379.5,365.5 L378.5,365.4 L377.5,365.4 L376.5,365.4 L375.5,365.3 L374.5,365.3 L373.5,365.3 L372.5,365.3 L371.5,365.2 L370.5,365.2 L369.5,365.2 L368.5,365.1 L367.5,365.1 L366.5,365.1 L365.5,365 L364.5,365 L363.5,365 L362.5,364.9 L361.5,364.9 L360.5,364.9 L359.5,364.8 L358.5,364.8 L357.5,364.8 L356.5,364.7 L355.5,364.7 L354.5,364.5 L353.5,364.2 L352.5,364 L351.5,363.7 L350.5,363.5 L349.5,363.2 L348.5,363 L347.5,362.7 L346.5,362.5 L345.5,362.2 L344.5,362 L343.5,361.8 L342.5,361.5 L341.5,361.3 L340.5,361 L339.5,360.8 L338.5,360.8 L337.5,361.3 L336.5,361.9 L335.5,362.4 L334.5,362.9 L333.5,363.5 L332.5,364 L331.5,364.6 L330.5,365.1 L329.5,365.6 L328.5,365.5 L327.5,365.3 L326.5,365.2 L325.5,365.1 L324.5,365 L323.5,364.9 L322.5,364.7 L321.5,364.8 L320.5,365.1 L319.5,365.3 L318.5,365.5 L317.5,365.7 L316.5,365.9 L315.5,366.1 L314.5,366.3 L313.5,366.5 L312.5,366.7 L311.5,366.9 L310.5,367.1 L309.5,367.3 L308.5,367.5 L307.5,367.7 L306.5,368 L305.5,368.2 L304.5,368.4 L303.5,368.6 L302.5,368.8 L301.5,369 L300.5,369.2 L299.5,369.3 L298.5,369.3 L297.5,369.3 L296.5,369.2 L295.5,369 L294.5,368.7 L293.5,368.4 L292.5,368.1 L291.5,367.8 L290.5,367.5 L289.5,367.3 L288.5,367 L287.5,366.7 L286.5,366.4 L285.5,366.1 L284.5,365.8 L283.5,365.5 L282.5,365.2 L281.5,364.9 L280.5,364.6 L279.5,364.3 L278.5,364 L277.5,363.7 L276.5,363.3 L275.5,363 L274.5,362.7 L273.5,362.4 L272.5,362.1 L271.5,361.8 L270.5,361.5 L269.5,361.2 L268.5,361 L267.5,360.9 L266.5,360.8 L265.5,360.8 L264.5,360.7 L263.5,360.7 L262.5,360.6 L261.5,360.5 L260.5,360.5 L259.5,360.4 L258.5,360.3 L257.5,360.3 L256.5,360.2 L255.5,360.2 L254.5,360.1 L253.5,360 L252.5,360 L251.5,359.9 L250.5,359.8 L249.5,359.8 L248.5,359.7 L247.5,359.7 L246.5,359.6 L245.5,359.5 L244.5,359.5 L243.5,359.5 L242.5,359.5 L241.5,359.5 L240.5,359.4 L239.5,359.4 L238.5,359.4 L237.5,359.4 L236.5,359.4 L235.5,359.4 L234.5,359.3 L233.5,359.3 L232.5,359.3 L231.5,359.3 L230.5,359.3 L229.5,359.3 L228.5,359.3 L227.5,359.2 L226.5,359.2 L225.5,359.2 L224.5,359.2 L223.5,359.2 L222.5,359.2 L221.5,359.2 L220.5,359.1 L219.5,359.1 L218.5,359.1 L217.5,359.1 L216.5,359.1 L215.5,359.1 L214.5,359.1 L213.5,359 L212.5,359 L211.5,359 L210.5,359 L209.5,359 L208.5,359 L207.5,359 L206.5,358.9 L205.5,358.9 L204.5,358.9 L203.5,358.9 L202.5,358.9 L201.5,358.9 L200.5,358.9 L199.5,358.8 L198.5,358.8 L197.5,358.8 L196.5,358.8 L195.5,358.7 L194.5,358.7 L193.5,358.7 L192.5,358.6 L191.5,358.6 L190.5,358.5 L189.5,358.5 L188.5,358.5 L187.5,358.4 L186.5,358.4 L185.5,358.3 L184.5,358.3 L183.5,358.2 L182.5,358.2 L181.5,358.1 L180.5,357.9 L179.5,357.8 L178.5,357.7 L177.5,357.5 L176.5,357.4 L175.5,357.3 L174.5,357.1 L173.5,357 L172.5,356.8 L171.5,356.7 L170.5,356.6 L169.5,356.4 L168.5,356.3 L167.5,356.1 L166.5,356 L165.5,355.9 L164.5,356.1 L163.5,356.3 L162.5,356.4 L161.5,356.6 L160.5,356.7 L159.5,356.9 L158.5,357 L157.5,357.2 L156.5,357.3 L155.5,357.5 L154.5,357.6 L153.5,357.8 L152.5,357.9 L151.5,358.1 L150.5,358.2 L149.5,358.3 L148.5,358.5 L147.5,358.6 L146.5,358.7 L145.5,358.9 L144.5,359 L143.5,359.1 L142.5,359.3 L141.5,359.4 L140.5,359.5 L139.5,359.7 L138.5,359.8 L137.5,359.9 L136.5,360.1 L135.5,360.2 L134.5,360.4 L133.5,360.5 L132.5,360.6 L131.5,360.8 L130.5,360.9 L129.5,361Z" fill="rgb(13,78,168)" fill-opacity="0.25"/>
<path d="M129.5,440.7 L130.5,440.7 L131.5,440.7 L132.5,440.7 L133.5,440.7 L134.5,440.7 L135.5,440.7 L136.5,440.7 L137.5,440.7 L138.5,440.7 L139.5,440.7 L140.5,440.7 L141.5,440.7 L142.5,440.7 L143.5,440.7 L144.5,440.7 L145.5,440.7 L146.5,440.7 L147.5,440.7 L148.5,440.7 L149.5,440.7 L150.5,440.7 L151.5,440.4 L152.5,439.8 L153.5,439.3 L154.5,439.1 L155.5,439.6 L156.5,440.1 L157.5,440.7 L158.5,441.2 L159.5,441.4 L160.5,440.9 L161.5,440.4 L162.5,439.8 L163.5,439.3 L164.5,438.7 L165.5,438.2 L166.5,437.7 L167.5,437.5 L168.5,437.4 L169.5,437.3 L170.5,437.2 L171.5,437.1 L172.5,437 L173.5,436.9 L174.5,436.7 L175.5,436.6 L176.5,436.5 L177.5,436.4 L178.5,436.3 L179.5,436.2 L180.5,436.1 L181.5,436 L182.5,435.9 L183.5,435.8 L184.5,435.7 L185.5,435.7 L186.5,435.7 L187.5,435.8 L188.5,435.8 L189.5,435.8 L190.5,435.8 L191.5,435.8 L192.5,435.8 L193.5,435.8 L194.5,435.9 L195.5,435.9 L196.5,435.9 L197.5,435.9 L198.5,435.9 L199.5,435.9 L200.5,436 L201.5,436 L202.5,436 L203.5,436 L204.5,436 L205.5,436 L206.5,436.1 L207.5,436.1 L208.5,436.1 L209.5,436.1 L210.5,436.1 L211.5,436.1 L212.5,436.1 L213.5,436.2 L214.5,436.2 L215.5,436.2 L216.5,436.2 L217.5,436.2 L218.5,436.2 L219.5,436.3 L220.5,436.3 L221.5,436.3 L222.5,436.3 L223.5,436.3 L224.5,436.3 L225.5,436.4 L226.5,436.4 L227.5,436.4 L228.5,436.4 L229.5,436.4 L230.5,436.4 L231.5,436.4 L232.5,436.5 L233.5,436.5 L234.5,436.5 L235.5,436.5 L236.5,436.5 L237.5,436.4 L238.5,436.4 L239.5,436.4 L240.5,436.4 L241.5,436.3 L242.5,436.3 L243.5,436.3 L244.5,436.3 L245.5,436.3 L246.5,436.2 L247.5,436.2 L248.5,436.2 L249.5,436.2 L250.5,436.1 L251.5,436.1 L252.5,436.1 L253.5,436.1 L254.5,436 L255.5,436 L256.5,436 L257.5,436 L258.5,435.9 L259.5,435.9 L260.5,435.9 L261.5,435.9 L262.5,435.8 L263.5,435.8 L264.5,435.8 L265.5,435.8 L266.5,435.8 L267.5,435.7 L268.5,435.7 L269.5,435.7 L270.5,435.7 L271.5,435.7 L272.5,435.6 L273.5,435.6 L274.5,435.6 L275.5,435.6 L276.5,435.6 L277.5,435.5 L278.5,435.5 L279.5,435.5 L280.5,435.5 L281.5,435.5 L282.5,435.5 L283.5,435.4 L284.5,435.4 L285.5,435.4 L286.5,435.4 L287.5,435.4 L288.5,435.4 L289.5,435.3 L290.5,435.3 L291.5,435.3 L292.5,435.3 L293.5,435.3 L294.5,435.3 L295.5,435.2 L296.5,435.2 L297.5,435.2 L298.5,435.3 L299.5,435.4 L300.5,435.5 L301.5,435.6 L302.5,435.7 L303.5,435.8 L304.5,435.9 L305.5,436 L306.5,436.1 L307.5,436.2 L308.5,436.3 L309.5,436.4 L310.5,436.5 L311.5,436.5 L312.5,436.6 L313.5,436.7 L314.5,436.8 L315.5,436.9 L316.5,437 L317.5,437.1 L318.5,437.2 L319.5,437.3 L320.5,437.4 L321.5,437.5 L322.5,437.6 L323.5,437.9 L324.5,438.1 L325.5,438.4 L326.5,438.6 L327.5,438.9 L328.5,439.1 L329.5,439.3 L330.5,439.6 L331.5,439.8 L332.5,440.1 L333.5,440.3 L334.5,440.6 L335.5,440.8 L336.5,440.9 L337.5,441 L338.5,441.1 L339.5,441.2 L340.5,441.5 L341.5,441.9 L342.5,442.3 L343.5,442.7 L344.5,443.2 L345.5,443.6 L346.5,444 L347.5,444.4 L348.5,444.8 L349.5,445.2 L350.5,445.6 L351.5,446 L352.5,446.4 L353.5,446.9 L354.5,447.3 L355.5,447.6 L356.5,447.6 L357.5,447.6 L358.5,447.6 L359.5,447.6 L360.5,447.6 L361.5,447.6 L362.5,447.6 L363.5,447.6 L364.5,447.6 L365.5,447.6 L366.5,447.6 L367.5,447.6 L368.5,447.6 L369.5,447.6 L370.5,447.6 L371.5,447.6 L372.5,447.6 L373.5,447.6 L374.5,447.6 L375.5,447.6 L376.5,447.6 L377.5,447.6 L378.5,447.6 L379.5,447.6 L380.5,447.6 L381.5,447.6 L382.5,447.6 L383.5,447.7 L384.5,447.8 L385.5,448 L386.5,448.2 L387.5,448.3 L388.5,448.5 L389.5,448.6 L390.5,448.8 L391.5,449 L392.5,449.1 L393.5,449.3 L394.5,449.4 L395.5,449.6 L396.5,449.8 L397.5,449.9 L398.5,450.1 L399.5,450.3 L400.5,450.4 L401.5,450.6 L402.5,450.7 L403.5,450.9 L404.5,451.1 L405.5,451.2 L406.5,451.4 L407.5,451.6 L408.5,451.7 L409.5,451.7 L410.5,451.6 L411.5,451.5 L412.5,451.4 L413.5,451.2 L414.5,451.1 L415.5,451 L416.5,450.9 L417.5,450.7 L418.5,450.6 L419.5,450.5 L420.5,450.4 L421.5,450.2 L422.5,450.1 L423.5,450 L424.5,449.9 L425.5,449.7 L426.5,449.6 L427.5,449.5 L428.5,449.4 L429.5,449.2 L430.5,449.1 L431.5,449 L432.5,448.9 L433.5,448.7 L434.5,448.6 L435.5,448.5 L436.5,448.4 L437.5,448.2 L438.5,448.1 L439.5,448.3 L440.5,448.5 L441.5,448.7 L442.5,448.9 L443.5,449.1 L444.5,449.3 L445.5,449.5 L446.5,449.4 L447.5,449.3 L448.5,449.3 L449.5,449.2 L450.5,449.1 L451.5,449 L452.5,448.9 L453.5,448.9 L454.5,448.8 L455.5,448.7 L456.5,448.6 L457.5,448.6 L458.5,448.5 L459.5,448.4 L460.5,448.3 L461.5,448.2 L462.5,448.2 L463.5,448.1 L464.5,448 L465.5,447.9 L466.5,447.8 L467.5,447.8 L468.5,447.7 L469.5,447.6 L470.5,446.5 L471.5,445.3 L472.5,444.1 L473.5,443.1 L474.5,443.1 L475.5,443.2 L476.5,443.2 L477.5,443.3 L478.5,443.3 L479.5,443.3 L480.5,443.4 L481.5,443.4 L482.5,443.5 L483.5,443.5 L484.5,443.5 L485.5,443.6 L486.5,443.6 L487.5,443.7 L488.5,443.7 L489.5,443.7 L490.5,443.8 L491.5,443.8 L492.5,443.9 L493.5,443.9 L494.5,443.6 L495.5,443.4 L496.5,443.1 L497.5,442.8 L498.5,442.7 L499.5,443 L500.5,443.3 L501.5,443.6 L502.5,443.9 L503.5,444.2 L504.5,444.5 L505.5,444.8 L506.5,445.1 L507.5,445.4 L508.5,445.7 L509.5,446.1 L510.5,446.3 L511.5,446.5 L512.5,446.6 L513.5,446.8 L514.5,446.9 L515.5,447 L516.5,447.2 L517.5,447.3 L518.5,447.5 L519.5,447.6 L520.5,447.8 L521.5,447.9 L522.5,448.1 L523.5,448.2 L524.5,448.3 L525.5,448.5 L526.5,448.6 L527.5,448.8 L528.5,448.9 L529.5,449.1 L530.5,449.2 L531.5,449.4 L532.5,449.5 L533.5,449.6 L534.5,449.8 L535.5,449.9 L536.5,450.1 L537.5,450.2 L538.5,450.4 L539.5,450.5 L540.5,450.7 L541.5,450.8 L542.5,450.9 L543.5,451.1 L544.5,451.2 L545.5,451.4 L546.5,451.5 L547.5,451.6 L548.5,451.7 L549.5,451.8 L550.5,452 L551.5,452.1 L552.5,452.2 L553.5,452.3 L554.5,452.5 L555.5,452.6 L556.5,452.7 L557.5,452.8 L558.5,452.9 L559.5,453.1 L560.5,452.9 L561.5,452.7 L562.5,452.5 L563.5,452.3 L564.5,452 L565.5,451.8 L566.5,451.6 L567.5,451.4 L568.5,451.1 L569.5,450.9 L570.5,450.7 L571.5,450.4 L572.5,450.2 L573.5,450 L574.5,449.8 L575.5,449.5 L576.5,449.3 L577.5,449.1 L578.5,448.9 L579.5,448.7 L580.5,448.8 L581.5,448.8 L582.5,448.9 L583.5,449 L584.5,449 L585.5,449.1 L586.5,449.1 L587.5,449.2 L588.5,449.2 L589.5,449.3 L590.5,449.4 L591.5,449.3 L592.5,449.1 L593.5,448.8 L594.5,448.6 L595.5,448.3 L596.5,448.1 L597.5,447.9 L598.5,447.6 L599.5,447.4 L600.5,447.1 L601.5,446.9 L602.5,446.6 L603.5,446.4 L604.5,446.1 L605.5,445.9 L606.5,445.6 L607.5,445.4 L608.5,445.2 L609.5,444.9 L610.5,444.7 L611.5,444.4 L612.5,444.6 L613.5,444.7 L614.5,444.9 L615.5,445.1 L616.5,445.3 L617.5,445.5 L618.5,445.6 L619.5,445.8 L620.5,446 L621.5,446.2 L622.5,446.4 L623.5,446.5 L624.5,446.7 L625.5,446.9 L626.5,447.1 L627.5,447.2 L628.5,447.4 L629.5,447.6 L630.5,447.8 L631.5,448 L632.5,448.1 L633.5,448.3 L634.5,448.5 L635.5,448.7 L636.5,448.8 L637.5,448.8 L638.5,448.9 L639.5,448.9 L640.5,449 L641.5,449 L642.5,449.1 L643.5,449.1 L644.5,449.2 L645.5,449.2 L646.5,449.3 L647.5,449.4 L648.5,449.4 L649.5,449.5 L650.5,449.7 L651.5,450 L652.5,450.3 L653.5,450.6 L654.5,450.9 L655.5,451.2 L656.5,451.6 L657.5,451.9 L658.5,452.2 L659.5,452.5 L660.5,452.8 L661.5,453.2 L662.5,453.5 L663.5,453.8 L664.5,454.1 L665.5,454 L666.5,453.7 L667.5,453.4 L668.5,453.1 L669.5,452.9 L670.5,452.6 L671.5,452.3 L672.5,452 L673.5,451.7 L674.5,451.4 L675.5,451.1 L676.5,450.8 L677.5,450.6 L678.5,450.6 L679.5,450.6 L680.5,450.7 L681.5,450.8 L682.5,450.9 L683.5,451 L684.5,451 L685.5,451.1 L686.5,451.2 L687.5,451.3 L688.5,451.3 L689.5,451.4 L690.5,451.5 L691.5,451.6 L692.5,451.7 L693.5,451.7 L694.5,451.8 L695.5,452.2 L696.5,452.6 L697.5,453 L698.5,453.4 L699.5,453.8 L700.5,454.2 L701.5,454.6 L702.5,454.9 L703.5,455.3 L704.5,455.7 L705.5,456.1 L706.5,455.4 L707.5,454.8 L708.5,454.1 L709.5,453.4 L710.5,452.8 L711.5,452.1 L712.5,451.5 L713.5,450.8 L714.5,450.1 L715.5,449.9 L716.5,449.8 L717.5,449.7 L718.5,449.6 L719.5,449.4 L720.5,449.3 L721.5,449.2 L722.5,449.1 L723.5,449 L724.5,448.9 L725.5,448.7 L726.5,449 L727.5,449.4 L728.5,449.8 L729.5,450.2 L730.5,450.6 L731.5,451 L732.5,451.4 L733.5,451.8 L734.5,452.2 L735.5,452.3 L736.5,452 L737.5,451.8 L738.5,451.5 L739.5,451.2 L740.5,451 L741.5,450.7 L742.5,450.6 L743.5,451.2 L744.5,451.9 L745.5,452.6 L746.5,453.3 L747.5,453.6 L748.5,453.2 L749.5,452.8 L750.5,452.5 L751.5,452.1 L752.5,451.8 L753.5,451.4 L754.5,451.1 L755.5,450.9 L755.5,494.3 L754.5,494.3 L753.5,494.3 L752.5,494.3 L751.5,494.3 L750.5,494.2 L749.5,494.2 L748.5,494.2 L747.5,494.2 L746.5,494.2 L745.5,494.2 L744.5,494.2 L743.5,494.2 L742.5,494.1 L741.5,494.1 L740.5,494.1 L739.5,494.1 L738.5,494.1 L737.5,494.1 L736.5,494.1 L735.5,494.1 L734.5,494 L733.5,494 L732.5,494 L731.5,494 L730.5,494 L729.5,494 L728.5,494 L727.5,494 L726.5,493.9 L725.5,493.9 L724.5,493.9 L723.5,493.9 L722.5,493.9 L721.5,493.9 L720.5,493.9 L719.5,493.9 L718.5,493.8 L717.5,493.8 L716.5,493.8 L715.5,493.8 L714.5,493.9 L713.5,494.5 L712.5,495 L711.5,495.6 L710.5,496.2 L709.5,496.7 L708.5,497.3 L707.5,497.9 L706.5,498.4 L705.5,499 L704.5,498.6 L703.5,498.3 L702.5,497.9 L701.5,497.5 L700.5,497.2 L699.5,496.8 L698.5,496.4 L697.5,496 L696.5,495.7 L695.5,495.3 L694.5,494.9 L693.5,495 L692.5,495.1 L691.5,495.2 L690.5,495.3 L689.5,495.4 L688.5,495.5 L687.5,495.6 L686.5,495.7 L685.5,495.8 L684.5,495.9 L683.5,496 L682.5,496.1 L681.5,496.3 L680.5,496.4 L679.5,496.5 L678.5,496.6 L677.5,496.7 L676.5,496.8 L675.5,496.9 L674.5,497 L673.5,497.1 L672.5,497.2 L671.5,497.3 L670.5,497.4 L669.5,497.5 L668.5,497.6 L667.5,497.7 L666.5,497.8 L665.5,497.9 L664.5,497.9 L663.5,497.6 L662.5,497.3 L661.5,497 L660.5,496.7 L659.5,496.4 L658.5,496 L657.5,495.7 L656.5,495.4 L655.5,495.1 L654.5,494.8 L653.5,494.5 L652.5,494.2 L651.5,493.9 L650.5,493.6 L649.5,493.4 L648.5,493.3 L647.5,493.2 L646.5,493.1 L645.5,493.1 L644.5,493 L643.5,492.9 L642.5,492.9 L641.5,492.8 L640.5,492.7 L639.5,492.6 L638.5,492.6 L637.5,492.5 L636.5,492.4 L635.5,492.3 L634.5,492.3 L633.5,492.2 L632.5,492.1 L631.5,492.1 L630.5,492 L629.5,491.9 L628.5,491.8 L627.5,491.8 L626.5,491.7 L625.5,491.6 L624.5,491.5 L623.5,491.5 L622.5,491.4 L621.5,491.3 L620.5,491.2 L619.5,491.2 L618.5,491.1 L617.5,491 L616.5,491 L615.5,490.9 L614.5,490.8 L613.5,490.7 L612.5,490.7 L611.5,490.6 L610.5,490.7 L609.5,490.8 L608.5,490.8 L607.5,490.9 L606.5,491 L605.5,491.1 L604.5,491.1 L603.5,491.2 L602.5,491.3 L601.5,491.3 L600.5,491.4 L599.5,491.5 L598.5,491.6 L597.5,491.6 L596.5,491.7 L595.5,491.8 L594.5,491.9 L593.5,491.9 L592.5,492 L591.5,492.1 L590.5,492.2 L589.5,492.2 L588.5,492.3 L587.5,492.4 L586.5,492.5 L585.5,492.5 L584.5,492.6 L583.5,492.7 L582.5,492.8 L581.5,492.8 L580.5,492.9 L579.5,493 L578.5,493.1 L577.5,493.3 L576.5,493.5 L575.5,493.7 L574.5,493.9 L573.5,494.1 L572.5,494.3 L571.5,494.5 L570.5,494.7 L569.5,494.9 L568.5,495 L567.5,495.2 L566.5,495.4 L565.5,495.6 L564.5,495.8 L563.5,496 L562.5,496.2 L561.5,496.4 L560.5,496.6 L559.5,496.7 L558.5,496.5 L557.5,496.3 L556.5,496.2 L555.5,496 L554.5,495.8 L553.5,495.7 L552.5,495.5 L551.5,495.4 L550.5,495.2 L549.5,495 L548.5,494.9 L547.5,494.7 L546.5,494.5 L545.5,494.4 L544.5,494.2 L543.5,494.1 L542.5,494 L541.5,493.8 L540.5,493.7 L539.5,493.6 L538.5,493.4 L537.5,493.3 L536.5,493.2 L535.5,493 L534.5,492.9 L533.5,492.8 L532.5,492.6 L531.5,492.5 L530.5,492.4 L529.5,492.2 L528.5,492.1 L527.5,492 L526.5,491.8 L525.5,491.7 L524.5,491.5 L523.5,491.3 L522.5,491.1 L521.5,491 L520.5,490.8 L519.5,490.6 L518.5,490.4 L517.5,490.3 L516.5,490.1 L515.5,489.9 L514.5,489.7 L513.5,489.6 L512.5,489.4 L511.5,489.2 L510.5,489 L509.5,488.9 L508.5,488.7 L507.5,488.5 L506.5,488.3 L505.5,488.2 L504.5,488 L503.5,487.8 L502.5,487.6 L501.5,487.5 L500.5,487.3 L499.5,487.1 L498.5,486.9 L497.5,486.8 L496.5,486.6 L495.5,486.4 L494.5,486.5 L493.5,486.5 L492.5,486.6 L491.5,486.6 L490.5,486.7 L489.5,486.7 L488.5,486.8 L487.5,486.9 L486.5,486.9 L485.5,487 L484.5,487 L483.5,487.1 L482.5,487.2 L481.5,487.2 L480.5,487.3 L479.5,487.3 L478.5,487.4 L477.5,487.4 L476.5,487.5 L475.5,487.6 L474.5,487.6 L473.5,487.7 L472.5,487.7 L471.5,487.8 L470.5,487.8 L469.5,487.9 L468.5,488 L467.5,488.2 L466.5,488.3 L465.5,488.4 L464.5,488.5 L463.5,488.7 L462.5,488.8 L461.5,488.9 L460.5,489 L459.5,489.2 L458.5,489.3 L457.5,489.4 L456.5,489.5 L455.5,489.7 L454.5,489.8 L453.5,489.9 L452.5,490 L451.5,490.2 L450.5,490.3 L449.5,490.4 L448.5,490.5 L447.5,490.7 L446.5,490.8 L445.5,490.9 L444.5,491 L443.5,491.2 L442.5,491.3 L441.5,491.4 L440.5,491.5 L439.5,491.7 L438.5,491.8 L437.5,491.9 L436.5,492 L435.5,492.1 L434.5,492.2 L433.5,492.3 L432.5,492.4 L431.5,492.6 L430.5,492.7 L429.5,492.8 L428.5,492.9 L427.5,493 L426.5,493.1 L425.5,493.2 L424.5,493.4 L423.5,493.5 L422.5,493.6 L421.5,493.7 L420.5,493.8 L419.5,493.9 L418.5,494 L417.5,494.1 L416.5,494.3 L415.5,494.4 L414.5,494.5 L413.5,494.6 L412.5,494.7 L411.5,494.8 L410.5,494.8 L409.5,494.7 L408.5,494.5 L407.5,494.3 L406.5,494.2 L405.5,494 L404.5,493.8 L403.5,493.6 L402.5,493.5 L401.5,493.3 L400.5,493.1 L399.5,492.9 L398.5,492.8 L397.5,492.6 L396.5,492.4 L395.5,492.2 L394.5,492.1 L393.5,491.9 L392.5,491.7 L391.5,491.6 L390.5,491.4 L389.5,491.2 L388.5,491 L387.5,490.9 L386.5,490.7 L385.5,490.5 L384.5,490.3 L383.5,490.2 L382.5,490.1 L381.5,490.1 L380.5,490.1 L379.5,490.2 L378.5,490.2 L377.5,490.2 L376.5,490.2 L375.5,490.2 L374.5,490.3 L373.5,490.3 L372.5,490.3 L371.5,490.3 L370.5,490.3 L369.5,490.3 L368.5,490.4 L367.5,490.4 L366.5,490.4 L365.5,490.4 L364.5,490.4 L363.5,490.5 L362.5,490.5 L361.5,490.5 L360.5,490.5 L359.5,490.5 L358.5,490.5 L357.5,490.6 L356.5,490.6 L355.5,490.6 L354.5,490.3 L353.5,490 L352.5,489.6 L351.5,489.2 L350.5,488.9 L349.5,488.5 L348.5,488.2 L347.5,487.8 L346.5,487.4 L345.5,487.1 L344.5,486.7 L343.5,486.4 L342.5,486 L341.5,485.6 L340.5,485.3 L339.5,485 L338.5,484.7 L337.5,484.5 L336.5,484.2 L335.5,483.9 L334.5,483.6 L333.5,483.2 L332.5,482.9 L331.5,482.5 L330.5,482.1 L329.5,481.8 L328.5,481.4 L327.5,481 L326.5,480.6 L325.5,480.5 L324.5,480.5 L323.5,480.4 L322.5,480.4 L321.5,480.4 L320.5,480.3 L319.5,480.3 L318.5,480.3 L317.5,480.2 L316.5,480.2 L315.5,480.2 L314.5,480.2 L313.5,480.1 L312.5,480.1 L311.5,480.1 L310.5,480 L309.5,480 L308.5,480 L307.5,479.9 L306.5,479.9 L305.5,479.9 L304.5,479.8 L303.5,479.8 L302.5,479.8 L301.5,479.8 L300.5,479.7 L299.5,479.7 L298.5,479.7 L297.5,479.6 L296.5,479.6 L295.5,479.6 L294.5,479.5 L293.5,479.5 L292.5,479.5 L291.5,479.4 L290.5,479.4 L289.5,479.4 L288.5,479.3 L287.5,479.3 L286.5,479.3 L285.5,479.2 L284.5,479.2 L283.5,479.1 L282.5,479.1 L281.5,479.1 L280.5,479 L279.5,479 L278.5,479 L277.5,478.9 L276.5,478.9 L275.5,478.9 L274.5,478.8 L273.5,478.8 L272.5,478.7 L271.5,478.7 L270.5,478.7 L269.5,478.6 L268.5,478.6 L267.5,478.7 L266.5,478.7 L265.5,478.7 L264.5,478.8 L263.5,478.8 L262.5,478.9 L261.5,478.9 L260.5,479 L259.5,479 L258.5,479.1 L257.5,479.1 L256.5,479.1 L255.5,479.2 L254.5,479.2 L253.5,479.3 L252.5,479.3 L251.5,479.4 L250.5,479.4 L249.5,479.5 L248.5,479.5 L247.5,479.5 L246.5,479.6 L245.5,479.6 L244.5,479.7 L243.5,479.7 L242.5,479.8 L241.5,479.8 L240.5,479.9 L239.5,479.9 L238.5,479.9 L237.5,480 L236.5,480 L235.5,480.1 L234.5,480.1 L233.5,480.1 L232.5,480 L231.5,480 L230.5,480 L229.5,480 L228.5,480 L227.5,479.9 L226.5,479.9 L225.5,479.9 L224.5,479.9 L223.5,479.9 L222.5,479.8 L221.5,479.8 L220.5,479.8 L219.5,479.8 L218.5,479.7 L217.5,479.7 L216.5,479.7 L215.5,479.7 L214.5,479.7 L213.5,479.6 L212.5,479.6 L211.5,479.6 L210.5,479.6 L209.5,479.5 L208.5,479.5 L207.5,479.5 L206.5,479.5 L205.5,479.5 L204.5,479.4 L203.5,479.4 L202.5,479.4 L201.5,479.4 L200.5,479.4 L199.5,479.3 L198.5,479.3 L197.5,479.3 L196.5,479.3 L195.5,479.2 L194.5,479.2 L193.5,479.2 L192.5,479.2 L191.5,479.2 L190.5,479.1 L189.5,479.1 L188.5,479.1 L187.5,479.1 L186.5,479 L185.5,479 L184.5,479 L183.5,479 L182.5,479.1 L181.5,479.2 L180.5,479.2 L179.5,479.3 L178.5,479.4 L177.5,479.4 L176.5,479.5 L175.5,479.5 L174.5,479.6 L173.5,479.7 L172.5,479.7 L171.5,479.8 L170.5,479.9 L169.5,479.9 L168.5,480 L167.5,480 L166.5,480.2 L165.5,480.7 L164.5,481.2 L163.5,481.7 L162.5,482.2 L161.5,482.7 L160.5,483.2 L159.5,483.7 L158.5,483.7 L157.5,483.7 L156.5,483.6 L155.5,483.5 L154.5,483.5 L153.5,483.4 L152.5,483.3 L151.5,483.2 L150.5,483.2 L149.5,483.2 L148.5,483.3 L147.5,483.3 L146.5,483.3 L145.5,483.4 L144.5,483.4 L143.5,483.4 L142.5,483.4 L141.5,483.5 L140.5,483.5 L139.5,483.5 L138.5,483.5 L137.5,483.6 L136.5,483.6 L135.5,483.6 L134.5,483.7 L133.5,483.7 L132.5,483.7 L131.5,483.7 L130.5,483.8 L129.5,483.8Z" fill="rgb(232,78,12)" fill-opacity="0.25"/>
<path d="M129.5,480.1 L130.5,480.2 L131.5,480.2 L132.5,480.3 L133.5,480.3 L134.5,480.4 L135.5,480.5 L136.5,480.5 L137.5,480.6 L138.5,480.6 L139.5,480.7 L140.5,480.8 L141.5,480.8 L142.5,480.9 L143.5,480.9 L144.5,481 L145.5,481.1 L146.5,481.1 L147.5,481.2 L148.5,481.3 L149.5,481.3 L150.5,481.4 L151.5,481.3 L152.5,481.1 L153.5,481 L154.5,480.8 L155.5,480.7 L156.5,480.5 L157.5,480.4 L158.5,480.2 L159.5,480 L160.5,479.9 L161.5,479.7 L162.5,479.5 L163.5,479.4 L164.5,479.2 L165.5,479 L166.5,478.8 L167.5,478.7 L168.5,478.5 L169.5,478.3 L170.5,478.2 L171.5,478 L172.5,477.8 L173.5,477.6 L174.5,477.5 L175.5,477.3 L176.5,477.1 L177.5,477 L178.5,476.8 L179.5,476.6 L180.5,476.4 L181.5,476.3 L182.5,476.1 L183.5,475.9 L184.5,475.8 L185.5,475.7 L186.5,475.7 L187.5,475.6 L188.5,475.6 L189.5,475.5 L190.5,475.5 L191.5,475.5 L192.5,475.4 L193.5,475.4 L194.5,475.3 L195.5,475.3 L196.5,475.2 L197.5,475.2 L198.5,475.1 L199.5,475.1 L200.5,475 L201.5,475 L202.5,474.9 L203.5,474.9 L204.5,474.8 L205.5,474.8 L206.5,474.7 L207.5,474.7 L208.5,474.7 L209.5,474.6 L210.5,474.6 L211.5,474.5 L212.5,474.5 L213.5,474.4 L214.5,474.4 L215.5,474.3 L216.5,474.3 L217.5,474.2 L218.5,474.2 L219.5,474.1 L220.5,474.1 L221.5,474 L222.5,474 L223.5,473.9 L224.5,473.9 L225.5,473.8 L226.5,473.8 L227.5,473.8 L228.5,473.7 L229.5,473.7 L230.5,473.6 L231.5,473.6 L232.5,473.5 L233.5,473.5 L234.5,473.4 L235.5,473.4 L236.5,473.3 L237.5,473.3 L238.5,473.3 L239.5,473.2 L240.5,473.2 L241.5,473.1 L242.5,473.1 L243.5,473.1 L244.5,473 L245.5,473 L246.5,473 L247.5,472.9 L248.5,472.9 L249.5,472.8 L250.5,472.8 L251.5,472.8 L252.5,472.7 L253.5,472.7 L254.5,472.6 L255.5,472.6 L256.5,472.6 L257.5,472.5 L258.5,472.5 L259.5,472.5 L260.5,472.4 L261.5,472.4 L262.5,472.3 L263.5,472.3 L264.5,472.3 L265.5,472.2 L266.5,472.2 L267.5,472.2 L268.5,472.1 L269.5,472 L270.5,471.8 L271.5,471.6 L272.5,471.4 L273.5,471.2 L274.5,471 L275.5,470.8 L276.5,470.6 L277.5,470.4 L278.5,470.2 L279.5,470 L280.5,469.9 L281.5,469.7 L282.5,469.5 L283.5,469.3 L284.5,469.1 L285.5,468.9 L286.5,468.7 L287.5,468.5 L288.5,468.3 L289.5,468.1 L290.5,467.9 L291.5,467.7 L292.5,467.6 L293.5,467.4 L294.5,467.2 L295.5,467 L296.5,466.8 L297.5,466.6 L298.5,466.5 L299.5,466.4 L300.5,466.3 L301.5,466.1 L302.5,466 L303.5,465.9 L304.5,465.8 L305.5,465.7 L306.5,465.6 L307.5,465.5 L308.5,465.3 L309.5,465.2 L310.5,465.1 L311.5,465 L312.5,464.9 L313.5,464.8 L314.5,464.7 L315.5,464.5 L316.5,464.4 L317.5,464.3 L318.5,464.2 L319.5,464.1 L320.5,464 L321.5,463.9 L322.5,463.7 L323.5,463.6 L324.5,463.5 L325.5,463.4 L326.5,463.3 L327.5,463.2 L328.5,463 L329.5,462.9 L330.5,463.2 L331.5,463.6 L332.5,464 L333.5,464.4 L334.5,464.8 L335.5,465.2 L336.5,465.6 L337.5,466 L338.5,466.4 L339.5,466.5 L340.5,466.2 L341.5,465.9 L342.5,465.6 L343.5,465.3 L344.5,465 L345.5,464.8 L346.5,464.5 L347.5,464.2 L348.5,463.9 L349.5,463.6 L350.5,463.4 L351.5,463.1 L352.5,462.8 L353.5,462.5 L354.5,462.2 L355.5,462 L356.5,462 L357.5,462 L358.5,462 L359.5,462 L360.5,462 L361.5,462 L362.5,462 L363.5,462 L364.5,462 L365.5,462 L366.5,462 L367.5,462 L368.5,462 L369.5,462 L370.5,462 L371.5,462 L372.5,462 L373.5,462 L374.5,462 L375.5,462 L376.5,462 L377.5,462 L378.5,462 L379.5,462 L380.5,462 L381.5,462 L382.5,462 L383.5,462 L384.5,462 L385.5,462.1 L386.5,462.1 L387.5,462.1 L388.5,462.2 L389.5,462.2 L390.5,462.2 L391.5,462.3 L392.5,462.3 L393.5,462.3 L394.5,462.4 L395.5,462.4 L396.5,462.4 L397.5,462.5 L398.5,462.5 L399.5,462.5 L400.5,462.6 L401.5,462.6 L402.5,462.6 L403.5,462.7 L404.5,462.7 L405.5,462.7 L406.5,462.8 L407.5,462.8 L408.5,462.8 L409.5,462.9 L410.5,462.9 L411.5,462.9 L412.5,463 L413.5,463 L414.5,463 L415.5,463.1 L416.5,463.1 L417.5,463.2 L418.5,463.2 L419.5,463.2 L420.5,463.3 L421.5,463.3 L422.5,463.3 L423.5,463.4 L424.5,463.4 L425.5,463.5 L426.5,463.5 L427.5,463.5 L428.5,463.6 L429.5,463.6 L430.5,463.6 L431.5,463.7 L432.5,463.7 L433.5,463.8 L434.5,463.8 L435.5,463.8 L436.5,463.9 L437.5,463.9 L438.5,464 L439.5,464 L440.5,464 L441.5,464.1 L442.5,464.1 L443.5,464.1 L444.5,464.2 L445.5,464.2 L446.5,464.3 L447.5,464.3 L448.5,464.4 L449.5,464.4 L450.5,464.4 L451.5,464.5 L452.5,464.5 L453.5,464.6 L454.5,464.6 L455.5,464.7 L456.5,464.7 L457.5,464.8 L458.5,464.8 L459.5,464.8 L460.5,464.9 L461.5,464.9 L462.5,465 L463.5,465 L464.5,465.1 L465.5,465.1 L466.5,465.2 L467.5,465.2 L468.5,465.3 L469.5,465.3 L470.5,465.3 L471.5,465.4 L472.5,465.4 L473.5,465.5 L474.5,465.5 L475.5,465.6 L476.5,465.6 L477.5,465.7 L478.5,465.7 L479.5,465.8 L480.5,465.8 L481.5,465.9 L482.5,465.9 L483.5,466 L484.5,466 L485.5,466.1 L486.5,466.1 L487.5,466.2 L488.5,466.2 L489.5,466.3 L490.5,466.3 L491.5,466.4 L492.5,466.4 L493.5,466.5 L494.5,466.5 L495.5,466.6 L496.5,466.5 L497.5,466.4 L498.5,466.3 L499.5,466.2 L500.5,466.1 L501.5,466 L502.5,465.9 L503.5,465.8 L504.5,465.7 L505.5,465.6 L506.5,465.5 L507.5,465.4 L508.5,465.3 L509.5,465.2 L510.5,465.1 L511.5,465 L512.5,464.9 L513.5,464.8 L514.5,464.7 L515.5,464.6 L516.5,464.5 L517.5,464.4 L518.5,464.3 L519.5,464.2 L520.5,464.1 L521.5,464 L522.5,463.9 L523.5,463.8 L524.5,463.7 L525.5,463.6 L526.5,463.5 L527.5,463.5 L528.5,463.5 L529.5,463.5 L530.5,463.5 L531.5,463.6 L532.5,463.6 L533.5,463.6 L534.5,463.6 L535.5,463.6 L536.5,463.6 L537.5,463.6 L538.5,463.7 L539.5,463.7 L540.5,463.7 L541.5,463.7 L542.5,463.7 L543.5,463.7 L544.5,463.7 L545.5,463.7 L546.5,463.8 L547.5,463.8 L548.5,463.8 L549.5,463.8 L550.5,463.8 L551.5,463.8 L552.5,463.9 L553.5,463.9 L554.5,463.9 L555.5,464 L556.5,464 L557.5,464 L558.5,464 L559.5,464.1 L560.5,464.1 L561.5,464.1 L562.5,464.2 L563.5,464.2 L564.5,464.2 L565.5,464.2 L566.5,464.3 L567.5,464.3 L568.5,464.3 L569.5,464.3 L570.5,464.4 L571.5,464.4 L572.5,464.4 L573.5,464.5 L574.5,464.5 L575.5,464.5 L576.5,464.5 L577.5,464.6 L578.5,464.6 L579.5,464.6 L580.5,464.7 L581.5,464.7 L582.5,464.7 L583.5,464.8 L584.5,464.9 L585.5,465 L586.5,465.1 L587.5,465.2 L588.5,465.3 L589.5,465.4 L590.5,465.5 L591.5,465.6 L592.5,465.7 L593.5,465.8 L594.5,465.9 L595.5,466 L596.5,466.1 L597.5,466.2 L598.5,466.3 L599.5,466.4 L600.5,466.4 L601.5,466.5 L602.5,466.6 L603.5,466.7 L604.5,466.8 L605.5,466.9 L606.5,467 L607.5,467.1 L608.5,467.2 L609.5,467.3 L610.5,467.4 L611.5,467.5 L612.5,467.5 L613.5,467.5 L614.5,467.6 L615.5,467.6 L616.5,467.6 L617.5,467.6 L618.5,467.7 L619.5,467.7 L620.5,467.7 L621.5,467.7 L622.5,467.8 L623.5,467.8 L624.5,467.8 L625.5,467.8 L626.5,467.8 L627.5,467.9 L628.5,467.9 L629.5,467.9 L630.5,467.9 L631.5,468 L632.5,468 L633.5,468 L634.5,468 L635.5,468.1 L636.5,468.1 L637.5,468.1 L638.5,468.1 L639.5,468.2 L640.5,468.2 L641.5,468.2 L642.5,468.2 L643.5,468.2 L644.5,468.3 L645.5,468.3 L646.5,468.3 L647.5,468.3 L648.5,468.4 L649.5,468.4 L650.5,468.4 L651.5,468.3 L652.5,468.2 L653.5,468.1 L654.5,468 L655.5,468 L656.5,467.9 L657.5,467.8 L658.5,467.7 L659.5,467.6 L660.5,467.5 L661.5,467.5 L662.5,467.4 L663.5,467.3 L664.5,467.2 L665.5,467.2 L666.5,467.2 L667.5,467.2 L668.5,467.1 L669.5,467.1 L670.5,467.1 L671.5,467.1 L672.5,467.1 L673.5,467.1 L674.5,467.1 L675.5,467 L676.5,467 L677.5,467 L678.5,467 L679.5,467 L680.5,467 L681.5,467 L682.5,466.9 L683.5,466.9 L684.5,466.9 L685.5,466.9 L686.5,466.9 L687.5,466.9 L688.5,466.9 L689.5,466.8 L690.5,466.8 L691.5,466.8 L692.5,466.8 L693.5,466.8 L694.5,466.8 L695.5,466.7 L696.5,466.7 L697.5,466.7 L698.5,466.7 L699.5,466.7 L700.5,466.7 L701.5,466.7 L702.5,466.6 L703.5,466.6 L704.5,466.6 L705.5,466.6 L706.5,467 L707.5,467.4 L708.5,467.8 L709.5,468.2 L710.5,468.6 L711.5,469 L712.5,469.4 L713.5,469.8 L714.5,470.2 L715.5,470.4 L716.5,470.4 L717.5,470.5 L718.5,470.6 L719.5,470.7 L720.5,470.7 L721.5,470.8 L722.5,470.9 L723.5,471 L724.5,471.1 L725.5,471.1 L726.5,471.2 L727.5,471.3 L728.5,471.4 L729.5,471.4 L730.5,471.5 L731.5,471.6 L732.5,471.7 L733.5,471.7 L734.5,471.8 L735.5,471.9 L736.5,472 L737.5,472.1 L738.5,472.1 L739.5,472.2 L740.5,472.3 L741.5,472.4 L742.5,472.4 L743.5,472.5 L744.5,472.6 L745.5,472.7 L746.5,472.7 L747.5,472.8 L748.5,472.9 L749.5,473 L750.5,473.1 L751.5,473.1 L752.5,473.2 L753.5,473.3 L754.5,473.4 L755.5,473.4 L755.5,514.7 L754.5,514.8 L753.5,514.9 L752.5,515 L751.5,515.1 L750.5,515.3 L749.5,515.4 L748.5,515.5 L747.5,515.6 L746.5,515.8 L745.5,515.9 L744.5,516 L743.5,516.1 L742.5,516.3 L741.5,516.4 L740.5,516.4 L739.5,516.5 L738.5,516.5 L737.5,516.5 L736.5,516.6 L735.5,516.6 L734.5,516.6 L733.5,516.7 L732.5,516.7 L731.5,516.8 L730.5,516.8 L729.5,516.8 L728.5,516.9 L727.5,516.9 L726.5,516.7 L725.5,516.4 L724.5,516.2 L723.5,515.9 L722.5,515.7 L721.5,515.5 L720.5,515.2 L719.5,515 L718.5,514.7 L717.5,514.5 L716.5,514.3 L715.5,514 L714.5,513.8 L713.5,513.5 L712.5,513.3 L711.5,513.1 L710.5,512.8 L709.5,512.4 L708.5,512.1 L707.5,511.7 L706.5,511.4 L705.5,511 L704.5,510.7 L703.5,510.8 L702.5,510.8 L701.5,510.9 L700.5,511 L699.5,511 L698.5,511.1 L697.5,511.1 L696.5,511.2 L695.5,511.3 L694.5,511.3 L693.5,511.4 L692.5,511.5 L691.5,511.5 L690.5,511.6 L689.5,511.6 L688.5,511.7 L687.5,511.8 L686.5,511.8 L685.5,511.9 L684.5,511.9 L683.5,512 L682.5,512.1 L681.5,512.1 L680.5,512.2 L679.5,512.3 L678.5,512.3 L677.5,512.2 L676.5,512.2 L675.5,512.1 L674.5,512.1 L673.5,512 L672.5,512 L671.5,511.9 L670.5,511.8 L669.5,511.8 L668.5,511.7 L667.5,511.7 L666.5,511.6 L665.5,511.6 L664.5,511.5 L663.5,511.5 L662.5,511.4 L661.5,511.4 L660.5,511.4 L659.5,511.4 L658.5,511.4 L657.5,511.4 L656.5,511.4 L655.5,511.4 L654.5,511.4 L653.5,511.4 L652.5,511.4 L651.5,511.4 L650.5,511.4 L649.5,511.4 L648.5,511.4 L647.5,511.4 L646.5,511.4 L645.5,511.4 L644.5,511.4 L643.5,511.4 L642.5,511.4 L641.5,511.4 L640.5,511.4 L639.5,511.4 L638.5,511.4 L637.5,511.4 L636.5,511.4 L635.5,511.4 L634.5,511.4 L633.5,511.4 L632.5,511.4 L631.5,511.4 L630.5,511.4 L629.5,511.4 L628.5,511.4 L627.5,511.4 L626.5,511.4 L625.5,511.4 L624.5,511.4 L623.5,511.4 L622.5,511.4 L621.5,511.4 L620.5,511.4 L619.5,511.4 L618.5,511.4 L617.5,511.4 L616.5,511.4 L615.5,511.4 L614.5,511.4 L613.5,511.4 L612.5,511.4 L611.5,511.3 L610.5,511.2 L609.5,511.1 L608.5,511 L607.5,510.9 L606.5,510.8 L605.5,510.7 L604.5,510.6 L603.5,510.5 L602.5,510.4 L601.5,510.3 L600.5,510.2 L599.5,510.1 L598.5,510 L597.5,509.9 L596.5,509.8 L595.5,509.7 L594.5,509.6 L593.5,509.5 L592.5,509.4 L591.5,509.3 L590.5,509.2 L589.5,509.1 L588.5,509.1 L587.5,509.1 L586.5,509.1 L585.5,509.1 L584.5,509.1 L583.5,509.1 L582.5,509.1 L581.5,509.1 L580.5,509.1 L579.5,509.1 L578.5,509.1 L577.5,509.1 L576.5,509.1 L575.5,509.1 L574.5,509.1 L573.5,509.1 L572.5,509.1 L571.5,509.1 L570.5,509.1 L569.5,509.1 L568.5,509.1 L567.5,509.1 L566.5,509.1 L565.5,509.1 L564.5,509.1 L563.5,509.1 L562.5,509.1 L561.5,509.1 L560.5,509.1 L559.5,509.1 L558.5,509.1 L557.5,509.1 L556.5,509.1 L555.5,509.1 L554.5,509.1 L553.5,509.1 L552.5,509.1 L551.5,509.1 L550.5,509.1 L549.5,509.1 L548.5,509.1 L547.5,509.1 L546.5,509.1 L545.5,509.1 L544.5,509.1 L543.5,509.1 L542.5,509.1 L541.5,509.1 L540.5,509.1 L539.5,509.1 L538.5,509.1 L537.5,509.1 L536.5,509.1 L535.5,509.1 L534.5,509.1 L533.5,509.1 L532.5,509.1 L531.5,509.1 L530.5,509.1 L529.5,509.1 L528.5,509.1 L527.5,509.2 L526.5,509.2 L525.5,509.3 L524.5,509.4 L523.5,509.4 L522.5,509.5 L521.5,509.5 L520.5,509.6 L519.5,509.7 L518.5,509.7 L517.5,509.8 L516.5,509.8 L515.5,509.9 L514.5,510 L513.5,510 L512.5,510.1 L511.5,510.2 L510.5,510.2 L509.5,510.3 L508.5,510.3 L507.5,510.4 L506.5,510.5 L505.5,510.5 L504.5,510.6 L503.5,510.6 L502.5,510.7 L501.5,510.8 L500.5,510.8 L499.5,510.9 L498.5,511 L497.5,511.1 L496.5,511.2 L495.5,511.3 L494.5,511.4 L493.5,511.5 L492.5,511.7 L491.5,511.8 L490.5,511.9 L489.5,512 L488.5,512.1 L487.5,512.2 L486.5,512.3 L485.5,512.4 L484.5,512.6 L483.5,512.7 L482.5,512.8 L481.5,512.9 L480.5,513 L479.5,513.1 L478.5,513.2 L477.5,513.3 L476.5,513.5 L475.5,513.6 L474.5,513.7 L473.5,513.8 L472.5,512.9 L471.5,512 L470.5,511 L469.5,510.3 L468.5,510.2 L467.5,510.1 L466.5,510 L465.5,509.9 L464.5,509.8 L463.5,509.7 L462.5,509.6 L461.5,509.5 L460.5,509.4 L459.5,509.4 L458.5,509.3 L457.5,509.2 L456.5,509.1 L455.5,509 L454.5,508.9 L453.5,508.8 L452.5,508.7 L451.5,508.6 L450.5,508.5 L449.5,508.4 L448.5,508.4 L447.5,508.3 L446.5,508.2 L445.5,508.1 L444.5,508 L443.5,507.9 L442.5,507.8 L441.5,507.7 L440.5,507.6 L439.5,507.5 L438.5,507.4 L437.5,507.3 L436.5,507.3 L435.5,507.2 L434.5,507.2 L433.5,507.1 L432.5,507.1 L431.5,507 L430.5,507 L429.5,506.9 L428.5,506.9 L427.5,506.8 L426.5,506.8 L425.5,506.8 L424.5,506.7 L423.5,506.7 L422.5,506.6 L421.5,506.6 L420.5,506.5 L419.5,506.5 L418.5,506.4 L417.5,506.4 L416.5,506.3 L415.5,506.3 L414.5,506.2 L413.5,506.2 L412.5,506.1 L411.5,506.1 L410.5,506 L409.5,506 L408.5,505.9 L407.5,505.9 L406.5,505.9 L405.5,505.9 L404.5,506 L403.5,506 L402.5,506 L401.5,506 L400.5,506.1 L399.5,506.1 L398.5,506.1 L397.5,506.1 L396.5,506.1 L395.5,506.2 L394.5,506.2 L393.5,506.2 L392.5,506.2 L391.5,506.2 L390.5,506.3 L389.5,506.3 L388.5,506.3 L387.5,506.3 L386.5,506.4 L385.5,506.4 L384.5,506.4 L383.5,506.4 L382.5,506.4 L381.5,506.4 L380.5,506.4 L379.5,506.4 L378.5,506.4 L377.5,506.4 L376.5,506.4 L375.5,506.4 L374.5,506.4 L373.5,506.4 L372.5,506.4 L371.5,506.4 L370.5,506.4 L369.5,506.3 L368.5,506.3 L367.5,506.3 L366.5,506.3 L365.5,506.3 L364.5,506.3 L363.5,506.3 L362.5,506.3 L361.5,506.3 L360.5,506.3 L359.5,506.3 L358.5,506.3 L357.5,506.3 L356.5,506.3 L355.5,506.3 L354.5,506.5 L353.5,506.7 L352.5,507 L351.5,507.2 L350.5,507.5 L349.5,507.7 L348.5,508 L347.5,508.2 L346.5,508.5 L345.5,508.7 L344.5,509 L343.5,509.2 L342.5,509.5 L341.5,509.7 L340.5,510 L339.5,510.2 L338.5,510.3 L337.5,510 L336.5,509.6 L335.5,509.3 L334.5,509 L333.5,508.6 L332.5,508.3 L331.5,507.9 L330.5,507.6 L329.5,507.2 L328.5,507.2 L327.5,507.3 L326.5,507.5 L325.5,507.6 L324.5,507.8 L323.5,507.9 L322.5,508 L321.5,508.2 L320.5,508.3 L319.5,508.5 L318.5,508.6 L317.5,508.8 L316.5,508.9 L315.5,509 L314.5,509.2 L313.5,509.3 L312.5,509.5 L311.5,509.6 L310.5,509.8 L309.5,509.9 L308.5,510 L307.5,510.2 L306.5,510.3 L305.5,510.5 L304.5,510.6 L303.5,510.8 L302.5,510.9 L301.5,511 L300.5,511.2 L299.5,511.3 L298.5,511.5 L297.5,511.6 L296.5,511.8 L295.5,511.9 L294.5,512 L293.5,512.2 L292.5,512.3 L291.5,512.4 L290.5,512.5 L289.5,512.7 L288.5,512.8 L287.5,512.9 L286.5,513 L285.5,513.1 L284.5,513.2 L283.5,513.4 L282.5,513.5 L281.5,513.7 L280.5,513.9 L279.5,514.1 L278.5,514.2 L277.5,514.4 L276.5,514.6 L275.5,514.7 L274.5,514.9 L273.5,515.1 L272.5,515.3 L271.5,515.4 L270.5,515.6 L269.5,515.8 L268.5,515.9 L267.5,515.9 L266.5,516 L265.5,516.1 L264.5,516.2 L263.5,516.3 L262.5,516.3 L261.5,516.4 L260.5,516.5 L259.5,516.6 L258.5,516.6 L257.5,516.7 L256.5,516.8 L255.5,516.9 L254.5,517 L253.5,517 L252.5,517.1 L251.5,517.2 L250.5,517.3 L249.5,517.3 L248.5,517.4 L247.5,517.5 L246.5,517.6 L245.5,517.7 L244.5,517.7 L243.5,517.7 L242.5,517.7 L241.5,517.7 L240.5,517.7 L239.5,517.7 L238.5,517.7 L237.5,517.7 L236.5,517.8 L235.5,517.8 L234.5,517.8 L233.5,517.8 L232.5,517.8 L231.5,517.8 L230.5,517.8 L229.5,517.8 L228.5,517.8 L227.5,517.8 L226.5,517.8 L225.5,517.8 L224.5,517.8 L223.5,517.8 L222.5,517.8 L221.5,517.8 L220.5,517.9 L219.5,517.9 L218.5,517.9 L217.5,517.9 L216.5,517.9 L215.5,517.9 L214.5,517.9 L213.5,517.9 L212.5,517.9 L211.5,517.9 L210.5,517.9 L209.5,517.9 L208.5,517.9 L207.5,517.9 L206.5,517.9 L205.5,517.9 L204.5,518 L203.5,518 L202.5,518 L201.5,518 L200.5,518 L199.5,518 L198.5,518 L197.5,518 L196.5,518 L195.5,518 L194.5,518 L193.5,518 L192.5,518 L191.5,518 L190.5,518 L189.5,518 L188.5,518.1 L187.5,518.1 L186.5,518.1 L185.5,518.1 L184.5,518.1 L183.5,518.1 L182.5,518.1 L181.5,518.1 L180.5,518.2 L179.5,518.2 L178.5,518.3 L177.5,518.4 L176.5,518.4 L175.5,518.5 L174.5,518.6 L173.5,518.7 L172.5,518.7 L171.5,518.8 L170.5,518.9 L169.5,518.9 L168.5,519 L167.5,519.1 L166.5,519.2 L165.5,519.2 L164.5,519.3 L163.5,519.4 L162.5,519.4 L161.5,519.5 L160.5,519.6 L159.5,519.8 L158.5,520 L157.5,520.3 L156.5,520.5 L155.5,520.8 L154.5,521 L153.5,521.3 L152.5,521.4 L151.5,521.5 L150.5,521.5 L149.5,521.6 L148.5,521.6 L147.5,521.7 L146.5,521.7 L145.5,521.8 L144.5,521.8 L143.5,521.9 L142.5,521.9 L141.5,522 L140.5,522 L139.5,522.1 L138.5,522.1 L137.5,522.2 L136.5,522.3 L135.5,522.3 L134.5,522.4 L133.5,522.4 L132.5,522.5 L131.5,522.5 L130.5,522.6 L129.5,522.6Z" fill="rgb(48,140,38)" fill-opacity="0.25"/>
<path d="M129.5,513.2 L130.5,513.1 L131.5,513 L132.5,512.9 L133.5,512.7 L134.5,512.6 L135.5,512.5 L136.5,512.4 L137.5,512.2 L138.5,512.1 L139.5,512 L140.5,511.9 L141.5,511.7 L142.5,511.6 L143.5,511.5 L144.5,511.4 L145.5,511.3 L146.5,511.1 L147.5,511 L148.5,510.9 L149.5,510.8 L150.5,510.6 L151.5,510.7 L152.5,510.9 L153.5,511.1 L154.5,511.2 L155.5,511.4 L156.5,511.1 L157.5,510.7 L158.5,510.4 L159.5,510.1 L160.5,509.7 L161.5,509.4 L162.5,509.1 L163.5,508.7 L164.5,508.4 L165.5,508.4 L166.5,508.5 L167.5,508.6 L168.5,508.7 L169.5,508.9 L170.5,509 L171.5,509.1 L172.5,509.2 L173.5,509.4 L174.5,509.5 L175.5,509.6 L176.5,509.7 L177.5,509.8 L178.5,510 L179.5,510.1 L180.5,510.2 L181.5,510.3 L182.5,510.3 L183.5,510.3 L184.5,510.4 L185.5,510.4 L186.5,510.4 L187.5,510.4 L188.5,510.4 L189.5,510.4 L190.5,510.5 L191.5,510.5 L192.5,510.5 L193.5,510.5 L194.5,510.5 L195.5,510.5 L196.5,510.6 L197.5,510.6 L198.5,510.6 L199.5,510.6 L200.5,510.6 L201.5,510.6 L202.5,510.7 L203.5,510.7 L204.5,510.7 L205.5,510.7 L206.5,510.7 L207.5,510.8 L208.5,510.8 L209.5,510.8 L210.5,510.8 L211.5,510.8 L212.5,510.8 L213.5,510.9 L214.5,510.9 L215.5,510.9 L216.5,510.9 L217.5,510.9 L218.5,510.9 L219.5,511 L220.5,511 L221.5,511 L222.5,511 L223.5,511 L224.5,511 L225.5,511.1 L226.5,511.1 L227.5,511.1 L228.5,511.1 L229.5,511.1 L230.5,511.1 L231.5,511.2 L232.5,511.2 L233.5,511.2 L234.5,511.2 L235.5,511.2 L236.5,511.3 L237.5,511.3 L238.5,511.3 L239.5,511.3 L240.5,511.3 L241.5,511.3 L242.5,511.4 L243.5,511.4 L244.5,511.4 L245.5,511.4 L246.5,511.4 L247.5,511.4 L248.5,511.4 L249.5,511.4 L250.5,511.4 L251.5,511.4 L252.5,511.4 L253.5,511.4 L254.5,511.4 L255.5,511.4 L256.5,511.4 L257.5,511.4 L258.5,511.4 L259.5,511.4 L260.5,511.4 L261.5,511.4 L262.5,511.4 L263.5,511.4 L264.5,511.4 L265.5,511.4 L266.5,511.4 L267.5,511.4 L268.5,511.4 L269.5,511.4 L270.5,511.5 L271.5,511.7 L272.5,511.8 L273.5,511.9 L274.5,512 L275.5,512.1 L276.5,512.3 L277.5,512.4 L278.5,512.5 L279.5,512.6 L280.5,512.7 L281.5,512.8 L282.5,513 L283.5,513.1 L284.5,513.2 L285.5,513.5 L286.5,513.8 L287.5,514.2 L288.5,514.5 L289.5,514.8 L290.5,515.1 L291.5,515.4 L292.5,515.7 L293.5,515.8 L294.5,515.7 L295.5,515.6 L296.5,515.6 L297.5,515.5 L298.5,515.5 L299.5,515.4 L300.5,515.4 L301.5,515.3 L302.5,515.3 L303.5,515.2 L304.5,515.2 L305.5,515.1 L306.5,515 L307.5,515 L308.5,514.9 L309.5,514.9 L310.5,514.8 L311.5,514.8 L312.5,514.7 L313.5,514.7 L314.5,514.6 L315.5,514.5 L316.5,514.5 L317.5,514.4 L318.5,514.4 L319.5,514.3 L320.5,514.3 L321.5,514.2 L322.5,514.2 L323.5,514.1 L324.5,514.1 L325.5,514 L326.5,513.9 L327.5,513.9 L328.5,513.8 L329.5,513.8 L330.5,513.8 L331.5,513.8 L332.5,513.7 L333.5,513.7 L334.5,513.7 L335.5,513.7 L336.5,513.7 L337.5,513.6 L338.5,513.6 L339.5,513.6 L340.5,513.6 L341.5,513.6 L342.5,513.5 L343.5,513.5 L344.5,513.5 L345.5,513.5 L346.5,513.5 L347.5,513.4 L348.5,513.4 L349.5,513.4 L350.5,513.4 L351.5,513.4 L352.5,513.3 L353.5,513.3 L354.5,513.3 L355.5,513.3 L356.5,513.3 L357.5,513.2 L358.5,513.2 L359.5,513.2 L360.5,513.2 L361.5,513.1 L362.5,513.1 L363.5,513.1 L364.5,513 L365.5,513 L366.5,513 L367.5,512.9 L368.5,512.9 L369.5,512.9 L370.5,512.8 L371.5,512.8 L372.5,512.8 L373.5,512.7 L374.5,512.7 L375.5,512.7 L376.5,512.6 L377.5,512.6 L378.5,512.5 L379.5,512.5 L380.5,512.5 L381.5,512.4 L382.5,512.4 L383.5,512.4 L384.5,512.3 L385.5,512.3 L386.5,512.3 L387.5,512.4 L388.5,512.4 L389.5,512.4 L390.5,512.5 L391.5,512.5 L392.5,512.5 L393.5,512.6 L394.5,512.6 L395.5,512.6 L396.5,512.6 L397.5,512.7 L398.5,512.7 L399.5,512.7 L400.5,512.8 L401.5,512.8 L402.5,512.8 L403.5,512.9 L404.5,512.9 L405.5,512.9 L406.5,513 L407.5,513 L408.5,513 L409.5,513 L410.5,513 L411.5,513.1 L412.5,513.1 L413.5,513.1 L414.5,513.1 L415.5,513.1 L416.5,513.1 L417.5,513.1 L418.5,513.1 L419.5,513.2 L420.5,513.2 L421.5,513.2 L422.5,513.2 L423.5,513.2 L424.5,513.2 L425.5,513.2 L426.5,513.3 L427.5,513.3 L428.5,513.3 L429.5,513.3 L430.5,513.3 L431.5,513.3 L432.5,513.3 L433.5,513.4 L434.5,513.4 L435.5,513.4 L436.5,513.4 L437.5,513.4 L438.5,513.4 L439.5,513.5 L440.5,513.5 L441.5,513.5 L442.5,513.6 L443.5,513.6 L444.5,513.6 L445.5,513.6 L446.5,513.7 L447.5,513.7 L448.5,513.7 L449.5,513.8 L450.5,513.8 L451.5,513.8 L452.5,513.8 L453.5,513.9 L454.5,513.9 L455.5,513.9 L456.5,514 L457.5,514 L458.5,514 L459.5,514 L460.5,514.1 L461.5,514.1 L462.5,514.1 L463.5,514.2 L464.5,514.2 L465.5,514.2 L466.5,514.2 L467.5,514.3 L468.5,514.3 L469.5,514.3 L470.5,514.4 L471.5,514.4 L472.5,514.4 L473.5,514.4 L474.5,514.3 L475.5,514.3 L476.5,514.3 L477.5,514.2 L478.5,514.2 L479.5,514.2 L480.5,514.1 L481.5,514.1 L482.5,514.1 L483.5,514.1 L484.5,514 L485.5,514 L486.5,514 L487.5,513.9 L488.5,513.9 L489.5,513.9 L490.5,513.8 L491.5,513.8 L492.5,513.8 L493.5,513.8 L494.5,513.7 L495.5,513.7 L496.5,513.7 L497.5,513.6 L498.5,513.6 L499.5,513.6 L500.5,513.5 L501.5,513.5 L502.5,513.5 L503.5,513.5 L504.5,513.4 L505.5,513.4 L506.5,513.4 L507.5,513.4 L508.5,513.4 L509.5,513.5 L510.5,513.5 L511.5,513.5 L512.5,513.5 L513.5,513.5 L514.5,513.5 L515.5,513.5 L516.5,513.6 L517.5,513.6 L518.5,513.6 L519.5,513.6 L520.5,513.6 L521.5,513.6 L522.5,513.6 L523.5,513.7 L524.5,513.7 L525.5,513.7 L526.5,513.7 L527.5,513.7 L528.5,513.7 L529.5,513.7 L530.5,513.8 L531.5,513.8 L532.5,513.8 L533.5,513.8 L534.5,513.8 L535.5,513.8 L536.5,513.8 L537.5,513.9 L538.5,513.9 L539.5,513.9 L540.5,513.9 L541.5,513.9 L542.5,513.9 L543.5,513.9 L544.5,514 L545.5,514 L546.5,514 L547.5,514 L548.5,514 L549.5,514 L550.5,514 L551.5,514.1 L552.5,514.1 L553.5,514.1 L554.5,514.1 L555.5,514.1 L556.5,514.1 L557.5,514.1 L558.5,514.2 L559.5,514.2 L560.5,514.2 L561.5,514.2 L562.5,514.2 L563.5,514.2 L564.5,514.2 L565.5,514.3 L566.5,514.3 L567.5,514.3 L568.5,514.3 L569.5,514.3 L570.5,514.3 L571.5,514.3 L572.5,514.4 L573.5,514.4 L574.5,514.4 L575.5,514.4 L576.5,514.4 L577.5,514.4 L578.5,514.4 L579.5,514.5 L580.5,514.5 L581.5,514.5 L582.5,514.5 L583.5,514.5 L584.5,514.5 L585.5,514.5 L586.5,514.6 L587.5,514.6 L588.5,514.6 L589.5,514.6 L590.5,514.6 L591.5,514.7 L592.5,514.8 L593.5,514.8 L594.5,514.9 L595.5,515 L596.5,515 L597.5,515.1 L598.5,515.2 L599.5,515.2 L600.5,515.3 L601.5,515.4 L602.5,515.5 L603.5,515.5 L604.5,515.6 L605.5,515.7 L606.5,515.7 L607.5,515.8 L608.5,515.9 L609.5,515.9 L610.5,516 L611.5,516.1 L612.5,516.1 L613.5,516 L614.5,515.9 L615.5,515.9 L616.5,515.8 L617.5,515.8 L618.5,515.7 L619.5,515.6 L620.5,515.6 L621.5,515.5 L622.5,515.5 L623.5,515.4 L624.5,515.3 L625.5,515.3 L626.5,515.2 L627.5,515.1 L628.5,515.1 L629.5,515 L630.5,515 L631.5,514.9 L632.5,514.8 L633.5,514.8 L634.5,514.7 L635.5,514.7 L636.5,514.6 L637.5,514.5 L638.5,514.5 L639.5,514.4 L640.5,514.3 L641.5,514.3 L642.5,514.2 L643.5,514.2 L644.5,514.1 L645.5,514 L646.5,514 L647.5,513.9 L648.5,513.9 L649.5,513.8 L650.5,513.7 L651.5,513.7 L652.5,513.6 L653.5,513.5 L654.5,513.5 L655.5,513.4 L656.5,513.4 L657.5,513.3 L658.5,513.2 L659.5,513.2 L660.5,513.1 L661.5,513 L662.5,513 L663.5,513 L664.5,513 L665.5,513 L666.5,513 L667.5,513 L668.5,513.1 L669.5,513.1 L670.5,513.1 L671.5,513.1 L672.5,513.1 L673.5,513.1 L674.5,513.1 L675.5,513.1 L676.5,513.1 L677.5,513.1 L678.5,513.2 L679.5,513.2 L680.5,513.2 L681.5,513.2 L682.5,513.2 L683.5,513.2 L684.5,513.2 L685.5,513.2 L686.5,513.2 L687.5,513.2 L688.5,513.2 L689.5,513.3 L690.5,513.3 L691.5,513.3 L692.5,513.3 L693.5,513.3 L694.5,513.3 L695.5,513.3 L696.5,513.3 L697.5,513.3 L698.5,513.3 L699.5,513.3 L700.5,513.4 L701.5,513.4 L702.5,513.4 L703.5,513.4 L704.5,513.4 L705.5,513.4 L706.5,513.3 L707.5,513.3 L708.5,513.3 L709.5,513.2 L710.5,513.2 L711.5,513.2 L712.5,513.1 L713.5,513.1 L714.5,513.1 L715.5,513 L716.5,513 L717.5,513 L718.5,512.9 L719.5,512.9 L720.5,512.9 L721.5,512.8 L722.5,512.8 L723.5,512.7 L724.5,512.6 L725.5,512.6 L726.5,512.5 L727.5,512.5 L728.5,512.4 L729.5,512.2 L730.5,512.1 L731.5,511.9 L732.5,511.8 L733.5,511.6 L734.5,511.5 L735.5,511.4 L736.5,511.2 L737.5,511.1 L738.5,510.9 L739.5,510.8 L740.5,510.7 L741.5,510.5 L742.5,510.4 L743.5,510.2 L744.5,510.1 L745.5,510 L746.5,509.9 L747.5,509.8 L748.5,509.7 L749.5,509.6 L750.5,509.5 L751.5,509.4 L752.5,509.3 L753.5,509.2 L754.5,509.1 L755.5,509 L755.5,536.5 L754.5,536.6 L753.5,536.9 L752.5,537.1 L751.5,537.4 L750.5,537.6 L749.5,537.6 L748.5,537.6 L747.5,537.5 L746.5,537.4 L745.5,537.6 L744.5,538 L743.5,538.3 L742.5,538.7 L741.5,539.1 L740.5,539.5 L739.5,539.8 L738.5,539.9 L737.5,539.9 L736.5,540 L735.5,540 L734.5,540 L733.5,540.1 L732.5,540.1 L731.5,540.2 L730.5,540.2 L729.5,540.3 L728.5,540.2 L727.5,540.1 L726.5,540 L725.5,540 L724.5,539.9 L723.5,539.8 L722.5,539.7 L721.5,539.6 L720.5,539.5 L719.5,539.4 L718.5,539.4 L717.5,539.4 L716.5,539.4 L715.5,539.5 L714.5,539.5 L713.5,539.5 L712.5,539.5 L711.5,539.5 L710.5,539.5 L709.5,539.5 L708.5,539.6 L707.5,539.6 L706.5,539.6 L705.5,539.6 L704.5,539.6 L703.5,539.5 L702.5,539.4 L701.5,539.3 L700.5,539.2 L699.5,539.1 L698.5,539 L697.5,538.9 L696.5,538.8 L695.5,538.7 L694.5,538.9 L693.5,539.1 L692.5,539.3 L691.5,539.6 L690.5,539.8 L689.5,539.8 L688.5,539.9 L687.5,539.9 L686.5,539.9 L685.5,539.9 L684.5,540 L683.5,540 L682.5,540 L681.5,540.1 L680.5,540.1 L679.5,540.1 L678.5,540.1 L677.5,540.2 L676.5,540.2 L675.5,540.1 L674.5,540 L673.5,540 L672.5,539.9 L671.5,539.8 L670.5,539.7 L669.5,539.6 L668.5,539.5 L667.5,539.4 L666.5,539.4 L665.5,539.3 L664.5,539.2 L663.5,539.1 L662.5,539 L661.5,539 L660.5,539.1 L659.5,539.1 L658.5,539.1 L657.5,539.2 L656.5,539.2 L655.5,539.2 L654.5,539.3 L653.5,539.3 L652.5,539.3 L651.5,539.4 L650.5,539.4 L649.5,539.4 L648.5,539.4 L647.5,539.5 L646.5,539.5 L645.5,539.5 L644.5,539.6 L643.5,539.6 L642.5,539.6 L641.5,539.7 L640.5,539.7 L639.5,539.7 L638.5,539.8 L637.5,539.8 L636.5,539.9 L635.5,540 L634.5,540 L633.5,540.1 L632.5,540.2 L631.5,540.3 L630.5,540.3 L629.5,540.4 L628.5,540.5 L627.5,540.6 L626.5,540.6 L625.5,540.7 L624.5,540.8 L623.5,540.8 L622.5,540.9 L621.5,541 L620.5,541.1 L619.5,541.1 L618.5,541.2 L617.5,541.3 L616.5,541.4 L615.5,541.4 L614.5,541.5 L613.5,541.6 L612.5,541.7 L611.5,541.7 L610.5,541.6 L609.5,541.6 L608.5,541.5 L607.5,541.5 L606.5,541.4 L605.5,541.3 L604.5,541.3 L603.5,541.2 L602.5,541.2 L601.5,541.1 L600.5,541.1 L599.5,541 L598.5,541 L597.5,540.9 L596.5,540.9 L595.5,540.8 L594.5,540.7 L593.5,540.7 L592.5,540.6 L591.5,540.6 L590.5,540.5 L589.5,540.5 L588.5,540.4 L587.5,540.4 L586.5,540.4 L585.5,540.3 L584.5,540.3 L583.5,540.3 L582.5,540.2 L581.5,540.2 L580.5,540.2 L579.5,540.1 L578.5,540.1 L577.5,540.1 L576.5,540 L575.5,540 L574.5,540 L573.5,539.9 L572.5,539.9 L571.5,539.9 L570.5,539.8 L569.5,539.8 L568.5,539.8 L567.5,539.8 L566.5,539.8 L565.5,539.8 L564.5,539.8 L563.5,539.8 L562.5,539.8 L561.5,539.8 L560.5,539.8 L559.5,539.8 L558.5,539.7 L557.5,539.7 L556.5,539.7 L555.5,539.7 L554.5,539.7 L553.5,539.7 L552.5,539.7 L551.5,539.7 L550.5,539.7 L549.5,539.7 L548.5,539.7 L547.5,539.7 L546.5,539.7 L545.5,539.7 L544.5,539.7 L543.5,539.7 L542.5,539.7 L541.5,539.7 L540.5,539.7 L539.5,539.7 L538.5,539.6 L537.5,539.6 L536.5,539.6 L535.5,539.6 L534.5,539.6 L533.5,539.6 L532.5,539.6 L531.5,539.6 L530.5,539.6 L529.5,539.6 L528.5,539.6 L527.5,539.6 L526.5,539.7 L525.5,539.7 L524.5,539.8 L523.5,539.8 L522.5,539.8 L521.5,539.9 L520.5,539.9 L519.5,540 L518.5,540 L517.5,540 L516.5,540.1 L515.5,540.1 L514.5,540.1 L513.5,540.2 L512.5,540.2 L511.5,540.3 L510.5,540.3 L509.5,540.3 L508.5,540.4 L507.5,540.4 L506.5,540.5 L505.5,540.5 L504.5,540.4 L503.5,540.3 L502.5,540.2 L501.5,540.2 L500.5,540.1 L499.5,540 L498.5,539.9 L497.5,539.8 L496.5,539.7 L495.5,539.6 L494.5,539.5 L493.5,539.4 L492.5,539.4 L491.5,539.4 L490.5,539.4 L489.5,539.4 L488.5,539.4 L487.5,539.4 L486.5,539.4 L485.5,539.4 L484.5,539.4 L483.5,539.4 L482.5,539.4 L481.5,539.4 L480.5,539.4 L479.5,539.4 L478.5,539.4 L477.5,539.4 L476.5,539.4 L475.5,539.4 L474.5,539.4 L473.5,539.4 L472.5,539.8 L471.5,540.3 L470.5,540.7 L469.5,541 L468.5,540.9 L467.5,540.9 L466.5,540.8 L465.5,540.8 L464.5,540.7 L463.5,540.6 L462.5,540.6 L461.5,540.5 L460.5,540.5 L459.5,540.4 L458.5,540.4 L457.5,540.3 L456.5,540.2 L455.5,540.2 L454.5,540.1 L453.5,540.1 L452.5,540 L451.5,540 L450.5,539.9 L449.5,539.8 L448.5,539.8 L447.5,539.8 L446.5,539.8 L445.5,539.8 L444.5,539.8 L443.5,539.7 L442.5,539.7 L441.5,539.7 L440.5,539.7 L439.5,539.7 L438.5,539.7 L437.5,539.7 L436.5,539.7 L435.5,539.7 L434.5,539.7 L433.5,539.7 L432.5,539.6 L431.5,539.6 L430.5,539.6 L429.5,539.6 L428.5,539.6 L427.5,539.6 L426.5,539.6 L425.5,539.6 L424.5,539.6 L423.5,539.6 L422.5,539.5 L421.5,539.5 L420.5,539.5 L419.5,539.5 L418.5,539.5 L417.5,539.5 L416.5,539.5 L415.5,539.5 L414.5,539.5 L413.5,539.5 L412.5,539.4 L411.5,539.4 L410.5,539.4 L409.5,539.4 L408.5,539.4 L407.5,539.4 L406.5,539.4 L405.5,539.3 L404.5,539.3 L403.5,539.3 L402.5,539.2 L401.5,539.2 L400.5,539.1 L399.5,539.1 L398.5,539.1 L397.5,539 L396.5,539 L395.5,539 L394.5,538.9 L393.5,538.9 L392.5,538.9 L391.5,538.8 L390.5,538.8 L389.5,538.8 L388.5,538.7 L387.5,538.8 L386.5,539.1 L385.5,539.4 L384.5,539.7 L383.5,539.8 L382.5,539.8 L381.5,539.8 L380.5,539.8 L379.5,539.8 L378.5,539.8 L377.5,539.7 L376.5,539.7 L375.5,539.7 L374.5,539.7 L373.5,539.7 L372.5,539.7 L371.5,539.7 L370.5,539.7 L369.5,539.7 L368.5,539.7 L367.5,539.7 L366.5,539.7 L365.5,539.6 L364.5,539.6 L363.5,539.6 L362.5,539.6 L361.5,539.6 L360.5,539.6 L359.5,539.6 L358.5,539.6 L357.5,539.6 L356.5,539.6 L355.5,539.6 L354.5,539.6 L353.5,539.6 L352.5,539.6 L351.5,539.5 L350.5,539.5 L349.5,539.5 L348.5,539.5 L347.5,539.5 L346.5,539.5 L345.5,539.5 L344.5,539.5 L343.5,539.5 L342.5,539.5 L341.5,539.5 L340.5,539.5 L339.5,539.5 L338.5,539.5 L337.5,539.5 L336.5,539.4 L335.5,539.4 L334.5,539.4 L333.5,539.4 L332.5,539.4 L331.5,539.4 L330.5,539.4 L329.5,539.4 L328.5,539.4 L327.5,539.4 L326.5,539.5 L325.5,539.5 L324.5,539.5 L323.5,539.5 L322.5,539.6 L321.5,539.6 L320.5,539.6 L319.5,539.6 L318.5,539.7 L317.5,539.7 L316.5,539.7 L315.5,539.7 L314.5,539.8 L313.5,539.8 L312.5,539.8 L311.5,539.9 L310.5,540 L309.5,540 L308.5,540.1 L307.5,540.1 L306.5,540.2 L305.5,540.3 L304.5,540.3 L303.5,540.4 L302.5,540.4 L301.5,540.5 L300.5,540.5 L299.5,540.6 L298.5,540.7 L297.5,540.7 L296.5,540.8 L295.5,540.8 L294.5,540.9 L293.5,541 L292.5,541 L291.5,540.9 L290.5,540.8 L289.5,540.7 L288.5,540.6 L287.5,540.5 L286.5,540.4 L285.5,540.3 L284.5,540.2 L283.5,540 L282.5,539.9 L281.5,539.7 L280.5,539.6 L279.5,539.4 L278.5,539.3 L277.5,539.1 L276.5,538.9 L275.5,538.8 L274.5,538.6 L273.5,538.5 L272.5,538.3 L271.5,538.1 L270.5,538 L269.5,537.8 L268.5,537.8 L267.5,537.9 L266.5,537.9 L265.5,537.9 L264.5,538 L263.5,538 L262.5,538.1 L261.5,538.1 L260.5,538.1 L259.5,538.2 L258.5,538.2 L257.5,538.2 L256.5,538.3 L255.5,538.3 L254.5,538.3 L253.5,538.4 L252.5,538.4 L251.5,538.5 L250.5,538.5 L249.5,538.5 L248.5,538.6 L247.5,538.6 L246.5,538.6 L245.5,538.7 L244.5,538.7 L243.5,538.7 L242.5,538.7 L241.5,538.7 L240.5,538.6 L239.5,538.6 L238.5,538.6 L237.5,538.6 L236.5,538.6 L235.5,538.6 L234.5,538.6 L233.5,538.5 L232.5,538.5 L231.5,538.5 L230.5,538.5 L229.5,538.5 L228.5,538.5 L227.5,538.5 L226.5,538.4 L225.5,538.4 L224.5,538.4 L223.5,538.4 L222.5,538.4 L221.5,538.4 L220.5,538.4 L219.5,538.3 L218.5,538.3 L217.5,538.3 L216.5,538.3 L215.5,538.3 L214.5,538.3 L213.5,538.3 L212.5,538.2 L211.5,538.2 L210.5,538.2 L209.5,538.2 L208.5,538.2 L207.5,538.2 L206.5,538.2 L205.5,538.1 L204.5,538.1 L203.5,538.1 L202.5,538.1 L201.5,538.1 L200.5,538.1 L199.5,538.1 L198.5,538 L197.5,538 L196.5,538 L195.5,538 L194.5,538 L193.5,538 L192.5,538 L191.5,537.9 L190.5,537.9 L189.5,537.9 L188.5,537.9 L187.5,537.9 L186.5,537.9 L185.5,537.9 L184.5,537.8 L183.5,537.8 L182.5,537.8 L181.5,537.8 L180.5,537.7 L179.5,537.7 L178.5,537.6 L177.5,537.5 L176.5,537.4 L175.5,537.3 L174.5,537.3 L173.5,537.2 L172.5,537.1 L171.5,537 L170.5,536.9 L169.5,536.8 L168.5,536.8 L167.5,536.7 L166.5,536.6 L165.5,536.5 L164.5,536.4 L163.5,536.4 L162.5,536.3 L161.5,536.2 L160.5,536.1 L159.5,536.6 L158.5,537.3 L157.5,538 L156.5,538.7 L155.5,539.4 L154.5,539 L153.5,538.6 L152.5,538.4 L151.5,538.4 L150.5,538.5 L149.5,538.5 L148.5,538.5 L147.5,538.5 L146.5,538.6 L145.5,538.6 L144.5,538.6 L143.5,538.6 L142.5,538.7 L141.5,538.7 L140.5,538.7 L139.5,538.7 L138.5,538.8 L137.5,538.8 L136.5,538.8 L135.5,538.9 L134.5,538.9 L133.5,538.9 L132.5,538.9 L131.5,539 L130.5,539 L129.5,539Z" fill="rgb(14,137,164)" fill-opacity="0.25"/>
<path d="M129.5,533.7 L130.5,533.7 L131.5,533.6 L132.5,533.5 L133.5,533.5 L134.5,533.4 L135.5,533.4 L136.5,533.3 L137.5,533.3 L138.5,533.2 L139.5,533.1 L140.5,533.1 L141.5,533 L142.5,533 L143.5,532.9 L144.5,532.9 L145.5,532.8 L146.5,532.7 L147.5,532.7 L148.5,532.6 L149.5,532.6 L150.5,532.5 L151.5,532.8 L152.5,533.2 L153.5,533.5 L154.5,533.9 L155.5,534.3 L156.5,534.2 L157.5,534.1 L158.5,534 L159.5,533.9 L160.5,533.9 L161.5,533.8 L162.5,533.7 L163.5,533.6 L164.5,533.5 L165.5,533.4 L166.5,533.3 L167.5,533.2 L168.5,533.1 L169.5,533.1 L170.5,533 L171.5,532.9 L172.5,532.8 L173.5,532.7 L174.5,532.6 L175.5,532.5 L176.5,532.4 L177.5,532.3 L178.5,532.2 L179.5,532.2 L180.5,532.1 L181.5,532 L182.5,532 L183.5,532 L184.5,532 L185.5,532.1 L186.5,532.1 L187.5,532.1 L188.5,532.1 L189.5,532.1 L190.5,532.1 L191.5,532.1 L192.5,532.2 L193.5,532.2 L194.5,532.2 L195.5,532.2 L196.5,532.2 L197.5,532.2 L198.5,532.2 L199.5,532.3 L200.5,532.3 L201.5,532.3 L202.5,532.3 L203.5,532.3 L204.5,532.3 L205.5,532.3 L206.5,532.4 L207.5,532.4 L208.5,532.4 L209.5,532.4 L210.5,532.4 L211.5,532.4 L212.5,532.4 L213.5,532.5 L214.5,532.5 L215.5,532.5 L216.5,532.5 L217.5,532.5 L218.5,532.5 L219.5,532.5 L220.5,532.6 L221.5,532.6 L222.5,532.6 L223.5,532.6 L224.5,532.6 L225.5,532.6 L226.5,532.6 L227.5,532.7 L228.5,532.7 L229.5,532.7 L230.5,532.7 L231.5,532.7 L232.5,532.7 L233.5,532.7 L234.5,532.8 L235.5,532.8 L236.5,532.8 L237.5,532.8 L238.5,532.8 L239.5,532.8 L240.5,532.8 L241.5,532.9 L242.5,532.9 L243.5,532.9 L244.5,532.9 L245.5,532.9 L246.5,532.8 L247.5,532.8 L248.5,532.8 L249.5,532.7 L250.5,532.7 L251.5,532.6 L252.5,532.6 L253.5,532.6 L254.5,532.5 L255.5,532.5 L256.5,532.4 L257.5,532.4 L258.5,532.4 L259.5,532.3 L260.5,532.3 L261.5,532.2 L262.5,532.2 L263.5,532.2 L264.5,532.1 L265.5,532.1 L266.5,532 L267.5,532 L268.5,532 L269.5,531.9 L270.5,531.9 L271.5,531.8 L272.5,531.8 L273.5,531.8 L274.5,531.7 L275.5,531.7 L276.5,531.6 L277.5,531.6 L278.5,531.6 L279.5,531.5 L280.5,531.5 L281.5,531.4 L282.5,531.4 L283.5,531.4 L284.5,531.3 L285.5,531.3 L286.5,531.2 L287.5,531.2 L288.5,531.2 L289.5,531.1 L290.5,531.1 L291.5,531 L292.5,531 L293.5,531.6 L294.5,532.4 L295.5,533.1 L296.5,533.7 L297.5,533.5 L298.5,533.4 L299.5,533.2 L300.5,533.1 L301.5,532.9 L302.5,532.8 L303.5,532.6 L304.5,532.5 L305.5,532.3 L306.5,532.2 L307.5,532 L308.5,531.8 L309.5,531.7 L310.5,531.5 L311.5,531.4 L312.5,531.2 L313.5,531.1 L314.5,530.9 L315.5,530.8 L316.5,530.6 L317.5,530.5 L318.5,530.3 L319.5,530.2 L320.5,530 L321.5,529.9 L322.5,530 L323.5,530.3 L324.5,530.7 L325.5,531 L326.5,531.3 L327.5,531.3 L328.5,531.1 L329.5,531 L330.5,530.8 L331.5,530.6 L332.5,530.5 L333.5,530.3 L334.5,530.2 L335.5,530 L336.5,529.8 L337.5,529.7 L338.5,529.5 L339.5,529.4 L340.5,529.2 L341.5,529.1 L342.5,528.9 L343.5,528.7 L344.5,528.6 L345.5,528.5 L346.5,528.4 L347.5,528.3 L348.5,528.2 L349.5,528.1 L350.5,528.1 L351.5,528 L352.5,527.9 L353.5,527.8 L354.5,527.7 L355.5,527.7 L356.5,527.6 L357.5,527.5 L358.5,527.4 L359.5,527.3 L360.5,527.3 L361.5,527.3 L362.5,527.3 L363.5,527.3 L364.5,527.3 L365.5,527.3 L366.5,527.3 L367.5,527.3 L368.5,527.3 L369.5,527.3 L370.5,527.3 L371.5,527.3 L372.5,527.4 L373.5,527.4 L374.5,527.4 L375.5,527.4 L376.5,527.4 L377.5,527.4 L378.5,527.4 L379.5,527.4 L380.5,527.4 L381.5,527.4 L382.5,527.4 L383.5,527.4 L384.5,527.4 L385.5,527.4 L386.5,527.4 L387.5,527.4 L388.5,527.4 L389.5,527.4 L390.5,527.4 L391.5,527.4 L392.5,527.4 L393.5,527.4 L394.5,527.4 L395.5,527.4 L396.5,527.5 L397.5,527.5 L398.5,527.5 L399.5,527.5 L400.5,527.5 L401.5,527.5 L402.5,527.5 L403.5,527.5 L404.5,527.5 L405.5,527.5 L406.5,527.5 L407.5,527.5 L408.5,527.5 L409.5,527.5 L410.5,527.5 L411.5,527.6 L412.5,527.6 L413.5,527.6 L414.5,527.6 L415.5,527.6 L416.5,527.6 L417.5,527.7 L418.5,527.7 L419.5,527.7 L420.5,527.7 L421.5,527.7 L422.5,527.7 L423.5,527.8 L424.5,527.8 L425.5,527.8 L426.5,527.8 L427.5,527.8 L428.5,527.9 L429.5,527.9 L430.5,527.9 L431.5,527.9 L432.5,527.9 L433.5,527.9 L434.5,528 L435.5,528 L436.5,528 L437.5,528 L438.5,528 L439.5,528 L440.5,528.1 L441.5,528.1 L442.5,528.1 L443.5,528.1 L444.5,528.1 L445.5,528.1 L446.5,528.2 L447.5,528.2 L448.5,528.2 L449.5,528.2 L450.5,528.2 L451.5,528.2 L452.5,528.3 L453.5,528.3 L454.5,528.3 L455.5,528.3 L456.5,528.3 L457.5,528.3 L458.5,528.4 L459.5,528.4 L460.5,528.4 L461.5,528.4 L462.5,528.4 L463.5,528.4 L464.5,528.5 L465.5,528.5 L466.5,528.5 L467.5,528.7 L468.5,529.1 L469.5,529.5 L470.5,529.8 L471.5,530.2 L472.5,530.6 L473.5,531 L474.5,530.9 L475.5,530.9 L476.5,530.8 L477.5,530.8 L478.5,530.7 L479.5,530.7 L480.5,530.6 L481.5,530.6 L482.5,530.5 L483.5,530.5 L484.5,530.4 L485.5,530.4 L486.5,530.3 L487.5,530.3 L488.5,530.2 L489.5,530.2 L490.5,530.1 L491.5,530.1 L492.5,530 L493.5,530 L494.5,529.9 L495.5,529.9 L496.5,529.8 L497.5,529.7 L498.5,529.7 L499.5,529.6 L500.5,529.5 L501.5,529.5 L502.5,529.4 L503.5,529.4 L504.5,529.3 L505.5,529.2 L506.5,529.2 L507.5,529.1 L508.5,529 L509.5,529 L510.5,528.9 L511.5,528.8 L512.5,528.8 L513.5,528.7 L514.5,528.7 L515.5,528.6 L516.5,528.5 L517.5,528.5 L518.5,528.4 L519.5,528.3 L520.5,528.3 L521.5,528.2 L522.5,528.1 L523.5,528.1 L524.5,528 L525.5,528 L526.5,527.9 L527.5,527.9 L528.5,527.9 L529.5,527.9 L530.5,527.9 L531.5,527.9 L532.5,527.9 L533.5,527.9 L534.5,527.8 L535.5,527.8 L536.5,527.8 L537.5,527.8 L538.5,527.8 L539.5,527.8 L540.5,527.8 L541.5,527.8 L542.5,527.8 L543.5,527.8 L544.5,527.8 L545.5,527.8 L546.5,527.8 L547.5,527.8 L548.5,527.8 L549.5,527.8 L550.5,527.7 L551.5,527.7 L552.5,527.7 L553.5,527.7 L554.5,527.7 L555.5,527.7 L556.5,527.7 L557.5,527.7 L558.5,527.7 L559.5,527.7 L560.5,527.7 L561.5,527.7 L562.5,527.7 L563.5,527.7 L564.5,527.7 L565.5,527.7 L566.5,527.6 L567.5,527.6 L568.5,527.6 L569.5,527.6 L570.5,527.6 L571.5,527.6 L572.5,527.6 L573.5,527.6 L574.5,527.6 L575.5,527.6 L576.5,527.6 L577.5,527.6 L578.5,527.6 L579.5,527.6 L580.5,527.6 L581.5,527.6 L582.5,527.5 L583.5,527.5 L584.5,527.5 L585.5,527.5 L586.5,527.5 L587.5,527.5 L588.5,527.5 L589.5,527.5 L590.5,527.5 L591.5,527.6 L592.5,527.7 L593.5,527.8 L594.5,527.9 L595.5,528 L596.5,528.1 L597.5,528.2 L598.5,528.3 L599.5,528.4 L600.5,528.5 L601.5,528.5 L602.5,528.6 L603.5,528.7 L604.5,528.8 L605.5,528.9 L606.5,529 L607.5,529.1 L608.5,529.2 L609.5,529.3 L610.5,529.4 L611.5,529.5 L612.5,529.5 L613.5,529.4 L614.5,529.4 L615.5,529.4 L616.5,529.3 L617.5,529.3 L618.5,529.2 L619.5,529.2 L620.5,529.2 L621.5,529.1 L622.5,529.1 L623.5,529 L624.5,529 L625.5,529 L626.5,528.9 L627.5,528.9 L628.5,528.8 L629.5,528.8 L630.5,528.8 L631.5,528.7 L632.5,528.7 L633.5,528.6 L634.5,528.6 L635.5,528.6 L636.5,528.5 L637.5,528.5 L638.5,528.4 L639.5,528.4 L640.5,528.4 L641.5,528.3 L642.5,528.3 L643.5,528.2 L644.5,528.2 L645.5,528.2 L646.5,528.1 L647.5,528.1 L648.5,528 L649.5,528 L650.5,528 L651.5,527.9 L652.5,527.9 L653.5,527.8 L654.5,527.8 L655.5,527.8 L656.5,527.7 L657.5,527.7 L658.5,527.6 L659.5,527.6 L660.5,527.6 L661.5,527.5 L662.5,527.5 L663.5,527.5 L664.5,527.5 L665.5,527.5 L666.5,527.5 L667.5,527.5 L668.5,527.5 L669.5,527.5 L670.5,527.5 L671.5,527.5 L672.5,527.5 L673.5,527.5 L674.5,527.5 L675.5,527.5 L676.5,527.5 L677.5,527.5 L678.5,527.5 L679.5,527.5 L680.5,527.5 L681.5,527.5 L682.5,527.5 L683.5,527.5 L684.5,527.5 L685.5,527.5 L686.5,527.5 L687.5,527.5 L688.5,527.5 L689.5,527.5 L690.5,527.5 L691.5,527.5 L692.5,527.5 L693.5,527.5 L694.5,527.5 L695.5,527.5 L696.5,527.5 L697.5,527.5 L698.5,527.5 L699.5,527.5 L700.5,527.5 L701.5,527.6 L702.5,527.6 L703.5,527.7 L704.5,527.8 L705.5,527.8 L706.5,527.9 L707.5,527.9 L708.5,528 L709.5,528 L710.5,528.1 L711.5,528.1 L712.5,528.2 L713.5,528.2 L714.5,528.3 L715.5,528.4 L716.5,528.4 L717.5,528.5 L718.5,528.5 L719.5,528.6 L720.5,528.6 L721.5,528.7 L722.5,528.8 L723.5,528.8 L724.5,528.9 L725.5,528.9 L726.5,529 L727.5,529 L728.5,528.9 L729.5,528.9 L730.5,528.8 L731.5,528.8 L732.5,528.7 L733.5,528.7 L734.5,528.6 L735.5,528.6 L736.5,528.5 L737.5,528.5 L738.5,528.4 L739.5,528.4 L740.5,528.3 L741.5,528.3 L742.5,528.2 L743.5,528.2 L744.5,528.1 L745.5,528 L746.5,528 L747.5,527.9 L748.5,527.9 L749.5,527.8 L750.5,527.8 L751.5,527.7 L752.5,527.6 L753.5,527.6 L754.5,527.5 L755.5,527.5 L755.5,542.8 L754.5,542.8 L753.5,542.8 L752.5,542.8 L751.5,542.8 L750.5,542.8 L749.5,542.8 L748.5,542.8 L747.5,542.8 L746.5,542.8 L745.5,542.8 L744.5,542.8 L743.5,542.8 L742.5,542.8 L741.5,542.8 L740.5,542.8 L739.5,542.8 L738.5,542.8 L737.5,542.8 L736.5,542.8 L735.5,542.8 L734.5,542.8 L733.5,543 L732.5,543.2 L731.5,543.4 L730.5,543.5 L729.5,543.7 L728.5,543.9 L727.5,544.1 L726.5,544 L725.5,544 L724.5,543.9 L723.5,543.9 L722.5,543.8 L721.5,543.7 L720.5,543.7 L719.5,543.6 L718.5,543.6 L717.5,543.5 L716.5,543.5 L715.5,543.4 L714.5,543.3 L713.5,543.3 L712.5,543.2 L711.5,543.2 L710.5,543.1 L709.5,543 L708.5,543 L707.5,542.9 L706.5,542.9 L705.5,542.8 L704.5,542.8 L703.5,542.7 L702.5,542.6 L701.5,542.6 L700.5,542.5 L699.5,542.5 L698.5,542.4 L697.5,542.6 L696.5,542.7 L695.5,542.9 L694.5,543 L693.5,543.2 L692.5,543.4 L691.5,543.5 L690.5,543.7 L689.5,543.6 L688.5,543.6 L687.5,543.5 L686.5,543.4 L685.5,543.4 L684.5,543.3 L683.5,543.3 L682.5,543.2 L681.5,543.1 L680.5,543.1 L679.5,543 L678.5,542.9 L677.5,542.9 L676.5,542.8 L675.5,542.7 L674.5,542.7 L673.5,542.6 L672.5,542.6 L671.5,542.5 L670.5,542.4 L669.5,542.4 L668.5,542.3 L667.5,542.2 L666.5,542.2 L665.5,542.1 L664.5,542 L663.5,542 L662.5,541.9 L661.5,541.9 L660.5,542 L659.5,542 L658.5,542.1 L657.5,542.1 L656.5,542.2 L655.5,542.2 L654.5,542.3 L653.5,542.3 L652.5,542.4 L651.5,542.4 L650.5,542.5 L649.5,542.5 L648.5,542.6 L647.5,542.6 L646.5,542.7 L645.5,542.7 L644.5,542.7 L643.5,542.8 L642.5,542.8 L641.5,542.9 L640.5,542.9 L639.5,543 L638.5,543 L637.5,543.1 L636.5,543.1 L635.5,543.2 L634.5,543.2 L633.5,543.3 L632.5,543.3 L631.5,543.4 L630.5,543.4 L629.5,543.5 L628.5,543.5 L627.5,543.6 L626.5,543.6 L625.5,543.7 L624.5,543.7 L623.5,543.8 L622.5,543.8 L621.5,543.8 L620.5,543.9 L619.5,543.9 L618.5,544 L617.5,544 L616.5,544.1 L615.5,544.1 L614.5,544.2 L613.5,544.2 L612.5,544.3 L611.5,544.3 L610.5,544.2 L609.5,544.2 L608.5,544.1 L607.5,544.1 L606.5,544 L605.5,543.9 L604.5,543.9 L603.5,543.8 L602.5,543.8 L601.5,543.7 L600.5,543.7 L599.5,543.6 L598.5,543.6 L597.5,543.5 L596.5,543.5 L595.5,543.4 L594.5,543.3 L593.5,543.3 L592.5,543.2 L591.5,543.2 L590.5,543.1 L589.5,543.1 L588.5,543.1 L587.5,543.1 L586.5,543.1 L585.5,543 L584.5,543 L583.5,543 L582.5,543 L581.5,543 L580.5,543 L579.5,543 L578.5,543 L577.5,542.9 L576.5,542.9 L575.5,542.9 L574.5,542.9 L573.5,542.9 L572.5,542.9 L571.5,542.9 L570.5,542.9 L569.5,542.8 L568.5,542.8 L567.5,542.8 L566.5,542.8 L565.5,542.8 L564.5,542.8 L563.5,542.8 L562.5,542.8 L561.5,542.7 L560.5,542.7 L559.5,542.7 L558.5,542.7 L557.5,542.7 L556.5,542.7 L555.5,542.7 L554.5,542.7 L553.5,542.6 L552.5,542.6 L551.5,542.6 L550.5,542.6 L549.5,542.6 L548.5,542.6 L547.5,542.6 L546.5,542.6 L545.5,542.5 L544.5,542.5 L543.5,542.5 L542.5,542.5 L541.5,542.5 L540.5,542.5 L539.5,542.5 L538.5,542.5 L537.5,542.4 L536.5,542.4 L535.5,542.4 L534.5,542.4 L533.5,542.4 L532.5,542.4 L531.5,542.4 L530.5,542.4 L529.5,542.3 L528.5,542.3 L527.5,542.3 L526.5,542.3 L525.5,542.3 L524.5,542.4 L523.5,542.4 L522.5,542.4 L521.5,542.5 L520.5,542.5 L519.5,542.6 L518.5,542.6 L517.5,542.6 L516.5,542.7 L515.5,542.7 L514.5,542.7 L513.5,542.8 L512.5,542.8 L511.5,542.9 L510.5,542.9 L509.5,542.9 L508.5,543 L507.5,543 L506.5,543 L505.5,543.1 L504.5,543.1 L503.5,543.2 L502.5,543.2 L501.5,543.2 L500.5,543.3 L499.5,543.3 L498.5,543.4 L497.5,543.4 L496.5,543.4 L495.5,543.5 L494.5,543.5 L493.5,543.5 L492.5,543.6 L491.5,543.6 L490.5,543.7 L489.5,543.7 L488.5,543.7 L487.5,543.8 L486.5,543.8 L485.5,543.8 L484.5,543.9 L483.5,543.9 L482.5,544 L481.5,544 L480.5,544 L479.5,544.1 L478.5,544.1 L477.5,544.1 L476.5,544.2 L475.5,544.2 L474.5,544.3 L473.5,544.3 L472.5,544.3 L471.5,544.2 L470.5,544.2 L469.5,544.2 L468.5,544.1 L467.5,544.1 L466.5,544 L465.5,544 L464.5,544 L463.5,543.9 L462.5,543.9 L461.5,543.9 L460.5,543.8 L459.5,543.8 L458.5,543.8 L457.5,543.7 L456.5,543.7 L455.5,543.6 L454.5,543.6 L453.5,543.6 L452.5,543.5 L451.5,543.5 L450.5,543.5 L449.5,543.4 L448.5,543.4 L447.5,543.4 L446.5,543.3 L445.5,543.3 L444.5,543.2 L443.5,543.2 L442.5,543.2 L441.5,543.1 L440.5,543.1 L439.5,543.1 L438.5,543 L437.5,543 L436.5,543 L435.5,542.9 L434.5,542.9 L433.5,542.8 L432.5,542.8 L431.5,542.8 L430.5,542.7 L429.5,542.7 L428.5,542.7 L427.5,542.6 L426.5,542.6 L425.5,542.5 L424.5,542.5 L423.5,542.5 L422.5,542.4 L421.5,542.4 L420.5,542.4 L419.5,542.3 L418.5,542.3 L417.5,542.3 L416.5,542.2 L415.5,542.2 L414.5,542.1 L413.5,542.1 L412.5,542.1 L411.5,542 L410.5,542 L409.5,542 L408.5,541.9 L407.5,541.9 L406.5,541.9 L405.5,541.9 L404.5,541.9 L403.5,541.9 L402.5,541.9 L401.5,541.9 L400.5,541.9 L399.5,541.9 L398.5,541.9 L397.5,541.9 L396.5,541.9 L395.5,541.9 L394.5,541.9 L393.5,541.9 L392.5,541.9 L391.5,541.9 L390.5,541.9 L389.5,541.9 L388.5,541.9 L387.5,541.9 L386.5,541.9 L385.5,541.9 L384.5,541.9 L383.5,541.9 L382.5,541.9 L381.5,541.9 L380.5,541.9 L379.5,541.9 L378.5,541.9 L377.5,541.9 L376.5,541.9 L375.5,541.9 L374.5,541.9 L373.5,541.9 L372.5,541.9 L371.5,541.9 L370.5,541.9 L369.5,541.9 L368.5,541.9 L367.5,541.9 L366.5,541.9 L365.5,541.9 L364.5,541.9 L363.5,541.9 L362.5,541.9 L361.5,541.9 L360.5,541.9 L359.5,541.9 L358.5,542 L357.5,542 L356.5,542 L355.5,542.1 L354.5,542.1 L353.5,542.2 L352.5,542.2 L351.5,542.2 L350.5,542.3 L349.5,542.3 L348.5,542.4 L347.5,542.4 L346.5,542.4 L345.5,542.5 L344.5,542.5 L343.5,542.6 L342.5,542.6 L341.5,542.6 L340.5,542.7 L339.5,542.7 L338.5,542.7 L337.5,542.8 L336.5,542.8 L335.5,542.9 L334.5,542.9 L333.5,542.9 L332.5,543 L331.5,543 L330.5,543.1 L329.5,543.1 L328.5,543.1 L327.5,543.2 L326.5,543.2 L325.5,543.3 L324.5,543.3 L323.5,543.3 L322.5,543.4 L321.5,543.5 L320.5,543.6 L319.5,543.7 L318.5,543.8 L317.5,543.9 L316.5,544 L315.5,544.1 L314.5,544.2 L313.5,544.3 L312.5,544.4 L311.5,544.5 L310.5,544.6 L309.5,544.7 L308.5,544.8 L307.5,544.9 L306.5,545 L305.5,545.1 L304.5,545.2 L303.5,545.4 L302.5,545.5 L301.5,545.6 L300.5,545.7 L299.5,545.8 L298.5,545.9 L297.5,546 L296.5,545.6 L295.5,545.1 L294.5,544.6 L293.5,544.3 L292.5,544.3 L291.5,544.4 L290.5,544.4 L289.5,544.4 L288.5,544.4 L287.5,544.4 L286.5,544.5 L285.5,544.5 L284.5,544.5 L283.5,544.5 L282.5,544.6 L281.5,544.6 L280.5,544.6 L279.5,544.6 L278.5,544.6 L277.5,544.7 L276.5,544.7 L275.5,544.7 L274.5,544.7 L273.5,544.8 L272.5,544.8 L271.5,544.8 L270.5,544.8 L269.5,544.8 L268.5,544.9 L267.5,544.9 L266.5,544.9 L265.5,544.9 L264.5,545 L263.5,545 L262.5,545 L261.5,545 L260.5,545.1 L259.5,545.1 L258.5,545.1 L257.5,545.1 L256.5,545.1 L255.5,545.2 L254.5,545.2 L253.5,545.2 L252.5,545.2 L251.5,545.3 L250.5,545.3 L249.5,545.3 L248.5,545.3 L247.5,545.3 L246.5,545.4 L245.5,545.4 L244.5,545.4 L243.5,545.4 L242.5,545.4 L241.5,545.4 L240.5,545.4 L239.5,545.3 L238.5,545.3 L237.5,545.3 L236.5,545.3 L235.5,545.3 L234.5,545.3 L233.5,545.3 L232.5,545.3 L231.5,545.3 L230.5,545.3 L229.5,545.3 L228.5,545.2 L227.5,545.2 L226.5,545.2 L225.5,545.2 L224.5,545.2 L223.5,545.2 L222.5,545.2 L221.5,545.2 L220.5,545.2 L219.5,545.2 L218.5,545.2 L217.5,545.1 L216.5,545.1 L215.5,545.1 L214.5,545.1 L213.5,545.1 L212.5,545.1 L211.5,545.1 L210.5,545.1 L209.5,545.1 L208.5,545.1 L207.5,545 L206.5,545 L205.5,545 L204.5,545 L203.5,545 L202.5,545 L201.5,545 L200.5,545 L199.5,545 L198.5,545 L197.5,545 L196.5,544.9 L195.5,544.9 L194.5,544.9 L193.5,544.9 L192.5,544.9 L191.5,544.9 L190.5,544.9 L189.5,544.9 L188.5,544.9 L187.5,544.9 L186.5,544.8 L185.5,544.8 L184.5,544.8 L183.5,544.8 L182.5,544.8 L181.5,544.8 L180.5,544.8 L179.5,544.8 L178.5,544.9 L177.5,544.9 L176.5,544.9 L175.5,544.9 L174.5,545 L173.5,545 L172.5,545 L171.5,545 L170.5,545 L169.5,545.1 L168.5,545.1 L167.5,545.1 L166.5,545.1 L165.5,545.2 L164.5,545.2 L163.5,545.2 L162.5,545.2 L161.5,545.2 L160.5,545.3 L159.5,545.3 L158.5,545.3 L157.5,545.3 L156.5,545.4 L155.5,545.4 L154.5,545.4 L153.5,545.4 L152.5,545.3 L151.5,545.3 L150.5,545.2 L149.5,545.2 L148.5,545.1 L147.5,545.1 L146.5,545.1 L145.5,545 L144.5,545 L143.5,544.9 L142.5,544.9 L141.5,544.8 L140.5,544.8 L139.5,544.7 L138.5,544.7 L137.5,544.6 L136.5,544.6 L135.5,544.6 L134.5,544.5 L133.5,544.5 L132.5,544.4 L131.5,544.4 L130.5,544.3 L129.5,544.3Z" fill="rgb(78,48,150)" fill-opacity="0.25"/>
<line x1="159.3" y1="238.5" x2="159.3" y2="550" stroke="#c3c3c3" stroke-width="1.2"/>
<line x1="159.3" y1="550" x2="159.3" y2="556.5" stroke="#333" stroke-width="1.2"/>
<text x="159.3" y="567" text-anchor="middle" font-family="Liberation Sans" font-size="11.5" fill="#444">Apr</text>
<line x1="285.4" y1="238.5" x2="285.4" y2="550" stroke="#c3c3c3" stroke-width="1.2"/>
<line x1="285.4" y1="550" x2="285.4" y2="556.5" stroke="#333" stroke-width="1.2"/>
<text x="285.4" y="567" text-anchor="middle" font-family="Liberation Sans" font-size="11.5" fill="#444">May</text>
<line x1="407.9" y1="238.5" x2="407.9" y2="550" stroke="#c3c3c3" stroke-width="1.2"/>
<line x1="407.9" y1="550" x2="407.9" y2="556.5" stroke="#333" stroke-width="1.2"/>
<text x="407.9" y="567" text-anchor="middle" font-family="Liberation Sans" font-size="11.5" fill="#444">Jun</text>
<line x1="534.9" y1="238.5" x2="534.9" y2="550" stroke="#c3c3c3" stroke-width="1.2"/>
<line x1="534.9" y1="550" x2="534.9" y2="556.5" stroke="#333" stroke-width="1.2"/>
<text x="534.9" y="567" text-anchor="middle" font-family="Liberation Sans" font-size="11.5" fill="#444">Jul</text>
<line x1="661.9" y1="238.5" x2="661.9" y2="550" stroke="#c3c3c3" stroke-width="1.2"/>
<line x1="661.9" y1="550" x2="661.9" y2="556.5" stroke="#333" stroke-width="1.2"/>
<text x="661.9" y="567" text-anchor="middle" font-family="Liberation Sans" font-size="11.5" fill="#444">Aug</text>
<line x1="129.5" y1="238.4" x2="129.5" y2="550.6" stroke="#222" stroke-width="1.3"/>
<line x1="128.9" y1="550.5" x2="761.3" y2="550.5" stroke="#1a1a1a" stroke-width="1.2"/>
<line x1="123" y1="523.2" x2="129.5" y2="523.2" stroke="#222" stroke-width="1.2"/>
<text x="121" y="527.2" text-anchor="end" font-family="Liberation Sans" font-size="11.5" fill="#333">5</text>
<line x1="123" y1="493.6" x2="129.5" y2="493.6" stroke="#222" stroke-width="1.2"/>
<text x="121" y="497.6" text-anchor="end" font-family="Liberation Sans" font-size="11.5" fill="#333">10</text>
<line x1="123" y1="463.9" x2="129.5" y2="463.9" stroke="#222" stroke-width="1.2"/>
<text x="121" y="467.9" text-anchor="end" font-family="Liberation Sans" font-size="11.5" fill="#333">15</text>
<line x1="123" y1="434.3" x2="129.5" y2="434.3" stroke="#222" stroke-width="1.2"/>
<text x="121" y="438.3" text-anchor="end" font-family="Liberation Sans" font-size="11.5" fill="#333">20</text>
<line x1="123" y1="404.6" x2="129.5" y2="404.6" stroke="#222" stroke-width="1.2"/>
<text x="121" y="408.6" text-anchor="end" font-family="Liberation Sans" font-size="11.5" fill="#333">25</text>
<line x1="123" y1="375.0" x2="129.5" y2="375.0" stroke="#222" stroke-width="1.2"/>
<text x="121" y="379.0" text-anchor="end" font-family="Liberation Sans" font-size="11.5" fill="#333">30</text>
<line x1="123" y1="345.3" x2="129.5" y2="345.3" stroke="#222" stroke-width="1.2"/>
<text x="121" y="349.3" text-anchor="end" font-family="Liberation Sans" font-size="11.5" fill="#333">35</text>
<line x1="123" y1="315.7" x2="129.5" y2="315.7" stroke="#222" stroke-width="1.2"/>
<text x="121" y="319.7" text-anchor="end" font-family="Liberation Sans" font-size="11.5" fill="#333">40</text>
<line x1="123" y1="286.0" x2="129.5" y2="286.0" stroke="#222" stroke-width="1.2"/>
<text x="121" y="290.0" text-anchor="end" font-family="Liberation Sans" font-size="11.5" fill="#333">45</text>
<line x1="123" y1="256.3" x2="129.5" y2="256.3" stroke="#222" stroke-width="1.2"/>
<text x="121" y="260.3" text-anchor="end" font-family="Liberation Sans" font-size="11.5" fill="#333">50</text>
<text transform="translate(97,393.5) rotate(-90)" text-anchor="middle" font-family="Liberation Sans" font-size="11.5" fill="#444">Polling Averages (%)</text>
<polyline points="332.2,57.2 337,62.2 341.8,57.2" fill="none" stroke="#111" stroke-width="2.2"/>
<circle cx="377" cy="60.4" r="8.8" fill="none" stroke="#6e6e6e" stroke-width="1.8"/>
<circle cx="377" cy="57" r="1.1" fill="#6e6e6e"/>
<line x1="377" y1="59.6" x2="377" y2="65.2" stroke="#6e6e6e" stroke-width="1.8"/>
</svg>
</body></html>
